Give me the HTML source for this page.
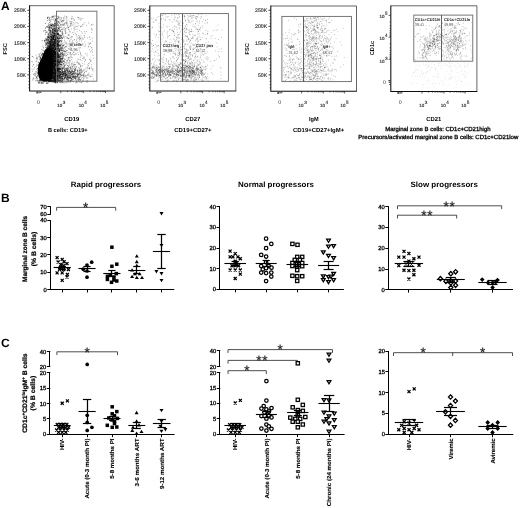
<!DOCTYPE html>
<html><head><meta charset="utf-8"><title>Figure</title>
<style>
html,body{margin:0;padding:0;background:#fff;}
body{width:520px;height:508px;overflow:hidden;font-family:"Liberation Sans",sans-serif;}
svg{display:block;font-family:"Liberation Sans",sans-serif;}
</style></head><body>
<svg width="520" height="508" viewBox="0 0 520 508" text-rendering="geometricPrecision">
<defs><filter id="b1" x="-20%" y="-20%" width="140%" height="140%"><feGaussianBlur stdDeviation="0.7"/></filter><filter id="soft2" x="0" y="0" width="520" height="508" filterUnits="userSpaceOnUse"><feGaussianBlur stdDeviation="0.22"/></filter><filter id="soft" x="0" y="0" width="520" height="508" filterUnits="userSpaceOnUse"><feGaussianBlur stdDeviation="0.42"/></filter></defs>
<rect width="520" height="508" fill="#fff"/>
<g filter="url(#soft)">
<g filter="url(#b1)">
<path d="M45.6 49.5 C44 53 42 57 40.4 60.5 C38.8 63.5 37.9 66 37.9 70 C37.9 74 38.4 77.5 40.2 79.8 C42.5 81.6 46.5 82 49.5 80.8 C52 79.6 52.8 77 52.9 73 C53 66 52.8 60 52.7 55 C52.6 51 52 48.6 49.8 48.2 C47.8 48 46.4 48.4 45.6 49.5Z" fill="#000"/>
</g>
<path d="M44.65 71.65h0.8M44.76 64.88h0.8M42.16 68.55h0.8M49.71 65.41h0.8M49.44 64.3h0.8M47.06 66.39h0.8M39.44 80.12h0.8M47.47 68.46h0.8M39.34 59.33h0.8M42.31 66.34h0.8M46.73 64.89h0.8M47.53 59.23h0.8M46.74 68.42h0.8M43.15 82.98h0.8M47.66 73.87h0.8M43.3 63.07h0.8M44.33 67.04h0.8M47.94 65.94h0.8M43.94 60.62h0.8M43.67 78.42h0.8M42.61 71.74h0.8M47.18 52.8h0.8M45.78 76.8h0.8M38.15 72.07h0.8M45.21 60.36h0.8M47.44 63.99h0.8M40.18 79.09h0.8M48.08 71.39h0.8M50.93 63.58h0.8M46.04 55.58h0.8M47.88 59.09h0.8M43.93 58.17h0.8M42.02 66.15h0.8M50.37 44.95h0.8M40.21 74.33h0.8M50.94 65.3h0.8M38.57 53.96h0.8M46.92 59.14h0.8M41.46 78.89h0.8M49.68 63.3h0.8M46.51 69h0.8M51.5 65.02h0.8M47.52 68.8h0.8M39.8 83.15h0.8M49.13 66.89h0.8M38.3 69.4h0.8M48.72 48.53h0.8M44.92 75.44h0.8M47.64 63.06h0.8M46.8 70.41h0.8M46.05 75.22h0.8M43.15 65.85h0.8M49.45 62.5h0.8M42.34 77.67h0.8M51.02 56.99h0.8M40.49 71.01h0.8M45.05 64.71h0.8M50.8 52.56h0.8M50.26 51.2h0.8M42.69 74.76h0.8M49.78 68.83h0.8M46.88 66.25h0.8M46.16 70.51h0.8M44.95 69.44h0.8M47.72 64.19h0.8M48.43 67.95h0.8M53.04 60.97h0.8M44.02 65.24h0.8M45.55 73.98h0.8M44.35 70.96h0.8M52.4 38.45h0.8M41.44 73.01h0.8M47.07 66.8h0.8M44 73.51h0.8M46.64 61.16h0.8M54.59 59.51h0.8M43.55 67.95h0.8M44.77 66.91h0.8M35.51 73.64h0.8M49.33 53.02h0.8M45.35 74.43h0.8M48.77 75.02h0.8M39.3 70.55h0.8M44.34 72.89h0.8M49.64 40.52h0.8M49.63 50.46h0.8M48.13 51.74h0.8M46.25 75.39h0.8M45.05 68.64h0.8M48.55 64.41h0.8M45.27 79.18h0.8M49.48 59.89h0.8M55.76 46.16h0.8M48.98 60.66h0.8M46.09 71.63h0.8M46.42 70.73h0.8M39.95 60.55h0.8M47.88 56.27h0.8M41.8 58.84h0.8M50.29 67.37h0.8M51.05 53h0.8M45.6 57.33h0.8M48.43 76.17h0.8M42.31 82.65h0.8M49.26 61.07h0.8M45.24 62.04h0.8M47.08 68.18h0.8M51.14 52.23h0.8M49.8 73.85h0.8M50.97 59.17h0.8M42.85 77.7h0.8M46.03 67.03h0.8M50.87 58.61h0.8M37.1 72.69h0.8M38.74 80.59h0.8M46.77 60.3h0.8M45.56 73.23h0.8M45.89 76.84h0.8M45.37 75.11h0.8M51.12 73.4h0.8M43.11 76.29h0.8M38.66 65.39h0.8M38.34 83.04h0.8M41.04 71.39h0.8M44.89 67.05h0.8M43.41 70.77h0.8M52.23 59.6h0.8M47.56 72.39h0.8M44.87 57.18h0.8M43.55 77.38h0.8M39.51 68.36h0.8M49.33 68.79h0.8M45.63 72.94h0.8M46.21 56.35h0.8M39.81 67.7h0.8M49.01 58.22h0.8M42.26 63.96h0.8M39.93 71.76h0.8M41.24 74.2h0.8M36.87 78.69h0.8M43.23 53.49h0.8M48.28 61.35h0.8M37.35 68.5h0.8M46.68 61.64h0.8M48.49 69.35h0.8M48.07 66.43h0.8M50.53 66.4h0.8M47.27 47.92h0.8M48.92 73.39h0.8M44.5 63.93h0.8M52.78 44.51h0.8M42.17 75.8h0.8M52.58 57.89h0.8M47.68 71.48h0.8M42.25 69.45h0.8M46.68 71.95h0.8M45.47 65.07h0.8M41.84 67.73h0.8M48.9 63.71h0.8M42.44 63.19h0.8M55.47 64.86h0.8M47.96 43.08h0.8M47.9 67.85h0.8M51.83 63.12h0.8M45.35 70.97h0.8M38.41 82.68h0.8M46.8 59.54h0.8M50.5 75.67h0.8M40.41 66.82h0.8M46.68 66.79h0.8M44.13 60.28h0.8M53.45 66.25h0.8M41.18 60.53h0.8M51.9 67.55h0.8M52.34 65.64h0.8M42.37 72.13h0.8M37.61 69.24h0.8M45.38 70.94h0.8M42.91 68.45h0.8M47.3 67.67h0.8M47.96 65.6h0.8M44.4 74.15h0.8M45.78 59.66h0.8M43.28 69.03h0.8M45.19 68.21h0.8M45.6 67.92h0.8M45.1 56.93h0.8M47.16 73.26h0.8M47.21 63.22h0.8M47.25 56.93h0.8M38.58 74.66h0.8M42.16 76.21h0.8M41.59 49.76h0.8M41.75 83.39h0.8M44.19 57.04h0.8M42.78 73.78h0.8M47.44 65.91h0.8M51.09 66.17h0.8M45.52 71.38h0.8M51.72 67.61h0.8M49.39 53.65h0.8M45.05 72.97h0.8M44.5 76.29h0.8M47.81 71.38h0.8M50.19 59.75h0.8M44.33 74.92h0.8M49.23 62.58h0.8M41.28 72.73h0.8M46.93 74.12h0.8M48.5 63.53h0.8M48.76 67.38h0.8M46.36 66.11h0.8M44.7 73h0.8M41.7 65.72h0.8M45.62 54.71h0.8M43.99 52.12h0.8M43.07 73.83h0.8M47.7 63.77h0.8M44.74 56.05h0.8M52.36 63.24h0.8M49.65 54.98h0.8M44.91 52.63h0.8M48.49 70.85h0.8M38.58 73.77h0.8M47.93 49.79h0.8M38.85 65.33h0.8M43.27 57.77h0.8M45.72 68.38h0.8M47.95 69.57h0.8M51.16 69.77h0.8M40.75 67.75h0.8M41.68 62.14h0.8M45.3 66.87h0.8M47.41 51.76h0.8M41.02 71.33h0.8M44.86 64.81h0.8M45.37 60.65h0.8M48.19 66.51h0.8M45.28 61.45h0.8M44.96 45.33h0.8M41.97 70.77h0.8M40.03 74.2h0.8M46.15 54.83h0.8M44.67 64.99h0.8M47.3 69.56h0.8M45.47 59.8h0.8M45.07 66.56h0.8M48.32 65.89h0.8M42.93 58.54h0.8M44.22 62.06h0.8M41.49 70.07h0.8M43.78 69.34h0.8M47.54 61.06h0.8M54.2 54.5h0.8M49.68 63.02h0.8M49.73 42.88h0.8M42.82 71.53h0.8M47.83 82.84h0.8M46.79 75.48h0.8M48.44 71.01h0.8M47.49 63.18h0.8M47.48 55.77h0.8M49.97 53.54h0.8M46.52 82.54h0.8M44.77 67.56h0.8M49.9 62h0.8M42.61 71.85h0.8M47.75 69.85h0.8M51.77 59.9h0.8M46.59 61.97h0.8M50.83 55.11h0.8M48.09 59.91h0.8M43.03 75.09h0.8M50.54 61.02h0.8M43.09 75.77h0.8M45.42 69.2h0.8M51.23 69.43h0.8M45.61 72.8h0.8M43.2 68.76h0.8M50.65 51.2h0.8M40.03 59.57h0.8M49.95 58.04h0.8M45.38 64.23h0.8M45.15 58.24h0.8M45.69 54.84h0.8M45.34 69.27h0.8M47.33 62.74h0.8M42.26 71.44h0.8M43.81 81.05h0.8M48.44 62.46h0.8M43.86 62.76h0.8M42.13 67.46h0.8M46.69 69.45h0.8M47.7 81.06h0.8M42.99 69.46h0.8M55.94 40.18h0.8M43.67 69.98h0.8M46.17 69.15h0.8M44.72 70.41h0.8M45.8 72.49h0.8M38.6 67.05h0.8M45.59 58.22h0.8M41.73 75.78h0.8M43.2 74.24h0.8M48.36 65.94h0.8M47.48 63.6h0.8M40.39 71.97h0.8M47.28 60.41h0.8M45.23 72.92h0.8M42.35 75.2h0.8M52.49 54.5h0.8M46.14 64.7h0.8M51.3 62.8h0.8M48.92 57.32h0.8M45.54 66.49h0.8M48.93 48.8h0.8M48.35 62.43h0.8M47.26 67.63h0.8M40.05 70.87h0.8M51.12 55.83h0.8M41.82 59.72h0.8M41.08 74.14h0.8M51.86 63.1h0.8M46.51 83.46h0.8M43.68 63.19h0.8M47.56 68.77h0.8M41.85 61.21h0.8M46.68 67.31h0.8M40.76 70.17h0.8M43.59 72.4h0.8M45.17 66.28h0.8M44.29 76.4h0.8M50.75 57.92h0.8M48.73 56.98h0.8M45.87 72.24h0.8M51.2 57.29h0.8M45.33 68.38h0.8M40.06 72.7h0.8M43.1 72.22h0.8M41.42 55.19h0.8M45.74 68.44h0.8M43.57 75.87h0.8M44.59 62.74h0.8M47.37 51.96h0.8M43.09 69.08h0.8M48.74 61.75h0.8M46.74 59.98h0.8M46.72 78.65h0.8M43.22 69.25h0.8M46.24 74.03h0.8M41.02 54.63h0.8M47.84 70.44h0.8M46.36 67.71h0.8M49.04 65.7h0.8M51.76 49.81h0.8M44.21 40.33h0.8M48.61 60.22h0.8M49.02 80.07h0.8M45.58 64.48h0.8M43.75 61.79h0.8M43.27 74.19h0.8M45.74 66.88h0.8M44.96 74.55h0.8M47.43 63.36h0.8M48.06 62.59h0.8M41.33 82.87h0.8M47.32 56.92h0.8M49.59 64.9h0.8M46.83 72.31h0.8M46.33 64.5h0.8M39.87 80.58h0.8M45.71 64.08h0.8M46.9 65.71h0.8M48.1 60.78h0.8M45.47 49.46h0.8M44.03 73.65h0.8M50.55 58.16h0.8M45.15 79.72h0.8M44.39 73.72h0.8M51.81 60.02h0.8M50.14 55.82h0.8M46.37 65.04h0.8M46.03 75.11h0.8M54.44 51.47h0.8M43.47 72.83h0.8M41.7 74.77h0.8M47.72 61.95h0.8M47.57 51.9h0.8M48.41 51.01h0.8M43.02 64.85h0.8M44.12 75.03h0.8M45.9 62.98h0.8M47.61 77.01h0.8M45.62 69.41h0.8M50.19 63.63h0.8M53.77 41.6h0.8M45.46 70.01h0.8M49.17 67.97h0.8M44.59 59.13h0.8M45.98 74.39h0.8M41.57 62.66h0.8M45.51 51.03h0.8M44.64 64.05h0.8M47.27 59.03h0.8M42.34 66.9h0.8M45.42 61.36h0.8M45.64 72.48h0.8M49.98 75.4h0.8M42.7 66.3h0.8M42.92 69.17h0.8M47.53 53.46h0.8M47.32 64.41h0.8M38.84 76.24h0.8M50.02 46.65h0.8M48.59 64.91h0.8M47.36 68.13h0.8M50.42 59.42h0.8M48.83 59.67h0.8M48.29 57.01h0.8M45.2 80.85h0.8M47.25 63.42h0.8M41.36 64.79h0.8M46.32 73.27h0.8M47.18 68.99h0.8M45.45 77.54h0.8M44.15 63.66h0.8M48.89 63.41h0.8M44.57 63h0.8M44.65 72.55h0.8M46.91 55.35h0.8M47.18 66.21h0.8M41.9 76.76h0.8M44.56 64.94h0.8M48.54 73.89h0.8M43.05 72.81h0.8M43.77 78.1h0.8M43.2 75.64h0.8M53.81 37.09h0.8M43.99 72.28h0.8M45.26 61.5h0.8M53.56 58.42h0.8M39.52 80.02h0.8M39.23 82.72h0.8M43.46 70h0.8M50.27 62.34h0.8M40.45 58.5h0.8M49.98 67.66h0.8M42.58 76.71h0.8M47.44 69.69h0.8M37.24 73.22h0.8M48.93 68.75h0.8M48.86 43.18h0.8M46.23 69.77h0.8M55.04 48.5h0.8M44.38 68.12h0.8M48.88 59.35h0.8M49.84 55.52h0.8M46.59 61.18h0.8M46.19 60.31h0.8M39.69 81.75h0.8M46.72 60.78h0.8M46.34 73.64h0.8M41.98 69.57h0.8M47.59 68.55h0.8M44.36 50.92h0.8M50.2 64.1h0.8M45.65 64.21h0.8M46.57 62.01h0.8M41.81 64.7h0.8M43.39 64h0.8M41.31 76.31h0.8M40.75 77.11h0.8M41.85 73.44h0.8M50.68 62.57h0.8M42.9 69.85h0.8M46.15 51.97h0.8M43.35 70.27h0.8M43.86 69.04h0.8M48.32 69.69h0.8M48.95 67.56h0.8M44.53 67.52h0.8M44.6 65.08h0.8M44.94 53.37h0.8M44.37 67.66h0.8M42 70.25h0.8M47.51 63.09h0.8M53.28 37.14h0.8M44.84 52.66h0.8M36.34 77.66h0.8M47.52 61.97h0.8M47.64 46.24h0.8M48.75 66.04h0.8M45.68 61.69h0.8M47.96 60.01h0.8M46.43 61.5h0.8M37.29 75.35h0.8M46.35 71.74h0.8M42.36 69.78h0.8M47.88 65.17h0.8M50.2 77.48h0.8M42.24 54.74h0.8M48.77 75.32h0.8M49.01 69.31h0.8M43.31 63.27h0.8M48.89 55.58h0.8M38.89 65.83h0.8M54.82 71.87h0.8M43.06 63.42h0.8M46.46 59.54h0.8M50.45 60.56h0.8M41.58 81.42h0.8M43.44 70.64h0.8M45.55 64.02h0.8M46.8 59.62h0.8M38.78 56.22h0.8M40.91 65.53h0.8M45.52 67.04h0.8M47.66 65.21h0.8M42.66 64.02h0.8M37.76 73.72h0.8M47.39 68.79h0.8M45.15 65.59h0.8M49.06 62.83h0.8M48.33 68.19h0.8M46.39 76.14h0.8M43.48 65.94h0.8M42.61 63.37h0.8M51.36 74.34h0.8M45.68 70.97h0.8M49.95 68.23h0.8M50.06 51.47h0.8M43.23 72.73h0.8M50.91 61.52h0.8M42.42 67.13h0.8M43.16 62.28h0.8M51.15 55.39h0.8M49.98 64.4h0.8M43.34 72.28h0.8M51.6 64.94h0.8M50.27 62.18h0.8M47.51 62.79h0.8M47.18 75.22h0.8M40.3 71.79h0.8M46.49 60.94h0.8M44.46 74.07h0.8M53.01 63.45h0.8M46.81 52.71h0.8M52.73 59.31h0.8M45.47 57.65h0.8M45.39 57.92h0.8M45.86 69.96h0.8M45.72 68.62h0.8M42.45 81.44h0.8M43.18 54.53h0.8M44.91 61.12h0.8M41.86 67.74h0.8M46.68 55.82h0.8M45.09 78.52h0.8M48.13 62.51h0.8M46.07 65.02h0.8M45.42 72.58h0.8M45.26 47.55h0.8M45.52 59.44h0.8M48.01 58.96h0.8M46.15 83.4h0.8M41.73 61.7h0.8M40.38 52.97h0.8M38.65 77.04h0.8M43.24 54.07h0.8M40.11 77.47h0.8M42.73 66.69h0.8M46.82 76.06h0.8M52.78 66.94h0.8M46.13 67.4h0.8M52.27 70.68h0.8M44.45 71.44h0.8M46.66 65.76h0.8M43.75 57.86h0.8M43.62 56.25h0.8M50.13 65.86h0.8M41.14 82.6h0.8M48.9 47.55h0.8M52.41 65.55h0.8M53.24 48.25h0.8M47.56 67.75h0.8M46.35 67.06h0.8M49.5 50.22h0.8M41 60.32h0.8M43.54 63.89h0.8M46.96 67.15h0.8M45.72 60.93h0.8M43.96 75.94h0.8M48.43 64.22h0.8M44.41 80.29h0.8M43.4 74.12h0.8M49.87 59.69h0.8M48.65 54.19h0.8M49.35 64h0.8M39.73 78.31h0.8M42.3 80.42h0.8M43.09 67.93h0.8M46.65 62.68h0.8M46.56 61h0.8M48.09 63.82h0.8M46.38 43.52h0.8M49.9 62.05h0.8M39 74.49h0.8M47.33 73.21h0.8M41.59 83.32h0.8M45.06 72.56h0.8M44.24 59.02h0.8M49.66 69.34h0.8M51.29 67.16h0.8M43.48 55.46h0.8M43.19 63.71h0.8M42.58 74.48h0.8M46.81 63h0.8M46.24 64.63h0.8M46.39 71.68h0.8M49.15 57.1h0.8M46.02 74.92h0.8M39.52 70.5h0.8M45.7 54.8h0.8M43.69 74.41h0.8M49.59 74.94h0.8M42.4 58.73h0.8M47.53 71.95h0.8M46.31 55.26h0.8M48.49 69.7h0.8M47.65 60.34h0.8M46.72 71.62h0.8M43.53 53.94h0.8M46.82 69.03h0.8M45.65 73.59h0.8M43.43 68.21h0.8M44.47 72.33h0.8M51.5 58.02h0.8M53.2 70.47h0.8M48.53 68.02h0.8M52.15 57.88h0.8M45.19 58.41h0.8M47.35 75.39h0.8M47.57 67.74h0.8M44.86 68.68h0.8M40.33 80.7h0.8M44.08 59.28h0.8M42.82 62.92h0.8M48.76 71.54h0.8M40.58 79.44h0.8M48.89 58.25h0.8M40.1 66.53h0.8M43.25 71.82h0.8M44.28 51.65h0.8M46.46 53.22h0.8M48.95 53.13h0.8M43.04 62.44h0.8M43.59 79.13h0.8M48.75 67.89h0.8M46.78 52.77h0.8M43.67 64.17h0.8M41.98 74.55h0.8M42.86 63.8h0.8M41.74 54.19h0.8M47.8 74.79h0.8M46.25 57.94h0.8M35.59 78.85h0.8M50.1 63.96h0.8M49.03 74.63h0.8M49.77 58.39h0.8M49.49 68.47h0.8M39.91 69.47h0.8M40.33 71.39h0.8M47.74 55.57h0.8M46.99 76.8h0.8M40.7 80.38h0.8M53.27 74.23h0.8M44.82 69.51h0.8M45.03 75.15h0.8M49.44 63h0.8M40.57 77.96h0.8M43.86 73.46h0.8M46.57 78.48h0.8M49.81 58.27h0.8M46.89 79.26h0.8M43.61 72.16h0.8M50.01 71.78h0.8M47.52 53.79h0.8M40.93 73.6h0.8M42.41 79.13h0.8M48.45 49.95h0.8M42.57 71.15h0.8M43.77 67.26h0.8M47.34 58.09h0.8M47.33 59.5h0.8M43.58 73.02h0.8M43.48 71.13h0.8M51.52 60.24h0.8M45.06 73h0.8M44.25 76.68h0.8M40.85 76.67h0.8M43.71 62.15h0.8M52.15 52.5h0.8M52.1 64.68h0.8M50.98 52.76h0.8M50.04 73.35h0.8M45.17 65.93h0.8M54.69 57.98h0.8M44.04 63.15h0.8M47.25 67.35h0.8M46.26 79.62h0.8M44.39 71.63h0.8M51 52.52h0.8M49.44 77.02h0.8M40.59 63.17h0.8M41.76 55.87h0.8M47.28 49.75h0.8M47.45 76.16h0.8M39.62 70.5h0.8M38.5 80.53h0.8M42.87 67.35h0.8M45.8 70.66h0.8M44.32 68.03h0.8M43.58 69.64h0.8M41.26 71.76h0.8M38.45 70.39h0.8M52.69 59.38h0.8M40.94 73.67h0.8M42 57.17h0.8M42.88 75.41h0.8M47.02 64.17h0.8M42.17 61.58h0.8M50.59 63h0.8M42.08 53.39h0.8M41.35 70.54h0.8M46.38 64.38h0.8M44.57 56.59h0.8M42.8 76.36h0.8M39.33 71.16h0.8M46.57 73.77h0.8M41.45 75.83h0.8M47.03 59.01h0.8M47.37 57.35h0.8M42.65 69.57h0.8M35.56 76.61h0.8M41.9 58.79h0.8M44.03 74.35h0.8M44.1 78.31h0.8M41.31 60.65h0.8M51.34 63.42h0.8M49.1 56.03h0.8M48.58 65.33h0.8M48 64.08h0.8M50.06 56.4h0.8M42.03 58.53h0.8M49.89 55.87h0.8M41.74 63.17h0.8M43.95 58.08h0.8M44.53 62.64h0.8M43.56 61.02h0.8M45.74 62.65h0.8M46.02 68.04h0.8M46.86 47.53h0.8M43.62 62.27h0.8M48.46 50.68h0.8M42.96 67.03h0.8M44.36 75.83h0.8M43.96 76.05h0.8M40.18 57.87h0.8M50.11 65.06h0.8M47.4 65.51h0.8M47.39 54.77h0.8M49.11 58.38h0.8M49.25 63.21h0.8M38.3 64.15h0.8M49.77 60.83h0.8M44.14 70.05h0.8M44.03 63.85h0.8M45.98 67.24h0.8M51.21 60.72h0.8M52.56 73.38h0.8M51.95 68.08h0.8M46.08 67.07h0.8M45.07 61.2h0.8M45.35 61.62h0.8M51.67 64.15h0.8M43.95 52.91h0.8M45.4 63.37h0.8M41.58 61.76h0.8M37.27 80.19h0.8M45.49 65.43h0.8M50.94 61.73h0.8M46.22 62.84h0.8M43.36 81h0.8M49.3 76.24h0.8M44.31 68.16h0.8M42.34 77.84h0.8M40.45 76.68h0.8M49.66 73.4h0.8M42.12 79.06h0.8M42.96 63.31h0.8M40.7 81.15h0.8M51.7 55.05h0.8M42.79 66.85h0.8M54.88 64.42h0.8M43.59 54.28h0.8M43.11 78.77h0.8M52.51 56.79h0.8M43.04 65.2h0.8M38.62 81.44h0.8M41.58 79.44h0.8M39.28 63.21h0.8M46.67 59.19h0.8M48.49 63.4h0.8M41.25 76.26h0.8M48.72 47.71h0.8M52.36 63.1h0.8M48.41 48.47h0.8M42.94 66.61h0.8M49.59 50.41h0.8M42.33 53.77h0.8M44.71 70.26h0.8M39.36 68.58h0.8M47.49 77.18h0.8M48.06 61.37h0.8M41.24 63.74h0.8M43.14 70.37h0.8M45.42 80.1h0.8M46.66 56.72h0.8M51.31 67.87h0.8M45.97 60.3h0.8M38.68 65.86h0.8M48.97 56.36h0.8M40.72 73.42h0.8M46.5 70.39h0.8M48.03 75.17h0.8M42.49 77.76h0.8M41.95 76.08h0.8M46.26 67.73h0.8M49.18 62.44h0.8M49.72 69.03h0.8M46.1 61.4h0.8M42.81 65.31h0.8M44.85 67.12h0.8M56.63 59.56h0.8M48.45 56.47h0.8M42.97 66.81h0.8M46.31 57.4h0.8M51.56 55.44h0.8M49.59 43.36h0.8M45.57 68.76h0.8M46.31 70.56h0.8M46.64 66.67h0.8M38.6 68.43h0.8M36.93 81.04h0.8M46.74 63.68h0.8M42.56 65.15h0.8M52.43 72.94h0.8M45.38 77.09h0.8M39.72 57.38h0.8M43.81 61.42h0.8M43.53 70.28h0.8M56.79 48.94h0.8M45.78 68.52h0.8M45.47 74.12h0.8M52.17 49.31h0.8M46.2 63.72h0.8M46.92 52.75h0.8M39.1 55h0.8M47.54 65.92h0.8M45.87 47.18h0.8M44.22 61.94h0.8M40.37 64.87h0.8M48.18 68.05h0.8M45.52 70.73h0.8M43.37 69.52h0.8M45.75 70.79h0.8M45.34 65.63h0.8M45.1 61.86h0.8M53.86 61.59h0.8M47.19 83.18h0.8M50.79 48.31h0.8M48.17 70.42h0.8M52.57 69.44h0.8M48.45 53.92h0.8M42.38 72.19h0.8M47.47 56.25h0.8M44.18 64.84h0.8M45.82 68.96h0.8M44.54 57.72h0.8M50.2 74.3h0.8M45.21 75.17h0.8M47.24 70h0.8M47.38 58.42h0.8M47.72 72.3h0.8M53.33 72.69h0.8M52.96 64.41h0.8M44.35 63.05h0.8M42.59 70.72h0.8M45.48 72.02h0.8M54.02 57.06h0.8M48.1 67.58h0.8M46.61 63.71h0.8M45.15 60.37h0.8M46.26 65.59h0.8M46.78 58.33h0.8M45.75 66.72h0.8M47.84 55.51h0.8M47.15 72.7h0.8M47.81 61.12h0.8M43.78 66.59h0.8M48.3 76.03h0.8M45.02 61.97h0.8M46.99 66.62h0.8M42.24 64.25h0.8M45.22 72.31h0.8M41.19 63.15h0.8M47.45 54.64h0.8M46 68.89h0.8M45.19 58.77h0.8M45.38 64.07h0.8M46.84 58.4h0.8M49.64 48.62h0.8M44.95 67.28h0.8M49.16 57.72h0.8M47.62 59.73h0.8M48.33 77.47h0.8M44.12 71.68h0.8M42.17 78.08h0.8M50.08 61.88h0.8M41.4 74.33h0.8M49.85 70.6h0.8M48.61 48.49h0.8M43.08 80.68h0.8M41.06 80.56h0.8M52.57 65h0.8M49.74 59.29h0.8M41.07 70.64h0.8M44.86 66.92h0.8M48.18 62.52h0.8M46.31 69.13h0.8M45.58 81.34h0.8M47.24 65.39h0.8M44.83 62.32h0.8M50.57 62.26h0.8M41.61 66.35h0.8M45.09 63.47h0.8M49.61 52.77h0.8M47.42 65.66h0.8M41.24 71.65h0.8M45.25 70.91h0.8M43.93 70.76h0.8M39.44 64.54h0.8M48.5 71.69h0.8M45.55 61.74h0.8M49.61 45.3h0.8M42.64 75.14h0.8M48.01 55.56h0.8M46.17 58.68h0.8M45.8 73.53h0.8M48.34 46.78h0.8M48.45 49.07h0.8M49.82 65.09h0.8M53.93 52.47h0.8M45.62 74.9h0.8M43.23 63.43h0.8M44.22 67.42h0.8M41.6 74.77h0.8M47.61 64.87h0.8M51.89 56.98h0.8M50.43 56.81h0.8M48.4 47.89h0.8M46.33 64.29h0.8M43.77 63.6h0.8M44.31 62.12h0.8M37.49 70.59h0.8M43.57 64.51h0.8M41.69 69.69h0.8M48.5 61.31h0.8M43.78 79.41h0.8M49.21 69.95h0.8M49.88 59.19h0.8M45.12 75.97h0.8M43.55 67.78h0.8M47 67.97h0.8M44.58 75.52h0.8M44.94 73.05h0.8M49.56 67.46h0.8M48.31 54.21h0.8M40.75 66.84h0.8M47.36 76.64h0.8M41.08 73.92h0.8M42.44 64.07h0.8M44.58 73.18h0.8M46.39 75.12h0.8M41.95 77.64h0.8M49.04 63.29h0.8M47.37 60.04h0.8M41.57 67.66h0.8M43.81 81.73h0.8M46.35 68.19h0.8M48.35 57.23h0.8M48.99 65.81h0.8M39.99 77.47h0.8M47.64 67.9h0.8M51.46 56.75h0.8M47.49 70.44h0.8M42.27 79.79h0.8M40.23 61.93h0.8M47.53 55.63h0.8M45.17 53.75h0.8M45.86 57.11h0.8M46.87 52.8h0.8M47.26 62.54h0.8M45.84 65.7h0.8M46.08 55.35h0.8M36.11 77.16h0.8M42.14 66.64h0.8M47.18 48.82h0.8M42.78 64.69h0.8M41.69 73.41h0.8M45.08 60.47h0.8M41.96 76.98h0.8M43.16 73.87h0.8M47.26 49.46h0.8M41.59 70.91h0.8M46.87 71.38h0.8M48.57 71.56h0.8M44.22 66.32h0.8M48.47 59.94h0.8M49.51 49.45h0.8M48.02 62.46h0.8M38.32 82.34h0.8M46.75 65.41h0.8M41.62 67.12h0.8M51.19 53.73h0.8M41.16 70.3h0.8M44.14 60.76h0.8M42.49 78.33h0.8M43.59 59.92h0.8M48.51 67.85h0.8M41.74 76.74h0.8M38.79 66.53h0.8M49.77 59.88h0.8M40.78 75.9h0.8M48.99 62.61h0.8M38.91 71.03h0.8M47.15 70.99h0.8M52.46 56.96h0.8M43.81 68.15h0.8M50.06 54.05h0.8M50.43 39.12h0.8M48.55 57.84h0.8M47.3 70.17h0.8M41.22 70.6h0.8M46.49 70.25h0.8M42.16 62.3h0.8M44.89 65.49h0.8M40.07 80.03h0.8M43.62 80.2h0.8M48.75 63.22h0.8M48.29 54.62h0.8M44.39 63.19h0.8M40.9 71.78h0.8M45.06 78.62h0.8M42.2 66.49h0.8M47.16 68.04h0.8M45.7 62.58h0.8M47.43 67.39h0.8M38.78 71.86h0.8M40.51 62.57h0.8M46.14 66.39h0.8M46.02 59h0.8M44.86 59.98h0.8M47.01 70.49h0.8M52.09 69.57h0.8M42.62 66.08h0.8M42.13 72.76h0.8M52.93 64.17h0.8M37.46 65.3h0.8M40.82 75.88h0.8M45.6 68.91h0.8M52.19 52.64h0.8M46.87 58.85h0.8M38.09 62.47h0.8M36.56 76.95h0.8M45.76 74.3h0.8M45.08 61.49h0.8M39.07 75.05h0.8M45.69 71.35h0.8M44.1 72.15h0.8M48.62 62.01h0.8M43.91 66.86h0.8M42.03 68.74h0.8M44.48 69.41h0.8M50.54 71.6h0.8M43.95 73.15h0.8M46.69 71.43h0.8M45.68 68.55h0.8M43.87 62.09h0.8M48.83 73.41h0.8M54.1 40.29h0.8M55.78 53.47h0.8M52.01 35.6h0.8M48.45 57.5h0.8M57.1 18.67h0.8M53.68 63.3h0.8M50.44 61.17h0.8M55.07 45.88h0.8M55.3 51.9h0.8M56.97 60.24h0.8M48.65 29.62h0.8M51.25 39.96h0.8M51.73 44.66h0.8M55.66 32.59h0.8M57.82 37.56h0.8M44.58 63.71h0.8M52.35 43.8h0.8M50.53 59.96h0.8M50.64 53.18h0.8M54.88 69.54h0.8M56.23 56.2h0.8M53.71 78.89h0.8M56.29 45.52h0.8M49.99 50.98h0.8M50.55 72.99h0.8M57.15 65.96h0.8M45.69 40.57h0.8M54.91 73.56h0.8M56.33 70.49h0.8M60.12 54.37h0.8M56.49 41.13h0.8M59.4 78.62h0.8M60.95 68.83h0.8M49.42 47.4h0.8M51.23 54.08h0.8M55.23 39.95h0.8M48.41 52.35h0.8M50.88 45.4h0.8M47.26 27.15h0.8M53.23 77.87h0.8M62.11 54.5h0.8M48.57 67.11h0.8M51.86 55.46h0.8M53.54 81.18h0.8M54.74 63.79h0.8M50.16 51.55h0.8M53.32 59.39h0.8M47.94 64.91h0.8M62.58 24.7h0.8M51.42 59.25h0.8M48.7 81.31h0.8M58.16 21.93h0.8M57.71 76.82h0.8M47.77 75.63h0.8M49.64 73.03h0.8M58.04 70.31h0.8M58.72 72.98h0.8M59.01 61.5h0.8M47.6 73.99h0.8M57.72 49.05h0.8M53.36 39.93h0.8M56.52 59.11h0.8M43.43 81.89h0.8M54.59 77.13h0.8M54.66 40.88h0.8M58.82 75.96h0.8M49.09 63h0.8M52.63 56.45h0.8M52.53 47.46h0.8M51.05 58.27h0.8M61.46 73.27h0.8M52.51 45.89h0.8M48.81 50.37h0.8M55.56 69.51h0.8M48.94 59.93h0.8M50.56 48.42h0.8M58.08 53.25h0.8M52.26 43.73h0.8M51.14 48.27h0.8M48.78 68.9h0.8M62.07 52.7h0.8M53.56 37.35h0.8M53.47 68.85h0.8M56.17 60.55h0.8M49.95 59.49h0.8M49.12 58.29h0.8M52.63 35.19h0.8M54.35 51.69h0.8M58.91 35.68h0.8M51.53 25.84h0.8M56.6 69.77h0.8M57.61 60.8h0.8M58.04 58h0.8M52.76 78.43h0.8M60.07 68.33h0.8M50.98 38.14h0.8M46.02 39.25h0.8M53.26 72.91h0.8M50.66 79.22h0.8M55.87 57.71h0.8M52.53 60.65h0.8M54.1 54.07h0.8M56.58 34.31h0.8M50.81 71.25h0.8M56.09 65.67h0.8M46.92 57.59h0.8M46.37 32.06h0.8M53.17 65.75h0.8M49.91 69.31h0.8M55.21 61.67h0.8M52.76 50.4h0.8M49.69 53.87h0.8M56.89 56.42h0.8M53.32 69.29h0.8M55.11 38.45h0.8M54.04 42.41h0.8M47.91 81.09h0.8M56.38 62.76h0.8M52.39 44.95h0.8M57.34 63.49h0.8M57.33 57.59h0.8M59.31 46.03h0.8M52.19 29.81h0.8M60.19 24.83h0.8M54.99 74.43h0.8M50.95 54.65h0.8M56.97 45.02h0.8M49.61 60.41h0.8M55.33 76.67h0.8M61.35 76.48h0.8M52.06 56.91h0.8M53.11 39.27h0.8M63.49 66.74h0.8M54.37 50.33h0.8M49.78 56.33h0.8M50.34 73.96h0.8M59.07 51.11h0.8M52.92 77.9h0.8M57.18 81.32h0.8M50.51 61.33h0.8M57.9 65.71h0.8M55.44 55.01h0.8M54.35 61.86h0.8M48.68 25.39h0.8M51.85 79.99h0.8M46.56 66.78h0.8M56.1 34.32h0.8M53.67 30.74h0.8M48.79 50.52h0.8M49.14 66.48h0.8M48.77 58.33h0.8M60.07 31.5h0.8M51.51 27.47h0.8M50.57 23.81h0.8M51.06 64.27h0.8M50.87 36.98h0.8M55.91 39.84h0.8M54.52 58.97h0.8M51.81 81.46h0.8M48.24 60.13h0.8M50.9 53.08h0.8M52.53 54.37h0.8M54.05 45.86h0.8M51.32 60.36h0.8M57.02 58.74h0.8M50.34 79.22h0.8M55.92 66.61h0.8M56.91 44.86h0.8M57.41 33.98h0.8M57.07 81.16h0.8M49.25 63.32h0.8M59.13 68.93h0.8M47.57 63.6h0.8M54.62 21.88h0.8M49.29 47.91h0.8M50.94 58.03h0.8M58.5 44.87h0.8M50.22 38.31h0.8M45.83 80.14h0.8M57.18 64.44h0.8M60.71 53.94h0.8M58.12 69.66h0.8M60.35 74h0.8M53.15 46.08h0.8M59.12 30.99h0.8M50.38 63.35h0.8M57.88 68.91h0.8M52.01 60.12h0.8M48.68 76.98h0.8M55.15 69.02h0.8M54.45 33.1h0.8M50.09 49.87h0.8M57.21 65.39h0.8M46.13 50.1h0.8M54.47 75.67h0.8M57.09 62.9h0.8M60.12 77.06h0.8M49.84 56.8h0.8M56.83 79.82h0.8M48.5 44.06h0.8M56.58 41.87h0.8M60.74 53.79h0.8M55.12 76.74h0.8M49.66 28.04h0.8M61.54 68.83h0.8M48.72 75.08h0.8M52.77 77.34h0.8M51.45 37.95h0.8M54.62 67.87h0.8M48.89 41.59h0.8M47.98 70.22h0.8M48.66 80.61h0.8M49.38 32.72h0.8M48.42 64.65h0.8M52.73 60.93h0.8M50.55 68.2h0.8M50.84 74.17h0.8M58.86 49.98h0.8M53.68 64.07h0.8M46.29 56.32h0.8M53.76 75.88h0.8M50.25 77.6h0.8M50.95 73h0.8M60.43 74.95h0.8M51.37 67.87h0.8M56.41 52.57h0.8M53.3 66.28h0.8M53.97 79.81h0.8M53.14 36.71h0.8M47.21 79.97h0.8M56.28 63.07h0.8M47.51 53.52h0.8M49.98 75.57h0.8M49.72 62.03h0.8M59.93 80.76h0.8M57.91 33.85h0.8M53.45 43.24h0.8M51.46 41.58h0.8M50.29 26.95h0.8M52.17 38.13h0.8M56.52 44.43h0.8M51.89 69.38h0.8M56.46 62.03h0.8M48.35 61.9h0.8M54.12 79.98h0.8M52.45 47.88h0.8M52.26 40.76h0.8M51.58 64.25h0.8M50.85 39.62h0.8M55.71 60.63h0.8M56.64 34h0.8M52.59 60.23h0.8M51.7 40.37h0.8M49.54 55.29h0.8M54.66 35.39h0.8M54.06 53.93h0.8M54.45 49.66h0.8M48.72 75.55h0.8M52.77 37.62h0.8M50.71 42.79h0.8M49 64.41h0.8M56.22 48.8h0.8M53.11 56.7h0.8M59.73 59.09h0.8M52.79 72.92h0.8M61.57 38.36h0.8M50.56 68.52h0.8M53.25 56.41h0.8M58.87 46.09h0.8M49.51 30.79h0.8M52.16 67.94h0.8M45.23 44.87h0.8M53.25 55.7h0.8M49.89 49.63h0.8M47.35 63.98h0.8M53.75 58.78h0.8M51.74 32.52h0.8M49.88 77.45h0.8M52.29 45.09h0.8M49.78 59.62h0.8M51.07 53.94h0.8M53.38 73.07h0.8M60.23 47.02h0.8M47.8 55.42h0.8M57.38 40.33h0.8M49.48 49.09h0.8M55.51 70.95h0.8M58.13 34.4h0.8M47.24 63.25h0.8M50 32.62h0.8M54.34 72.98h0.8M54.06 35.74h0.8M51.9 31.11h0.8M52.21 49.26h0.8M59.54 56.39h0.8M51.42 58.86h0.8M49.38 44.04h0.8M49.66 53.59h0.8M51.41 36.62h0.8M45.48 32.7h0.8M52.1 32.25h0.8M53.75 67.43h0.8M58.71 54.69h0.8M55.49 49.35h0.8M54.56 81.77h0.8M54.06 54.31h0.8M51.81 42.69h0.8M53.6 76.29h0.8M55.56 68.82h0.8M52.69 55.97h0.8M51.83 77.8h0.8M56.82 54.31h0.8M59.24 49.48h0.8M46.04 51.82h0.8M56.73 60.43h0.8M51.2 69.81h0.8M49.82 45.67h0.8M52.05 66.72h0.8M50.38 81.38h0.8M47.39 49.99h0.8M55.37 73.58h0.8M55.2 40.13h0.8M50.73 80.84h0.8M48.42 43.59h0.8M53.51 29.66h0.8M50.6 51.48h0.8M59.68 35.93h0.8M53.28 59.19h0.8M57.68 57.28h0.8M50.7 31.37h0.8M54.3 59.17h0.8M53.21 65.87h0.8M50.64 64.36h0.8M57.51 54.12h0.8M56.69 53.04h0.8M62.79 79.13h0.8M47.92 37.19h0.8M50.33 75.28h0.8M60.06 36.39h0.8M51.41 37.75h0.8M61.25 56.15h0.8M62.21 74.55h0.8M50.21 80.85h0.8M54.95 72.83h0.8M47.23 51.98h0.8M54.28 69.77h0.8M60.19 64.29h0.8M48.91 80.14h0.8M50.77 55.06h0.8M60.72 72.63h0.8M51.02 25.58h0.8M54.13 43.78h0.8M54.96 58.12h0.8M49.48 66.14h0.8M56.37 41.17h0.8M56.36 51.86h0.8M57.06 44.59h0.8M53.2 37.57h0.8M61.24 59.16h0.8M52.68 70.26h0.8M58.08 38.52h0.8M55.43 61h0.8M55.77 49.7h0.8M54.45 67.61h0.8M53.23 52.44h0.8M49.78 51.52h0.8M58.28 61.75h0.8M51.06 69.6h0.8M53.33 39.93h0.8M53.3 51.61h0.8M52.75 66.84h0.8M49.55 47.61h0.8M51.75 72.09h0.8M53.68 37.24h0.8M47.4 55.78h0.8M45.32 30.64h0.8M51.13 34.87h0.8M51.18 56.67h0.8M59.59 48.23h0.8M48.38 55.45h0.8M47.9 36.15h0.8M44.78 72.69h0.8M52.89 53.94h0.8M49.88 55.03h0.8M50.87 76.6h0.8M57.91 60.21h0.8M51.34 47.19h0.8M54.63 43.94h0.8M49.4 77.96h0.8M55.65 73.19h0.8M48.29 80.95h0.8M49.93 79.36h0.8M54.88 51.76h0.8M49.37 50.59h0.8M56.15 57.62h0.8M58.94 68.25h0.8M56.86 74.59h0.8M49.8 53.42h0.8M59.82 56.87h0.8M53.55 42.05h0.8M53.86 58.08h0.8M58.85 40.18h0.8M48.64 37.39h0.8M54.84 60.45h0.8M54.89 40.94h0.8M49.16 77.78h0.8M53.78 60.44h0.8M55.37 58.05h0.8M61.28 59.31h0.8M48.16 78.46h0.8M53.64 45.01h0.8M51.89 78.07h0.8M52.78 36.35h0.8M52.72 41.64h0.8M59.88 38.07h0.8M51.47 33.02h0.8M53.98 46.37h0.8M49.33 45.7h0.8M57.85 75.73h0.8M52.42 67.86h0.8M46.71 80.99h0.8M50.17 77.08h0.8M54.98 72.61h0.8M46.34 73.2h0.8M54.73 66.89h0.8M53.57 72.46h0.8M54.38 70.16h0.8M55.11 35.06h0.8M52.24 51.15h0.8M51.25 50.16h0.8M51.14 77.83h0.8M54.97 49.61h0.8M55.66 49.03h0.8M50.84 71.14h0.8M60.78 62.5h0.8M54.83 73.83h0.8M53.03 77.79h0.8M57.04 46.37h0.8M50.09 63.17h0.8M53.64 49.73h0.8M52.83 48.83h0.8M46.64 49.95h0.8M46.63 77.48h0.8M60.28 72.49h0.8M50.21 56.16h0.8M55.72 20.9h0.8M52.79 57.61h0.8M51.04 79.17h0.8M52.61 47.59h0.8M50.12 65.86h0.8M46.74 78.9h0.8M48.74 77.2h0.8M53.37 63.42h0.8M50.3 21.67h0.8M50.29 56.12h0.8M54.87 44.8h0.8M46.64 70.83h0.8M55.54 52.62h0.8M47.33 68.96h0.8M57 48.8h0.8M51.35 78.07h0.8M53.37 43.74h0.8M48.33 34.77h0.8M54.48 52.46h0.8M53.56 17.13h0.8M60.97 18.1h0.8M49.85 55.35h0.8M52.34 63.96h0.8M54.57 28.08h0.8M56.89 69.48h0.8M52.18 57.72h0.8M53.09 63.17h0.8M54.14 33.12h0.8M51.88 60.27h0.8M61.83 57.09h0.8M52.19 30.24h0.8M53.07 60.94h0.8M47.63 50.78h0.8M56.58 38.43h0.8M57.98 68.45h0.8M53.01 81.48h0.8M49.29 80.41h0.8M58.64 60.41h0.8M54.12 74.76h0.8M60.38 76.69h0.8M56.36 26.2h0.8M51.81 65.86h0.8M46.67 50.07h0.8M54 54.24h0.8M52.23 61.43h0.8M52.38 67.75h0.8M48.5 48.42h0.8M56.8 77.02h0.8M55.1 79.28h0.8M44.22 40.37h0.8M58.1 73.97h0.8M46.33 61.96h0.8M59.5 65.45h0.8M49.15 69.17h0.8M56.41 29.02h0.8M55.36 61.84h0.8M52.46 58.97h0.8M58.75 41.56h0.8M54.34 28.52h0.8M55.37 76.04h0.8M56.03 73.24h0.8M52.23 68.49h0.8M53.4 78.91h0.8M56.24 42.72h0.8M49.09 53.24h0.8M50.1 81.13h0.8M44.79 56.73h0.8M50.75 72.49h0.8M54.55 61.37h0.8M53.63 79.94h0.8M50.57 43.61h0.8M54.96 61.87h0.8M54.57 31.07h0.8M55.29 77.07h0.8M57.16 54.41h0.8M55.08 55.27h0.8M56.05 78.64h0.8M54.3 30.68h0.8M57.83 45.79h0.8M53.42 33.49h0.8M52.69 50.8h0.8M53.31 50.52h0.8M52.61 16.24h0.8M55.74 49.54h0.8M56.36 76.4h0.8M51.61 71.35h0.8M57.53 43.22h0.8M49.25 53.72h0.8M52.43 65.51h0.8M50.91 48.84h0.8M50.26 45.2h0.8M51.63 64.58h0.8M48.04 67.24h0.8M58.07 43.8h0.8M48.74 48.31h0.8M49.15 55.43h0.8M55.44 81.77h0.8M49.26 81.16h0.8M57.44 70.9h0.8M50.08 40.19h0.8M49.89 71.96h0.8M53.24 54.28h0.8M53.17 75.87h0.8M53.77 70.8h0.8M52.7 78.03h0.8M48.49 60.21h0.8M54.02 49.72h0.8M55.51 60.73h0.8M49.45 46.18h0.8M51.05 78.76h0.8M47.23 48.17h0.8M57.31 65.12h0.8M46.02 55.45h0.8M50.81 69.98h0.8M53.04 54.51h0.8M59.49 45.57h0.8M55.27 30.49h0.8M50.93 46.66h0.8M52.68 32.73h0.8M57.64 73.81h0.8M55.6 65.93h0.8M49.12 32.85h0.8M56.58 44.64h0.8M50.1 80.21h0.8M58.91 55.29h0.8M58.28 28.78h0.8M57.62 44.27h0.8M61.41 37.42h0.8M55.95 61.37h0.8M58.08 61.31h0.8M48.02 74.03h0.8M51.47 49.88h0.8M54.78 81.69h0.8M53.68 56.93h0.8M52.57 71.8h0.8M49.77 41.18h0.8M61.03 21.74h0.8M49.72 30.83h0.8M50.29 55.59h0.8M50 62.77h0.8M48.52 49.25h0.8M50.3 65.35h0.8M53.3 51.97h0.8M55.02 74.3h0.8M54.37 65.77h0.8M47.9 61.76h0.8M52.81 80.88h0.8M49.62 51.22h0.8M53.26 41.8h0.8M53.6 56.81h0.8M55.17 55.86h0.8M51.9 47.11h0.8M52.82 37.81h0.8M52.59 63.71h0.8M56.8 62.09h0.8M47.97 74.57h0.8M57.7 61.29h0.8M52.18 35.19h0.8M61.5 58.62h0.8M48.04 57.51h0.8M53.76 62.01h0.8M51.52 62.49h0.8M50.42 66.78h0.8M52.33 64.98h0.8M52.57 32.12h0.8M53.31 64.91h0.8M48.83 54.91h0.8M54.62 58.72h0.8M53.15 76.86h0.8M45.69 64.32h0.8M48.86 63h0.8M54.59 43.54h0.8M48.9 53.14h0.8M53.43 67.32h0.8M50.12 44.83h0.8M47.47 32.15h0.8M52.8 52.31h0.8M46.22 57.77h0.8M53.2 44.68h0.8M52.98 67.01h0.8M60.44 53.36h0.8M52.5 66.97h0.8M54.27 60.65h0.8M52.9 39.2h0.8M49.49 74.23h0.8M56.61 53.45h0.8M50.23 70.97h0.8M57.32 76.3h0.8M58.52 76.56h0.8M53.69 35.92h0.8M51.26 56.84h0.8M48.83 51.87h0.8M54.39 71.38h0.8M49.23 63.26h0.8M52.63 52.24h0.8M53.14 69.73h0.8M52.3 39.17h0.8M49.92 56.25h0.8M56.29 44.65h0.8M52.7 54.65h0.8M51.58 48.49h0.8M54.39 81.9h0.8M53.3 36.08h0.8M49.98 44.14h0.8M51.32 60.55h0.8M54.13 55.93h0.8M56.95 45.42h0.8M56.97 66.88h0.8M61.29 41.72h0.8M52.75 33.42h0.8M49.99 30.33h0.8M51.28 73.58h0.8M52.18 37.22h0.8M57.8 60h0.8M53.7 50.83h0.8M58.67 64.65h0.8M48.13 40.85h0.8M54.51 66.55h0.8M54.17 53.41h0.8M50.27 42.03h0.8M51.89 75.29h0.8M54.03 79.81h0.8M48.19 58.89h0.8M49.44 41.38h0.8M49.55 30.87h0.8M51.34 58.27h0.8M49.71 41.25h0.8M51.63 44.84h0.8M52.62 48.93h0.8M50.12 80.79h0.8M49.18 42.34h0.8M59.93 58.36h0.8M49.06 62.07h0.8M51.99 45.11h0.8M55.28 67.98h0.8M48.93 57.85h0.8M53.19 39.19h0.8M52.19 80.23h0.8M47.44 45.57h0.8M49.54 60.19h0.8M50.41 54.69h0.8M53.54 33.62h0.8M45.44 69.21h0.8M61.94 72.88h0.8M61.56 61.48h0.8M52.83 75.68h0.8M55.56 48.31h0.8M48.38 49.06h0.8M48.52 49.36h0.8M52.04 71.48h0.8M55.72 64.4h0.8M53.25 56.88h0.8M57.73 69.27h0.8M55.7 57.82h0.8M43.36 74.03h0.8M50 40.99h0.8M52.28 63.28h0.8M55.78 76.72h0.8M48.16 80.18h0.8M61.94 65.08h0.8M57.85 41.13h0.8M55.45 55.92h0.8M58.71 36.3h0.8M48.75 68.4h0.8M50.61 61.14h0.8M55.93 42.42h0.8M60.76 73h0.8M57.09 75.77h0.8M51.74 49.12h0.8M54.87 52.32h0.8M50.9 50.41h0.8M48.38 57.27h0.8M56.92 56.25h0.8M54.18 57.65h0.8M53.8 48.41h0.8M57.16 30.91h0.8M52.37 42.38h0.8M48.84 26.88h0.8M55.33 49.88h0.8M49.75 69.06h0.8M54.38 33.94h0.8M49.78 72.84h0.8M55.28 63.67h0.8M60.64 48.6h0.8M52.94 46.89h0.8M53.29 53.86h0.8M59.38 45.11h0.8M51.38 25.79h0.8M53.05 80.69h0.8M55.89 35.62h0.8M55.36 77.37h0.8M49.65 44.2h0.8M58.72 45.54h0.8M56.97 30.79h0.8M54.72 73.55h0.8M52.17 76.53h0.8M56.54 61.66h0.8M53.22 72.22h0.8M54.75 44.4h0.8M55.25 19.18h0.8M55.64 60.55h0.8M56.37 76.31h0.8M48.46 70.34h0.8M50.47 25.9h0.8M54.52 74.27h0.8M55.78 77.89h0.8M53.88 43.11h0.8M50.58 43.12h0.8M49.7 51.32h0.8M43.27 47.78h0.8M51.06 46.36h0.8M53.02 68.6h0.8M51.9 17h0.8M53.76 54.57h0.8M53.7 58.72h0.8M55.25 51.85h0.8M49.37 66.18h0.8M53.85 33.55h0.8M52.65 78.04h0.8M55.17 20.14h0.8M52.61 55.95h0.8M49.52 50.91h0.8M55.09 47.64h0.8M57.05 66.77h0.8M53.08 74.73h0.8M56.54 36.5h0.8M50.68 70.11h0.8M46.21 70.78h0.8M56.82 68.35h0.8M52.99 50.64h0.8M46.78 60.98h0.8M63.33 61.69h0.8M51.03 39.64h0.8M56.74 70.82h0.8M54.22 76.55h0.8M50.21 53.6h0.8M54.71 56.35h0.8M50.89 62.65h0.8M53.32 64.43h0.8M54.47 41.36h0.8M55.73 45.43h0.8M52.75 58.05h0.8M52.51 57.55h0.8M55.78 59.11h0.8M53.03 81.71h0.8M57.64 39.74h0.8M50.57 44.74h0.8M53.8 39.78h0.8M47.61 70.31h0.8M52.05 49.5h0.8M57.08 46.48h0.8M54.76 59.05h0.8M49.07 26.89h0.8M53.14 43.79h0.8M52.92 67.08h0.8M51.64 38.15h0.8M56.65 57.86h0.8M51.08 43.92h0.8M42.94 62.26h0.8M57.18 44.38h0.8M51.09 77.89h0.8M52.82 55.38h0.8M57.29 47.1h0.8M51.38 35.9h0.8M55.34 81.65h0.8M45.13 62.93h0.8M53.65 50.95h0.8M52.88 70.03h0.8M60.91 48.23h0.8M49.08 34.15h0.8M55.61 50.21h0.8M58.01 49.18h0.8M55.21 65.23h0.8M58.4 54.48h0.8M54.16 32.2h0.8M60.93 64.64h0.8M58.46 63.21h0.8M52.59 52.65h0.8M49.77 37.26h0.8M56.41 54.56h0.8M50.91 25.25h0.8M53.83 54.17h0.8M53.29 28.4h0.8M54.04 42.63h0.8M54.81 58.5h0.8M60.05 45.69h0.8M45.38 68.62h0.8M51.18 59.06h0.8M54.96 80.43h0.8M48.48 69h0.8M51.16 80.05h0.8M60.06 60.14h0.8M55.57 73.53h0.8M50.25 58.53h0.8M54.55 52.46h0.8M59.85 59.07h0.8M52.26 69.91h0.8M49.45 80.84h0.8M53.04 55.43h0.8M50.94 75.3h0.8M49.63 56.59h0.8M51.73 64.18h0.8M49.11 63.65h0.8M54.05 56.71h0.8M53.96 65.76h0.8M42.64 77.38h0.8M50.59 59.61h0.8M55.24 30.02h0.8M56.92 63.08h0.8M53.63 78.93h0.8M46.05 54.62h0.8M53.14 61.75h0.8M55.67 64.51h0.8M49.68 50.52h0.8M51.36 74.21h0.8M48.47 50.07h0.8M53.39 62.01h0.8M47.42 38.52h0.8M52.66 37.65h0.8M50.59 61.48h0.8M48.97 47.6h0.8M54.17 68.41h0.8M51.76 62.97h0.8M53.83 35.73h0.8M57.19 70.14h0.8M58.24 62.02h0.8M57.23 78.49h0.8M57.06 34.84h0.8M56.02 32.96h0.8M54.49 78.01h0.8M45.35 40.31h0.8M53.75 43.14h0.8M46.03 58.93h0.8M51.34 36.67h0.8M53.98 78.7h0.8M56.1 63.46h0.8M55.54 56.65h0.8M48.52 64.08h0.8M57.3 79.23h0.8M49.69 64.9h0.8M49.18 59.88h0.8M54.88 55.19h0.8M54.13 66.95h0.8M57.99 68.82h0.8M53.34 73.12h0.8M56.94 55.14h0.8M57.24 75.49h0.8M47.2 18.42h0.8M53.03 57.22h0.8M49.94 42.97h0.8M49.74 54.36h0.8M51.32 69.3h0.8M51.52 80.02h0.8M43.9 41.29h0.8M53.12 62.28h0.8M55.45 39.4h0.8M46.29 75.66h0.8M48.92 72.87h0.8M50.69 47.79h0.8M59.08 62.37h0.8M49.9 63.14h0.8M55 42.8h0.8M55.22 62.07h0.8M54.26 57.03h0.8M52.35 53.94h0.8M54.83 69.63h0.8M42.37 69.22h0.8M56.09 68.41h0.8M49.14 56.07h0.8M61.91 78.97h0.8M49.21 45.79h0.8M51.7 70.1h0.8M51.13 63.19h0.8M54.72 36.02h0.8M57.9 67.11h0.8M59.45 68.31h0.8M52.94 74.68h0.8M58.29 61.92h0.8M55.6 78.21h0.8M50.4 34.65h0.8M44.96 23.43h0.8M49.93 79.84h0.8M52.3 56.81h0.8M54.46 34.82h0.8M51.52 56.18h0.8M57.06 43.75h0.8M52.92 61.1h0.8M47.29 37.15h0.8M61.4 70.77h0.8M51.94 71.99h0.8M52.07 80.62h0.8M46.42 55.01h0.8M50.78 55.24h0.8M56.38 56.51h0.8M49.78 71.62h0.8M51.24 39.89h0.8M49.23 77.06h0.8M57.59 48.79h0.8M50.01 34.39h0.8M50.32 63.19h0.8M50.24 48.75h0.8M50.89 61.99h0.8M51.71 70.18h0.8M51.87 66.66h0.8M56.84 61.75h0.8M47.26 48.98h0.8M49.73 78.42h0.8M52.45 50.8h0.8M49.52 67.88h0.8M55.58 81.79h0.8M49.66 67.43h0.8M58.37 72.08h0.8M55.26 72.79h0.8M51.23 62.82h0.8M49.39 51.75h0.8M52.11 71.24h0.8M57.28 34.63h0.8M54.5 60.48h0.8M60.35 40.54h0.8M50.32 57.07h0.8M50.07 51.13h0.8M58.15 44.56h0.8M49.21 52.86h0.8M52.81 25.18h0.8M57.5 34.46h0.8M53.73 36.65h0.8M49.82 78.45h0.8M52.02 53.92h0.8M51.85 16.99h0.8M43.2 67.22h0.8M48.21 33.68h0.8M55.08 43.07h0.8M47.69 37.06h0.8M53.29 75.7h0.8M55.55 77.84h0.8M47.14 45.13h0.8M50.69 28.37h0.8M55.58 69.51h0.8M52.97 33.8h0.8M50.38 27.53h0.8M52.61 48.4h0.8M54.47 33.56h0.8M53.7 26.21h0.8M44.46 30.64h0.8M52.18 54.16h0.8M53.11 68.93h0.8M55.14 63.82h0.8M58.03 44.64h0.8M44.63 61.47h0.8M55.58 31.14h0.8M54.78 41.78h0.8M58.71 56.78h0.8M48.21 55.6h0.8M56.64 71.13h0.8M50.27 24.87h0.8M48.27 69.11h0.8M50.03 77.57h0.8M52 53.56h0.8M54.04 67.33h0.8M50.68 70.09h0.8M54.01 50.8h0.8M48.79 51.02h0.8M57.87 57.12h0.8M48.91 49.67h0.8M54.79 31.31h0.8M51.48 48.19h0.8M49.92 46.46h0.8M54.78 50.93h0.8M52.21 45.34h0.8M53.97 45.76h0.8M45.67 80.8h0.8M53.38 51.1h0.8M40.63 58.91h0.8M61.54 72.48h0.8M50.96 46.61h0.8M49.11 77.26h0.8M51.7 61.62h0.8M43.02 70.41h0.8M62.77 54.82h0.8M57.12 57.22h0.8M50.66 17.16h0.8M56.29 66.51h0.8M55.35 60.54h0.8M55.65 34.15h0.8M55.69 59h0.8M50.39 71.85h0.8M56.21 80.43h0.8M54.07 73.67h0.8M48.15 62.86h0.8M52.1 57.39h0.8M56.46 39.04h0.8M55.66 72.79h0.8M51.57 38.46h0.8M46.4 52.47h0.8M55.44 48.9h0.8M47.5 43.06h0.8M47.99 37.51h0.8M50.92 52.06h0.8M53.88 25.95h0.8M52.62 76.54h0.8M50 53.37h0.8M47.66 40.21h0.8M55.14 70.15h0.8M54.13 41.75h0.8M54.96 53.72h0.8M47.39 44.32h0.8M56.47 46.55h0.8M44.1 51.06h0.8M53.3 48.58h0.8M46.26 44.52h0.8M51.31 81.41h0.8M51.03 36.8h0.8M49.93 48.87h0.8M58.2 35.93h0.8M49.79 69.45h0.8M50.42 70.19h0.8M57.44 33.73h0.8M53.15 70.94h0.8M42.51 75.39h0.8M51.63 77.25h0.8M49.31 62.48h0.8M51.3 38.66h0.8M53.41 81.96h0.8M53.58 56.6h0.8M50.31 47.36h0.8M53.25 62.88h0.8M42.53 46.24h0.8M53.09 43.88h0.8M58.06 62.6h0.8M47.28 72.12h0.8M60.18 52.34h0.8M51.28 51.71h0.8M48.95 48.04h0.8M47.02 65.2h0.8M57.37 44.25h0.8M58.07 76.42h0.8M55.15 39.8h0.8M46.6 58.66h0.8M52.78 80.96h0.8M54.14 64.34h0.8M49.1 44.8h0.8M60.38 40.38h0.8M45.57 77.23h0.8M54.9 69.63h0.8M50.34 57.17h0.8M53.22 58.59h0.8M53.04 42.77h0.8M45.41 43.04h0.8M53.12 66.58h0.8M53.58 49.01h0.8M54.24 61.16h0.8M47.9 65.64h0.8M51.72 39.54h0.8M51.17 56.98h0.8M53.81 67.9h0.8M53.48 54.79h0.8M52.78 65.43h0.8M63.6 53.82h0.8M49.59 78.91h0.8M56.68 56.06h0.8M57.48 77.1h0.8M58.34 55.1h0.8M50.04 66.25h0.8M55.36 43.04h0.8M48.48 70.49h0.8M55.27 47.06h0.8M50.48 68.35h0.8M50.94 54.46h0.8M52.8 58.67h0.8M45.95 50.76h0.8M48.13 72.85h0.8M47.56 56.94h0.8M51.2 55.72h0.8M52.05 50.38h0.8M49.83 33.41h0.8M50.29 50.66h0.8M52.2 41.64h0.8M54.64 74.23h0.8M48.12 48.94h0.8M52.12 64.45h0.8M52.81 76.68h0.8M50.67 56.06h0.8M52.52 71.89h0.8M54.8 52.73h0.8M56.2 45.3h0.8M49.98 33.04h0.8M51.46 60.51h0.8M59.19 51.75h0.8M54.02 61.39h0.8M53.77 61.89h0.8M53.41 47.72h0.8M54.13 74.4h0.8M47.11 17.56h0.8M53.03 46.1h0.8M53.47 43.51h0.8M50.4 48.48h0.8M47.65 76.34h0.8M52.63 65.18h0.8M52.24 78.38h0.8M61.52 50.5h0.8M56.05 31.27h0.8M48.48 42.44h0.8M46.99 63.65h0.8M56.42 43.74h0.8M53.34 50.87h0.8M50.33 73.16h0.8M52.76 64.07h0.8M43.89 81.5h0.8M49.37 60.94h0.8M56.28 80.81h0.8M50.32 68.31h0.8M55.93 57.82h0.8M47.24 48.71h0.8M53.03 53.25h0.8M49.62 70.32h0.8M48.42 57.29h0.8M48.8 61.16h0.8M57.43 59.16h0.8M59.33 75.92h0.8M48.64 50.58h0.8M44.99 56.16h0.8M52.51 46.81h0.8M52.4 67.27h0.8M51.48 77.39h0.8M57.13 41.72h0.8M57.22 37.14h0.8M50.77 44.08h0.8M49.45 79.84h0.8M53.76 36.25h0.8M53.79 56.53h0.8M56.73 75.48h0.8M54.2 62.92h0.8M51.69 61.66h0.8M54.53 62.82h0.8M48.76 46.09h0.8M48.42 80.6h0.8M55.56 35.69h0.8M50.49 71.52h0.8M46.42 45.87h0.8M53.82 61.33h0.8M55.17 52.55h0.8M58.85 81.28h0.8M57.62 69.63h0.8M49.65 35.82h0.8M48.98 28.99h0.8M58.38 48.47h0.8M52.38 60.9h0.8M50.45 29.98h0.8M49.85 38.8h0.8M51.5 81.94h0.8M49.71 64.78h0.8M50.67 69.34h0.8M47.78 81.75h0.8M50.31 80.48h0.8M50.97 55.84h0.8M57.03 33.45h0.8M51.84 72.58h0.8M51.07 57.34h0.8M50.8 27.71h0.8M55.78 77.14h0.8M51.86 53.51h0.8M51.09 42.9h0.8M46.24 56.56h0.8M52.93 50.7h0.8M57.6 81.54h0.8M53.27 51.48h0.8M60.83 76.47h0.8M58.4 40.06h0.8M51.56 52.54h0.8M58.55 59.68h0.8M56.17 66.91h0.8M50.58 55.09h0.8M56.41 37.62h0.8M56.72 37.12h0.8M52.19 54.3h0.8M40.14 57.16h0.8M52.7 25.71h0.8M54.87 39.79h0.8M58.63 51.28h0.8M56.31 48.88h0.8M54.76 41.67h0.8M54.46 74.23h0.8M56.64 44.15h0.8M56.23 53.14h0.8M59.61 37.48h0.8M59.45 60.82h0.8M56.55 67.63h0.8M49.82 47.07h0.8M57.94 39.97h0.8M51.28 56.5h0.8M49.61 70.54h0.8M49.86 37.9h0.8M48.64 58.88h0.8M55.42 51.19h0.8M52.44 36.51h0.8M51.91 53.19h0.8M57.77 57.54h0.8M48.78 38h0.8M52.32 61.55h0.8M48.47 74.33h0.8M54.75 56.34h0.8M53.8 76.72h0.8M51.6 59.84h0.8M52.46 56.82h0.8M46.1 55.41h0.8M51.35 56.31h0.8M50.19 73.65h0.8M52.45 29.76h0.8M54.69 75.35h0.8M46.76 42.16h0.8M54.1 68.04h0.8M53.86 55.57h0.8M52.55 55.46h0.8M49.16 46.82h0.8M60.45 81.76h0.8M56.81 62.19h0.8M55.33 79.55h0.8M47.29 39.21h0.8M54.32 76.99h0.8M53.74 47.32h0.8M48.4 23.87h0.8M57.97 71.15h0.8M56.77 38.09h0.8M56.86 55.82h0.8M55.18 52.31h0.8M51.99 75.73h0.8M51.76 46.02h0.8M54.18 26.16h0.8M55.14 53.88h0.8M54.79 66.96h0.8M49.5 73.99h0.8M52.67 36.51h0.8M54 45.69h0.8M58.32 60.26h0.8M58.73 50.94h0.8M48.31 66.44h0.8M50.96 61.31h0.8M58.06 47.19h0.8M52.45 81.95h0.8M62.11 58.71h0.8M48.33 72.05h0.8M54.94 23.92h0.8M57 23.7h0.8M52.47 54.12h0.8M52.83 27.7h0.8M53.23 81.39h0.8M54.28 41.11h0.8M57.9 39.7h0.8M56.39 61.14h0.8M57.63 65.5h0.8M52.08 78.24h0.8M51.83 61.18h0.8M49.23 49.29h0.8M54.53 59.79h0.8M54.07 73.59h0.8M51.77 60.05h0.8M58.25 18h0.8M46.4 39.17h0.8M55.05 65.09h0.8M54.49 67.67h0.8M62.35 48.45h0.8M48.71 47.56h0.8M45.64 80.57h0.8M44.62 59.17h0.8M51.22 52.77h0.8M54.28 60.4h0.8M58.61 71.22h0.8M49.62 72.29h0.8M54.87 53.14h0.8M46.92 47.08h0.8M53.71 78.12h0.8M48.74 41.15h0.8M55.01 53.39h0.8M50.05 74.41h0.8M48.16 39.47h0.8M51.47 77.07h0.8M56.05 26.97h0.8M58.07 56.16h0.8M47.66 54.81h0.8M55.14 76.31h0.8M56.13 60.9h0.8M48.12 34.15h0.8M47.89 75.52h0.8M54.63 50.94h0.8M48.28 77.94h0.8M51.13 76.96h0.8M57.8 34.91h0.8M54.21 54.67h0.8M47.84 40.74h0.8M52.04 69.71h0.8M55.31 61.11h0.8M49.64 63.05h0.8M53.17 24.89h0.8M53.69 58.41h0.8M56.16 43.68h0.8M54.11 77.65h0.8M43.81 65.48h0.8M48.1 46.39h0.8M52.66 48.94h0.8M50.8 47.13h0.8M55.69 47.67h0.8M51.77 68.01h0.8M49.81 60.79h0.8M50.81 66.81h0.8M52.23 73.6h0.8M58.64 44.81h0.8M55.32 80.54h0.8M41.78 40.58h0.8M51.43 60.89h0.8M50.38 76.51h0.8M50.91 73.14h0.8M53.64 75.57h0.8M48.62 27.72h0.8M51.76 74.9h0.8M54.93 43.05h0.8M52.36 75.18h0.8M61.81 80.94h0.8M58.93 50.75h0.8M51.61 53.7h0.8M54 53.08h0.8M56.15 66.04h0.8M52.93 29.29h0.8M54.1 63.62h0.8M47.52 40.22h0.8M52.93 25.13h0.8M53.72 73.73h0.8M56.66 65.57h0.8M54.81 81.67h0.8M50.64 64.08h0.8M50.11 73.88h0.8M54.72 33.58h0.8M49.34 24.62h0.8M57.8 79.7h0.8M51.17 46.15h0.8M55.06 73.65h0.8M46.97 78.18h0.8M54.09 73.67h0.8M53.72 65.03h0.8M50.77 50.22h0.8M53.01 56.53h0.8M53.65 37.76h0.8M60.92 53.04h0.8M52.5 37.36h0.8M48.49 57.26h0.8M51.24 78.87h0.8M60.31 60.28h0.8M52.63 36.85h0.8M50.42 53.21h0.8M52.08 60.11h0.8M45.03 38.84h0.8M50.46 67.81h0.8M57.99 42.15h0.8M50.19 56.66h0.8M54.45 39.85h0.8M49.52 75.27h0.8M54.75 62.87h0.8M54.8 73.21h0.8M51.17 57.47h0.8M49.39 64.73h0.8M57.6 43.54h0.8M53.5 32.77h0.8M51.73 31.75h0.8M46.56 58.89h0.8M51.29 49.11h0.8M50.04 67.6h0.8M48.4 30.62h0.8M52.31 56.27h0.8M61.49 40.5h0.8M48.67 66.16h0.8M54.8 60.97h0.8M44.16 56.91h0.8M52.81 67.51h0.8M51.39 52.77h0.8M52.61 63.44h0.8M46.07 78.34h0.8M51.9 58.4h0.8M58.27 62.6h0.8M49.79 70.06h0.8M48.32 50.93h0.8M47.78 78.46h0.8M55.27 54.31h0.8M54.75 34.35h0.8M56.28 55.01h0.8M55.71 58.66h0.8M63.02 63.75h0.8M49.62 61.83h0.8M46.94 59.08h0.8M51.5 59.02h0.8M53.58 50.27h0.8M52.17 77.37h0.8M45.19 62.91h0.8M60 54.8h0.8M54.14 80.94h0.8M55.07 75.22h0.8M46.81 70.13h0.8M43.6 51.32h0.8M50.41 55.6h0.8M50.69 58.74h0.8M58.29 45.75h0.8M56.24 57.61h0.8M56.01 53.36h0.8M53.38 38.21h0.8M52.27 60.13h0.8M48.68 60.38h0.8M50.88 76.03h0.8M54.09 68.97h0.8M56.02 36.23h0.8M52.26 62.95h0.8M42.47 53.06h0.8M52.64 79.11h0.8M52.29 56.42h0.8M50 81.02h0.8M46.88 20.35h0.8M51.23 74.55h0.8M51.32 81.26h0.8M45.44 43.08h0.8M51.63 72.78h0.8M53.96 80.52h0.8M55.21 76.01h0.8M49.59 51.43h0.8M53.82 55.21h0.8M50.03 76.49h0.8M49.38 49.84h0.8M50.06 54.42h0.8M52.45 74.2h0.8M49.02 52.13h0.8M49.83 54.13h0.8M54.7 80.36h0.8M50.39 69.74h0.8M55.56 38.08h0.8M48.01 63.73h0.8M48.48 44.02h0.8M54.43 52.93h0.8M54.04 70.54h0.8M56.61 81.93h0.8M57.85 38.39h0.8M48.74 70.61h0.8M54.91 60.74h0.8M50.37 69.49h0.8M52.39 73.67h0.8M50.84 71.41h0.8M53.32 73h0.8M54.68 69.36h0.8M46.53 38.93h0.8M51.11 41.85h0.8M54.87 54.16h0.8M50.88 76.9h0.8M54.68 80.53h0.8M55.72 53.46h0.8M57.35 46.18h0.8M56.84 56.98h0.8M50.9 59.67h0.8M50.06 74.58h0.8M49.79 52.23h0.8M52.76 41.23h0.8M55.87 30.52h0.8M61.05 80.92h0.8M51.58 65.23h0.8M52.81 42.68h0.8M58.45 73.35h0.8M62.24 70.84h0.8M54.79 63.9h0.8M51.08 51.23h0.8M57.36 59.48h0.8M57.31 24.86h0.8M46.48 65.57h0.8M62.07 62.15h0.8M50.2 36.95h0.8M57.6 33.35h0.8M51.47 41.41h0.8M50.94 55.7h0.8M56.14 64.76h0.8M54.9 81.77h0.8M52.82 52.21h0.8M51.95 73.57h0.8M54.46 60.34h0.8M56.71 48.67h0.8M45.14 54.82h0.8M55.22 69.93h0.8M56.32 77.8h0.8M48.45 69.66h0.8M49.92 39.4h0.8M50.46 42.04h0.8M52.28 73.61h0.8M53.79 46.49h0.8M63.02 45.56h0.8M48.56 59.28h0.8M52.1 62.84h0.8M50.26 71.78h0.8M55.62 55.98h0.8M47.42 34.14h0.8M53.51 50.65h0.8M53.03 36.5h0.8M54.43 53.85h0.8M47.82 49.24h0.8M52.96 75.31h0.8M56.56 32.11h0.8M53.11 45.75h0.8M52.41 38.3h0.8M50.76 45.94h0.8M54.28 65.07h0.8M49.29 78.35h0.8M54.7 71.34h0.8M54.81 69.35h0.8M55.33 80.13h0.8M58.62 54.92h0.8M58.84 63.88h0.8M58.69 62.48h0.8M43.87 57.47h0.8M53.14 55.35h0.8M50.51 45.79h0.8M61.28 61.76h0.8M56.17 44.74h0.8M60.03 61.19h0.8M55.28 59.86h0.8M50.79 56.24h0.8M57.93 38.38h0.8M51.98 78.32h0.8M52.23 43h0.8M52.11 44.83h0.8M46.8 61.35h0.8M55.3 20.13h0.8M58.62 42.44h0.8M53.03 35.93h0.8M53.94 72.07h0.8M56.91 75.58h0.8M56.17 29.91h0.8M48.56 51.8h0.8M55.16 69.92h0.8M47.45 59.92h0.8M49.79 30.76h0.8M55.81 53.11h0.8M55.78 52.58h0.8M63.28 51.35h0.8M50.94 69.76h0.8M49.01 69.95h0.8M56.42 59.21h0.8M51.36 66.45h0.8M56.76 80.47h0.8M55.49 45.58h0.8M48.2 25.26h0.8M49.71 70.47h0.8M50.02 57.61h0.8M55.84 81.35h0.8M52.22 53.99h0.8M53.43 50.61h0.8M60 61.5h0.8M48.57 29.83h0.8M58.29 46.66h0.8M52.7 58.17h0.8M57.91 52.05h0.8M49.22 76.49h0.8M50.29 72.77h0.8M55.87 52.89h0.8M45.17 79.39h0.8M52.88 65.93h0.8M46.04 52.05h0.8M53.7 55.12h0.8M48.78 81.29h0.8M57.3 68.33h0.8M54.61 79.93h0.8M63.56 55.05h0.8M54.94 70.21h0.8M52.88 43.43h0.8M54.24 25.16h0.8M54.51 53.32h0.8M51.63 71.44h0.8M52 49.31h0.8M56.21 70.21h0.8M53.49 69.94h0.8M50.51 66.91h0.8M58.54 54.73h0.8M55.68 75.38h0.8M59.14 38.2h0.8M57.44 43.12h0.8M50.69 74.67h0.8M50.84 69.64h0.8M52.31 80.99h0.8M53.87 60.01h0.8M56.24 42.25h0.8M55.36 37.14h0.8M46.65 72.18h0.8M51.43 40.52h0.8M53.97 45.82h0.8M45.49 27.4h0.8M50.28 58.03h0.8M50.54 24.87h0.8M50.28 74.33h0.8M49.29 81.67h0.8M45.98 48.48h0.8M52.86 55.43h0.8M53.1 66.22h0.8M52.88 47.65h0.8M56.89 43.72h0.8M54.13 23.15h0.8M48.28 74.53h0.8M54.18 67.56h0.8M56.64 58.23h0.8M53.76 35.65h0.8M55.43 24.79h0.8M55.9 39.55h0.8M53.7 62.1h0.8M52.64 45.74h0.8M49.05 42.7h0.8M54.34 33.42h0.8M49.67 53.09h0.8M59.91 56.56h0.8M54.88 63.12h0.8M54.75 70.4h0.8M48.86 79.2h0.8M54.95 27.9h0.8M46.31 61.38h0.8M48.35 37.01h0.8M52.62 39h0.8M48.07 78.74h0.8M52.86 72.23h0.8M54.08 39.78h0.8M50.18 43.2h0.8M55.7 52.89h0.8M61.86 62.24h0.8M52.9 77.83h0.8M54.41 39.18h0.8M52.76 61.19h0.8M54.47 52h0.8M57.59 69.09h0.8M57.7 62.62h0.8M52.64 53.18h0.8M57.11 55.59h0.8M56.27 58.87h0.8M50.33 43.21h0.8M56.6 51.62h0.8M60.85 43.93h0.8M53.86 52.18h0.8M49.75 65.72h0.8M48.85 47h0.8M50.62 60.13h0.8M54.59 47.7h0.8M51.86 45.11h0.8M51.04 37.66h0.8M50.84 74.24h0.8M54.22 60.62h0.8M55.52 46.18h0.8M54.64 47.27h0.8M58.06 46.74h0.8M62.61 68.78h0.8M50.07 57.34h0.8M47.3 63.9h0.8M54.07 45.59h0.8M53.34 68.53h0.8M49.53 54.61h0.8M59.02 73.2h0.8M45.92 52.92h0.8M54.9 68.22h0.8M48.98 62.14h0.8M49.5 41.44h0.8M49.43 73.58h0.8M52.86 47.44h0.8M59.98 71.61h0.8M50.22 45.17h0.8M51.4 26.07h0.8M56.62 49.35h0.8M62.34 80.38h0.8M45.25 74.65h0.8M51.22 48.12h0.8M57.05 43.68h0.8M53.94 72.42h0.8M54.69 61.77h0.8M46.56 60.41h0.8M50.16 71.2h0.8M50.45 58.31h0.8M44.04 73.72h0.8M55.64 54.22h0.8M53.09 78.97h0.8M55.3 53.26h0.8M56.75 65.1h0.8M53.07 45.75h0.8M49.29 62.95h0.8M48.72 46.51h0.8M48.35 72.65h0.8M53.7 51.59h0.8M49.07 65.57h0.8M52.44 75.3h0.8M54.7 65.72h0.8M57.04 41.01h0.8M54.9 23.36h0.8M53.65 39.4h0.8M46.41 77.93h0.8M40.74 55.78h0.8M60.27 64.51h0.8M52.35 39.35h0.8M60.68 50.58h0.8M52.66 54.71h0.8M52.16 45.43h0.8M53.76 72.11h0.8M53.06 44.49h0.8M52.68 70.85h0.8M58.47 48.04h0.8M55.01 48.84h0.8M56.74 20.93h0.8M46.05 63.08h0.8M58.03 30.38h0.8M51.87 74.21h0.8M55.54 74.99h0.8M52.69 61.13h0.8M52.09 62.22h0.8M57.68 46.93h0.8M49.03 22.44h0.8M54.06 62.79h0.8M51.52 44.77h0.8M46.14 68.22h0.8M53.1 38.3h0.8M51.11 37.53h0.8M49.05 59.18h0.8M50.5 59.41h0.8M48.12 39.58h0.8M55.19 16.04h0.8M51.36 25.28h0.8M52.25 72.34h0.8M53.2 62.47h0.8M61.48 41.64h0.8M51.75 16.9h0.8M54.08 44.39h0.8M46.28 42.94h0.8M52.45 60.08h0.8M47.19 63.96h0.8M51.82 51.4h0.8M52.57 68.14h0.8M54.43 55.9h0.8M49.64 67.35h0.8M51.32 64.99h0.8M55.84 64.96h0.8M50.88 77.91h0.8M50.55 47.56h0.8M49.05 53.22h0.8M46.6 77.59h0.8M53.5 52.73h0.8M54.89 54.51h0.8M49.01 67.2h0.8M54.21 60.74h0.8M48.64 61.29h0.8M55.71 24.84h0.8M52.27 71.93h0.8M47.82 17.04h0.8M59.16 29.7h0.8M54.01 76.61h0.8M51.6 40.02h0.8M48.87 64.57h0.8M47.54 51.01h0.8M54.81 80.17h0.8M50.9 66.32h0.8M57.25 78.02h0.8M52.24 51.23h0.8M48.23 58.28h0.8M49.37 60.46h0.8M49.87 53.17h0.8M52.87 50.86h0.8M57.17 41.98h0.8M49.89 48.09h0.8M62.89 56.81h0.8M50.4 63.85h0.8M49.08 55.58h0.8M50.6 81.84h0.8M48.23 65.34h0.8M57.69 77.35h0.8M51.09 59.38h0.8M56.8 60.13h0.8M47.34 58.92h0.8M54.12 71.11h0.8M52.87 73.55h0.8M52.66 29.29h0.8M54.39 65.81h0.8M49.49 77.78h0.8M54.35 67.37h0.8M50.38 42.23h0.8M51.95 24.56h0.8M47.82 55.05h0.8M49.88 36.13h0.8M49.89 55.48h0.8M46.02 71.64h0.8M54.78 76.08h0.8M43.62 53.97h0.8M48.44 45.45h0.8M57.06 64.45h0.8M58.53 28.39h0.8M54.24 66.98h0.8M54.22 56.6h0.8M56.69 19.75h0.8M62.44 50.52h0.8M48.43 46.48h0.8M60.06 45.01h0.8M52.6 49.01h0.8M55.67 28.53h0.8M49.15 47.97h0.8M49.88 73.57h0.8M52.32 46.47h0.8M52.64 65.19h0.8M50.61 47.28h0.8M59.84 60.38h0.8M54.96 64.85h0.8M43.28 77.62h0.8M55.36 40.06h0.8M52.59 80.58h0.8M50.85 67.88h0.8M50.86 35.1h0.8M53.25 63.43h0.8M49.4 46.54h0.8M50.05 31.57h0.8M50.73 41.51h0.8M58.95 76.56h0.8M54.74 40.01h0.8M56.19 73.3h0.8M56.07 56.34h0.8M53.74 58.53h0.8M51.62 69.6h0.8M56.61 80.2h0.8M52.82 70h0.8M48.94 47.27h0.8M52.8 62.12h0.8M51.99 78.95h0.8M52.09 45.42h0.8M49.19 53.24h0.8M55.9 48.03h0.8M60.64 27.2h0.8M53.29 51.11h0.8M51.64 51.22h0.8M50.29 20.11h0.8M55.19 72.37h0.8M55.7 67.05h0.8M59.42 61.47h0.8M52.71 74.26h0.8M54.66 60.34h0.8M56.75 42.99h0.8M50.19 41.79h0.8M47.79 43.43h0.8M50.33 68.39h0.8M45.67 75.89h0.8M50.16 81.13h0.8M52.42 33.76h0.8M45.69 51.89h0.8M48.61 51.29h0.8M46.84 64.93h0.8M54.46 81.1h0.8M50.87 40.03h0.8M49.04 79.7h0.8M51.34 58.71h0.8M46.71 75.44h0.8M55.04 79.49h0.8M58.39 41.88h0.8M51.99 77.22h0.8M51.31 44.64h0.8M56.65 54.85h0.8M57.69 67.6h0.8M56.3 71.67h0.8M53.96 62.76h0.8M55.67 49.35h0.8M54.6 25.99h0.8M55.31 56.93h0.8M53.69 62.24h0.8M48.64 37.18h0.8M56.88 37.7h0.8M55.26 73.21h0.8M52.52 48.24h0.8M52.23 54.84h0.8M53.83 39.26h0.8M50.6 72.57h0.8M54.36 35.81h0.8M47.46 41.79h0.8M57.94 68.56h0.8M52.44 70.07h0.8M54.67 49.37h0.8M49.68 55.85h0.8M54.77 58.56h0.8M52.32 63.69h0.8M50.4 51.15h0.8M56.79 68.41h0.8M51.41 75.29h0.8M49.71 46.84h0.8M60.03 38.49h0.8M48.57 27.5h0.8M50.33 61.82h0.8M52.31 68.94h0.8M48.84 59.21h0.8M56.71 54.97h0.8M51.49 58.57h0.8M56.17 39.15h0.8M54.1 70.55h0.8M52.77 72.68h0.8M48.07 52.22h0.8M51.26 42.2h0.8M56.94 31.45h0.8M54.81 70.19h0.8M58.34 41.98h0.8M51.02 60.79h0.8M51.51 48.04h0.8M48 47.29h0.8M53.7 58.66h0.8M50.85 40.19h0.8M52.4 41.36h0.8M57.08 37.84h0.8M51.27 25.1h0.8M54.18 44.57h0.8M47.75 50.53h0.8M54.79 53.83h0.8M55.6 21.72h0.8M56.55 49.98h0.8M50.2 65.91h0.8M48.46 77.61h0.8M51.93 64.98h0.8M51.64 63.95h0.8M57.02 54h0.8M51.29 44.53h0.8M52.66 32.58h0.8M57.93 50.37h0.8M54.17 64.95h0.8M55.71 57.66h0.8M45.91 56.75h0.8M51.4 56.45h0.8M49.74 54.53h0.8M58.47 56.04h0.8M52.48 61.88h0.8M50.76 66.7h0.8M48.39 45.39h0.8M52.38 71.69h0.8M54.69 20.2h0.8M52.79 61.01h0.8M58.6 72.72h0.8M49.23 80.24h0.8M53.09 44.1h0.8M54.83 48.97h0.8M61.04 79.31h0.8M45.52 39.75h0.8M54.43 60.94h0.8M50.86 76.57h0.8M51.56 34.17h0.8M53.04 60.22h0.8M59.76 80.42h0.8M51.3 30.96h0.8M49.61 43.8h0.8M48.94 48.33h0.8M47.55 36.06h0.8M49.18 55.24h0.8M50.62 56.64h0.8M52.08 26.63h0.8M52.47 66.06h0.8M59.65 62.33h0.8M51.12 70.69h0.8M54.92 57.03h0.8M53.85 56.85h0.8M48.17 51.51h0.8M54.35 71.77h0.8M43.29 31.1h0.8M48.89 54.9h0.8M47.93 48.64h0.8M48.99 67.33h0.8M53.97 77.68h0.8M53.33 67.62h0.8M62.08 79.94h0.8M51.92 59.62h0.8M59.25 69.31h0.8M55.1 37.59h0.8M49.67 57.45h0.8M50.53 43.98h0.8M51.3 64.44h0.8M59.44 56.54h0.8M52.5 48.8h0.8M56.06 37.55h0.8M53.74 28.07h0.8M48.93 70.2h0.8M54.26 30.51h0.8M57.73 70.4h0.8M51.72 73.2h0.8M49.74 41.08h0.8M54.34 65.68h0.8M52.6 29.16h0.8M53.5 79.82h0.8M49.96 51.78h0.8M56.66 72.76h0.8M56.94 69.74h0.8M52.32 29.78h0.8M56.14 73.5h0.8M48.03 74.44h0.8M55.97 52.36h0.8M49.86 30.34h0.8M55.84 46.06h0.8M51.11 71.71h0.8M49.4 67.82h0.8M54.08 41.95h0.8M52.39 47.94h0.8M51.63 63.68h0.8M47.86 68.02h0.8M47.91 37.66h0.8M57.2 72.41h0.8M47.35 17.83h0.8M51.25 75.4h0.8M58.73 68.33h0.8M54.46 61.71h0.8M50.33 57.17h0.8M50.5 70.3h0.8M58.8 63.85h0.8M55.42 43.76h0.8M45.41 71.28h0.8M54.51 62.99h0.8M51.43 62.49h0.8M54.81 53.6h0.8M53.76 40.22h0.8M54.59 80.61h0.8M50.98 62.08h0.8M56.87 63.85h0.8M50.93 78.56h0.8M53.25 53.49h0.8M53.92 29.07h0.8M54.1 53.29h0.8M50.64 49.69h0.8M54.67 40.08h0.8M57.08 38.49h0.8M55.02 48.81h0.8M53.89 69.37h0.8M56.78 71.57h0.8M55.1 38.37h0.8M44.57 53.95h0.8M58.98 75.56h0.8M53.18 51.88h0.8M59.3 56.85h0.8M52.26 81.69h0.8M52.84 37.64h0.8M55.79 72.57h0.8M52.55 78.33h0.8M52.67 72.53h0.8M52.51 62.22h0.8M51.75 39.36h0.8M53.94 76.83h0.8M55.56 31.51h0.8M45.97 69.16h0.8M50.49 56.84h0.8M50.46 80.02h0.8M54.47 34.14h0.8M54.81 59.66h0.8M52.91 51.36h0.8M50.75 81.3h0.8M61.53 49.99h0.8M51.86 50.92h0.8M52.38 58.24h0.8M48.74 71.27h0.8M49.15 44.1h0.8M59.07 34.85h0.8M46.81 40.18h0.8M49.88 75.05h0.8M49.76 68.57h0.8M47.26 43.01h0.8M53.54 50.83h0.8M46.64 47.67h0.8M57.16 61.49h0.8M46.64 53.47h0.8M49.42 53.67h0.8M56.94 70.63h0.8M58.96 69.54h0.8M57.48 75.05h0.8M53.35 69.19h0.8M59.63 61.59h0.8M52.84 60.09h0.8M48.89 75.67h0.8M57.48 55.65h0.8M53.32 60.61h0.8M54.72 71.7h0.8M50.85 58.43h0.8M55.66 60.6h0.8M49.28 79.2h0.8M48.92 76.84h0.8M60.72 55.87h0.8M50.42 58.91h0.8M56.12 79.56h0.8M60.77 73.74h0.8M50.07 61.46h0.8M59.23 74.55h0.8M54.99 31.75h0.8M49.4 62.13h0.8M56.79 69.05h0.8M51.68 33.02h0.8M54.73 41.85h0.8M52.92 38.73h0.8M54.12 51.73h0.8M49.9 66.14h0.8M64 71.36h0.8M61.1 47.6h0.8M49.65 71.59h0.8M60.2 55.93h0.8M50.06 52.68h0.8M58.31 80.91h0.8M46.91 71.14h0.8M52.62 39.72h0.8M53.57 58.76h0.8M55.23 53.87h0.8M51.76 46.02h0.8M53.91 49.44h0.8M47.31 60.38h0.8M55.72 18.68h0.8M57.43 78.72h0.8M50.2 45.19h0.8M50.33 49.7h0.8M54.37 78.38h0.8M46.18 44.44h0.8M55.71 29.47h0.8M57.69 22.06h0.8M47.22 26.34h0.8M49.34 51.86h0.8M56.66 57.88h0.8M47.17 60.29h0.8M52.91 41.84h0.8M54.42 35.64h0.8M46.97 49.76h0.8M52.49 31.76h0.8M54.54 23.48h0.8M53.63 55.44h0.8M54.69 70.48h0.8M51.97 60.84h0.8M56.81 51.67h0.8M52.52 34.88h0.8M56.44 42.38h0.8M53.55 61.2h0.8M49.99 48.84h0.8M58.04 57.79h0.8M47.15 46.31h0.8M57.78 71.49h0.8M50.39 74.15h0.8M51.28 46.06h0.8M56.62 31.27h0.8M54.59 64.68h0.8M51.92 54.32h0.8M53.26 59.39h0.8M53.76 45.55h0.8M62.94 73.32h0.8M53.02 73.49h0.8M45.65 43.11h0.8M44.25 56.08h0.8M61.3 60.71h0.8M52.91 55.78h0.8M51.33 19.09h0.8M55.08 38.46h0.8M49.52 60.83h0.8M47.03 62.17h0.8M52.47 35.07h0.8M55.64 77.63h0.8M48.52 19.86h0.8M52 64h0.8M54.13 66.38h0.8M57.86 47.18h0.8M58.9 49.84h0.8M55.72 67.45h0.8M50.55 33.79h0.8M50.34 71.77h0.8M49.69 69.93h0.8M47.38 74.64h0.8M48.82 17.74h0.8M49.86 63.06h0.8M51.45 60.57h0.8M53.07 71.64h0.8M59.28 63.11h0.8M56.13 70.2h0.8M47.28 37.18h0.8M54.04 78.21h0.8M51.83 51.26h0.8M56.21 74.44h0.8M51.85 78.12h0.8M61.12 81.84h0.8M44.33 55.68h0.8M48.41 60.91h0.8M53.08 76.21h0.8M51.3 70.74h0.8M55.02 78.62h0.8M55.95 45.23h0.8M50.53 54.19h0.8M52.57 50.95h0.8M53.49 78.55h0.8M50.01 59.5h0.8M53.03 56.5h0.8M53.74 68.14h0.8M52.42 43.48h0.8M51.5 54.96h0.8M52.56 69.01h0.8M58.31 55.5h0.8M53.21 54.19h0.8M53.36 32h0.8M53.21 67.5h0.8M50.38 56.38h0.8M59.74 64.16h0.8M52.68 19.87h0.8M57.75 80.51h0.8M55.15 56.08h0.8M56.84 81.61h0.8M50.33 41.16h0.8M54.59 37.02h0.8M57.78 70.91h0.8M53.85 43.59h0.8M44.48 54.1h0.8M52.84 30.77h0.8M49.95 62.78h0.8M51.94 76.36h0.8M53.16 54.66h0.8M54.13 68.14h0.8M58.04 80.88h0.8M48.99 67.91h0.8M49.24 81.16h0.8M48.59 61.6h0.8M51.29 39.64h0.8M52.59 61.28h0.8M49.55 73.23h0.8M55.66 57.29h0.8M54.75 58.3h0.8M56.88 52.92h0.8M53.13 16.19h0.8M50.84 49.5h0.8M48.8 35.79h0.8M52.51 72.56h0.8M52.03 69.94h0.8M56.55 61.3h0.8M55.92 45.09h0.8M51.96 71.49h0.8M46.76 56.78h0.8M57.64 75.96h0.8M50.85 42.76h0.8M52.06 28.88h0.8M52.52 67.07h0.8M48.72 81.02h0.8M49.22 46.26h0.8M59.56 58.78h0.8M53.19 60.08h0.8M63.6 36.97h0.8M55.39 81.81h0.8M49.97 44.6h0.8M48.29 77.37h0.8M57.48 69.67h0.8M48.61 72.07h0.8M51.47 65.97h0.8M54.98 60.73h0.8M54.91 71.4h0.8M53.39 76.64h0.8M49.98 57.68h0.8M54.09 52.08h0.8M51.19 52.87h0.8M53.44 26.32h0.8M49.5 71.5h0.8M48.42 42.09h0.8M53.76 71.44h0.8M53.6 59.67h0.8M52.03 55.41h0.8M55.59 76.31h0.8M53.12 51.55h0.8M54.57 30.55h0.8M53.29 45.82h0.8M51.31 54.92h0.8M50.75 79.63h0.8M53.09 41.84h0.8M48.63 68.65h0.8M52.59 35.52h0.8M46.13 53.05h0.8M46.97 42.58h0.8M62 38.22h0.8M48.46 35.28h0.8M52.41 48.31h0.8M59.41 40.43h0.8M48.42 46.45h0.8M51.12 78.92h0.8M61.03 64.42h0.8M56.59 61.56h0.8M42.75 50.32h0.8M53.84 73.26h0.8M48.67 38.96h0.8M48.97 65.64h0.8M60.23 71.7h0.8M52.6 66.45h0.8M44.63 41.8h0.8M56.53 61.65h0.8M53.4 77.74h0.8M58.71 64.36h0.8M51.34 58.42h0.8M49.06 79.24h0.8M48.21 69.8h0.8M49.67 76.14h0.8M53.05 50.46h0.8M46.85 64.44h0.8M51.18 74.74h0.8M51.96 54.47h0.8M54.52 65.92h0.8M48.93 62.11h0.8M47.3 47.32h0.8M53.66 34.25h0.8M52.92 35.65h0.8M50.51 35.83h0.8M47.33 43.01h0.8M51.12 80.89h0.8M50.07 44.71h0.8M49.76 41.3h0.8M53.9 61.11h0.8M54.38 61.97h0.8M53.57 34.74h0.8M50.93 66.33h0.8M50.66 63.78h0.8M56.75 65.97h0.8M55.63 80.39h0.8M53.84 71.07h0.8M61.52 48.81h0.8M49.35 49.18h0.8M52.64 77.99h0.8M46.04 26.73h0.8M54.4 47.83h0.8M58.09 55.93h0.8M52.77 30.93h0.8M53.52 72.6h0.8M53.21 49.13h0.8M60.23 81.07h0.8M49.74 74.92h0.8M45.65 81.65h0.8M49.12 18.6h0.8M55.98 63.43h0.8M58.86 23.47h0.8M44.55 58.72h0.8M51.66 50.9h0.8M51.92 47.36h0.8M55.78 75.29h0.8M48.91 28.54h0.8M57.86 54.63h0.8M55.39 63.15h0.8M52.86 80.02h0.8M51.6 74.3h0.8M52.96 79.66h0.8M57.38 52.66h0.8M55.32 56.1h0.8M53.28 48.35h0.8M55.43 36.55h0.8M49.6 66.94h0.8M52.47 56.78h0.8M55.36 80.26h0.8M57.09 71.15h0.8M54.44 54.57h0.8M54.83 74.42h0.8M54.3 28.57h0.8M54.54 46.48h0.8M46.55 41.12h0.8M51.5 80.55h0.8M58.34 64.12h0.8M59.05 38.68h0.8M56.08 49.89h0.8M50.76 62.21h0.8M55.43 79.04h0.8M53.54 31.75h0.8M52.55 48.4h0.8M50.32 81.36h0.8M55.82 56.62h0.8M56.39 57.5h0.8M47.99 70.82h0.8M51.42 78.76h0.8M56.02 47.73h0.8M49.03 20.26h0.8M51.99 68.15h0.8M53.86 30.94h0.8M58.98 57.66h0.8M45.13 50.11h0.8M58.02 53.38h0.8M49.95 39.71h0.8M53.88 77.25h0.8M51.54 72.8h0.8M52.2 48.17h0.8M50.84 66.66h0.8M52.47 60.84h0.8M51.69 55.26h0.8M53.8 45.59h0.8M58.24 59.41h0.8M47.75 43.93h0.8M49.73 59.2h0.8M49.28 74.69h0.8M45.73 32.14h0.8M54.76 73.5h0.8M46.8 71.99h0.8M51.21 74.69h0.8M52.14 78.76h0.8M46.22 60.44h0.8M52.34 49.67h0.8M50.64 47.16h0.8M51.68 52.04h0.8M51.43 65.03h0.8M51.28 28.57h0.8M51.65 48.25h0.8M62.2 32.92h0.8M45.25 34.38h0.8M52.21 50.72h0.8M55.25 45.39h0.8M62.01 33.84h0.8M55.86 56.77h0.8M54.7 51.48h0.8M54.01 78.75h0.8M57.66 40.98h0.8M47.06 59h0.8M51.93 32.32h0.8M49.32 60.7h0.8M56.73 50.33h0.8M52.22 74.21h0.8M50.31 56.79h0.8M58.59 68.43h0.8M52.8 76.95h0.8M60.81 61.9h0.8M54.95 58.47h0.8M57.07 48.83h0.8M52.43 57.2h0.8M62.95 58.06h0.8M51.65 33.01h0.8M52.72 77.85h0.8M52.72 38.4h0.8M54.24 53.56h0.8M47.99 37.62h0.8M47.55 26.97h0.8M52.55 75.79h0.8M59.22 51.56h0.8M47.45 64.31h0.8M50.52 49.27h0.8M58.19 45.17h0.8M55.28 45.02h0.8M52.56 80.64h0.8M51.24 74.34h0.8M61.5 78.48h0.8M55.83 74.73h0.8M50.82 73.51h0.8M59.11 62.7h0.8M50.6 72.63h0.8M47.43 53.25h0.8M53.57 51.97h0.8M44.12 79.46h0.8M54.46 64.16h0.8M49.87 41.81h0.8M54.51 48.11h0.8M54.05 80.23h0.8M57.8 61.91h0.8M49.39 36.69h0.8M59.72 69.41h0.8M46.77 65.21h0.8M46.41 40.71h0.8M55.47 26.03h0.8M50.56 51.58h0.8M50.97 40.93h0.8M58.06 64.9h0.8M58.41 48.22h0.8M53.47 73.38h0.8M47.69 47.79h0.8M47.64 60.62h0.8M48.49 50.26h0.8M59.02 71.28h0.8M57.6 81.67h0.8M51.15 46.93h0.8M52.63 72.47h0.8M55.06 79.67h0.8M53.22 52.18h0.8M48.61 55.59h0.8M49.48 67.27h0.8M54.2 23.98h0.8M48.42 76.79h0.8M49.78 70h0.8M56.45 80.27h0.8M54.89 65.38h0.8M54.73 54.52h0.8M54.91 64.34h0.8M56.61 68.78h0.8M48.39 27.05h0.8M49.57 31.55h0.8M54.73 64.89h0.8M41.88 77.68h0.8M51.79 23.82h0.8M56.54 47.77h0.8M48.2 69.37h0.8M49.86 25.55h0.8M51.44 63.23h0.8M50.9 77h0.8M52.88 64.01h0.8M53.42 68.82h0.8M48.34 50.55h0.8M58.85 72.15h0.8M55 49.33h0.8M58.95 50.09h0.8M55.64 31.41h0.8M57.43 35.97h0.8M58.12 34.3h0.8M55.64 48.36h0.8M50.62 36.41h0.8M46.81 65.23h0.8M49.92 45.16h0.8M52.89 63.46h0.8M56.39 70.04h0.8M50.37 57.49h0.8M54.35 57.19h0.8M54.99 49.14h0.8M56.32 22.51h0.8M58.65 41.45h0.8M48.96 39.19h0.8M53.22 53.36h0.8M46.3 48.86h0.8M54.75 64.31h0.8M55.28 28.9h0.8M44.22 76.65h0.8M51.34 73.77h0.8M52.66 78.88h0.8M52.34 29.89h0.8M54.42 49.63h0.8M51.3 34.88h0.8M51.92 50.28h0.8M52.02 58.18h0.8M48.54 78.54h0.8M52.97 55.27h0.8M52.05 56.64h0.8M51.15 46.15h0.8M53.73 47.65h0.8M56.6 50.99h0.8M49.44 80.89h0.8M55.64 55.61h0.8M50.07 46.27h0.8M50.7 60.5h0.8M59.48 77.54h0.8M54 65.73h0.8M51.69 80.17h0.8M53.6 18.91h0.8M51.55 58.99h0.8M53.85 45.29h0.8M54.19 68.55h0.8M49.87 77.59h0.8M53.98 64.54h0.8M54.36 41.8h0.8M56.63 66.03h0.8M55.93 47.53h0.8M58.45 50.48h0.8M44.45 54.36h0.8M50.9 80.56h0.8M57.13 53.78h0.8M59.71 57.7h0.8M53.83 35.21h0.8M49.9 43.43h0.8M50.04 50.06h0.8M59.74 53.95h0.8M52.07 42.53h0.8M50.82 59.96h0.8M46.7 77.53h0.8M54.68 42.07h0.8M57.42 68.27h0.8M54.46 43.93h0.8M51.42 57.66h0.8M54.02 65.9h0.8M54.03 46.14h0.8M56.13 37.03h0.8M52.25 24.6h0.8M49.04 61.63h0.8M44.9 76.59h0.8M49.08 38h0.8M53.47 57.73h0.8M55.73 81.02h0.8M49.57 42.2h0.8M50.43 52.34h0.8M50.71 80.62h0.8M54.44 56.68h0.8M52.47 61.67h0.8M57.29 61.37h0.8M48.84 47.23h0.8M56.85 29.23h0.8M56.1 41.33h0.8M55.59 63.4h0.8M49.65 55.28h0.8M49.36 52.25h0.8M61.78 45.84h0.8M57.71 57.02h0.8M46.62 56.51h0.8M47.93 80.83h0.8M53.35 50.4h0.8M53.26 37.81h0.8M51.99 54.93h0.8M58.22 56.75h0.8M52.61 75.48h0.8M51.99 40.32h0.8M54.8 63.34h0.8M55.27 57.79h0.8M48.47 63.13h0.8M56.26 42.44h0.8M46.71 39.55h0.8M53.42 50h0.8M47.66 63.18h0.8M56.47 53.18h0.8M55.5 60.79h0.8M55.09 75.56h0.8M54.73 76.12h0.8M54.84 27.07h0.8M51.04 64.67h0.8M61.9 53.83h0.8M54.58 81.78h0.8M60.43 66.67h0.8M60.47 35.27h0.8M56.91 40.13h0.8M50.13 71.12h0.8M48.41 29.03h0.8M48 41.2h0.8M47.72 53.36h0.8M54.73 43.21h0.8M50.83 45.3h0.8M50.26 75.22h0.8M53.4 38.76h0.8M54.51 70.12h0.8M48.67 79.73h0.8M50.18 68.31h0.8M63.3 45.24h0.8M48.74 75.21h0.8M47.89 81.65h0.8M51.26 64.73h0.8M48.88 53.11h0.8M52.37 72.82h0.8M58.94 66.77h0.8M55.91 24.65h0.8M53.58 52.46h0.8M48.53 52.33h0.8M59.13 50.68h0.8M60.51 24.25h0.8M51.91 74h0.8M53.68 52.85h0.8M49.41 63.16h0.8M52.49 51.73h0.8M50.38 36.27h0.8M48.57 54.54h0.8M44.89 28.36h0.8M59.09 68.12h0.8M56.94 32.81h0.8M54.31 48.04h0.8M53.57 51.62h0.8M53.47 61.79h0.8M51.57 42.08h0.8M51 63.28h0.8M53.92 73.44h0.8M50.87 65.7h0.8M57.73 78.22h0.8M46.69 36.91h0.8M55.4 52.07h0.8M50.99 43.04h0.8M53.84 78.39h0.8M48.76 53.32h0.8M53.54 59.99h0.8M55.81 41.48h0.8M47.31 55.14h0.8M49.3 57.79h0.8M49.63 49.05h0.8M53.51 39.95h0.8M50.62 75.27h0.8M47.25 58.32h0.8M50.45 58.53h0.8M60.11 49.17h0.8M52.93 52.23h0.8M51.92 60.39h0.8M50.48 36.63h0.8M57.89 28.54h0.8M58.01 79.16h0.8M49.06 27.26h0.8M50.46 56.4h0.8M54.52 78.48h0.8M54.2 50.68h0.8M58 57.98h0.8" stroke="#000" stroke-opacity="0.7" stroke-width="0.8" fill="none"/>
<path d="M54.77 29.52h0.75M86.47 81.03h0.75M61.45 70.38h0.75M65.82 76.38h0.75M62.64 55.67h0.75M81.48 82.32h0.75M70.99 44.65h0.75M73.69 54.98h0.75M79.14 81.83h0.75M55.28 56.93h0.75M64.51 77.78h0.75M91.31 67.01h0.75M84.76 33.07h0.75M61.09 67.67h0.75M61.67 53.16h0.75M66.66 82.48h0.75M75.88 79.34h0.75M69.4 80.52h0.75M73.94 64.64h0.75M73.83 29.99h0.75M74.52 24.01h0.75M58.9 50.46h0.75M66.29 16.53h0.75M78.9 68.52h0.75M64.71 31.77h0.75M81.3 70.71h0.75M79.59 72.92h0.75M75.46 53.75h0.75M72.06 73.95h0.75M80.27 57.19h0.75M58.95 55.5h0.75M64.77 75.68h0.75M56.55 50.02h0.75M56.86 75.71h0.75M74.78 72.42h0.75M58.35 27.04h0.75M75.67 82.66h0.75M63.6 19.82h0.75M60.7 81.02h0.75M62.36 54.94h0.75M72.77 54.66h0.75M56.4 40h0.75M65.07 49.35h0.75M64.05 40.27h0.75M74.05 77.7h0.75M79.51 64.37h0.75M56.43 58.98h0.75M75.11 76.7h0.75M58.92 77.74h0.75M68.08 57.29h0.75M58.72 73.73h0.75M57.95 56.81h0.75M70.3 74.57h0.75M57.35 77.99h0.75M66.18 42.95h0.75M70.28 80.71h0.75M58.28 33.16h0.75M73.97 39.47h0.75M57.88 34.52h0.75M77.87 78.62h0.75M67.22 79.68h0.75M74.53 73.27h0.75M58.46 27.69h0.75M60.46 58.65h0.75M90.59 61.2h0.75M56.03 46.47h0.75M71.62 21.32h0.75M54.93 53.14h0.75M60.44 27.43h0.75M57.93 18h0.75M84.5 42.01h0.75M58.65 78.89h0.75M68.79 71.47h0.75M68.86 45.63h0.75M69.88 23.71h0.75M55.31 77.32h0.75M70.76 54.39h0.75M57.88 63.97h0.75M62.45 29.88h0.75M68.71 29.78h0.75M73.52 32.11h0.75M54.23 27.97h0.75M80.82 18.37h0.75M69.53 31.42h0.75M79.38 37.32h0.75M56.79 18.64h0.75M62.51 67.95h0.75M66.64 17.19h0.75M65.85 62.01h0.75M75.17 26.82h0.75M66.81 69.54h0.75M78.31 17.47h0.75M61.58 78.9h0.75M66.63 37.13h0.75M56.86 32.05h0.75M75.32 69.1h0.75M57.19 60.43h0.75M59.48 71.5h0.75M54.13 82.57h0.75M68.4 27.07h0.75M79.21 79.12h0.75M68.39 59.04h0.75M79.46 18.06h0.75M55.22 19.29h0.75M62.3 78.38h0.75M55.73 80.05h0.75M55.4 40.21h0.75M73.49 68.21h0.75M65.07 68.55h0.75M69.39 60.3h0.75M56.6 79.07h0.75M83.96 58.41h0.75M54.92 77.13h0.75M65.14 28.98h0.75M70.43 26.38h0.75M69.75 37.1h0.75M54.23 56.34h0.75M84.43 69.85h0.75M59.2 75.7h0.75M58.2 51.34h0.75M68.7 35.43h0.75M77.73 23.62h0.75M80.94 68.87h0.75M73.78 77.38h0.75M70.68 67.88h0.75M71.25 45.3h0.75M75.39 76.74h0.75M75.34 69.16h0.75M69.01 76.43h0.75M61.77 51.29h0.75M59.85 34.84h0.75M62.61 25.14h0.75M67.95 52.44h0.75M86.37 31.41h0.75M62.83 17.68h0.75M70.49 24.07h0.75M56.49 66.15h0.75M60.7 58.99h0.75M67.99 79.76h0.75M55.03 80.75h0.75M55.32 42.56h0.75M54.66 54.8h0.75M64.88 33.3h0.75M68.63 34.94h0.75M55.77 54.49h0.75M64.39 68.19h0.75M80.19 47.74h0.75M80.17 65.83h0.75M66.9 60.89h0.75M54.27 40.68h0.75M67.12 59.98h0.75M71.75 41.79h0.75M80.57 69.8h0.75M57.13 82.91h0.75M60.32 41.85h0.75M89.76 76.7h0.75M54.6 46.45h0.75M83.01 57.18h0.75M66.83 38.07h0.75M54.81 60.82h0.75M66.56 22.05h0.75M85.36 44.27h0.75M73.89 19.67h0.75M61.87 68.03h0.75M81.58 37.88h0.75M61.75 81.12h0.75M77.75 17.34h0.75M54.83 78.4h0.75M88.95 68.14h0.75M55.03 29.67h0.75M71.29 49.36h0.75M56.92 40.95h0.75M62.09 54.08h0.75M55.14 39.58h0.75M69.94 21.41h0.75M72.11 79.82h0.75M63.17 73.62h0.75M64.55 41.72h0.75M69.45 21.66h0.75M79.17 30.48h0.75M80.4 26.58h0.75M59.71 46.61h0.75M79.64 68.94h0.75M58.78 45.16h0.75M66.84 23.01h0.75M79.06 39.36h0.75M69.51 31.14h0.75M55.36 81.93h0.75M54.01 66.5h0.75M72.63 24.9h0.75M60.54 63.97h0.75M83.86 22.77h0.75M55.95 77.2h0.75M66.34 22.66h0.75M58.87 57.35h0.75M58.1 24.49h0.75M68.53 67.19h0.75M77.59 74.81h0.75M67.28 27.84h0.75M76.17 80.98h0.75M64.04 29.94h0.75M56.31 70.18h0.75M71.51 23.03h0.75M60.1 44.01h0.75M71.14 56.96h0.75M63.45 18.41h0.75M64.84 47.14h0.75M74.55 64.43h0.75M76.73 29.31h0.75M64.93 33.58h0.75M54.52 37.23h0.75M70.85 28.9h0.75M77.57 59.9h0.75M69.91 82.25h0.75M78.07 62.97h0.75M80.33 26.52h0.75M66.04 21.1h0.75M56.29 42.17h0.75M59.1 38.33h0.75M71.74 42.75h0.75M79.93 70h0.75M72.18 32.67h0.75M65.45 43.73h0.75M82.52 18.54h0.75M67.72 81.32h0.75M67.55 20.09h0.75M80.26 76.33h0.75M60.77 50.58h0.75M76.64 36.9h0.75M70.06 52.82h0.75M89.83 59.86h0.75M90.6 76.08h0.75M55.87 58.16h0.75M67.3 68.78h0.75M61.55 36.85h0.75M71.16 78.91h0.75M62.94 60.42h0.75M90.2 43.28h0.75M63.9 23.32h0.75M79.56 59.59h0.75M76.9 62.74h0.75M60.51 41.89h0.75M61.17 44.86h0.75M61.25 37.67h0.75M63.83 44.24h0.75M71.18 78.92h0.75M55.09 61.03h0.75M73.75 39.98h0.75M60.67 62.81h0.75M70.58 38.16h0.75M55.39 66.27h0.75M58.5 36.83h0.75M63.88 61.59h0.75M83.01 39.04h0.75M87.14 38.04h0.75M56.68 43.32h0.75M62.51 34.3h0.75M56.11 53.14h0.75M72.7 78.03h0.75M92.8 68.78h0.75M55.29 53.63h0.75M71.46 36.38h0.75M66.44 27.68h0.75M91.75 76.72h0.75M60.48 50.67h0.75M66.5 24.3h0.75M73.24 76.71h0.75M60.36 69.49h0.75M56.67 51.11h0.75M57.78 74.92h0.75M59.86 79.04h0.75M58.42 47.72h0.75M56.4 18.1h0.75M67.61 75.86h0.75M60.9 77.79h0.75M70.78 18.78h0.75M77.6 73.45h0.75M59.5 57.68h0.75M65.4 59.4h0.75M61.66 51.1h0.75M63.96 60.71h0.75M62.83 21.69h0.75M57.74 65.83h0.75M55.76 38.19h0.75M62.34 59.57h0.75M67.94 66.82h0.75M58.12 75.85h0.75M89.05 49.66h0.75M62.25 57.89h0.75M57.34 63.05h0.75M68.02 59.05h0.75M55.65 82.99h0.75M70.19 46.96h0.75M81.84 65.64h0.75M65.4 28.79h0.75M54.06 75.19h0.75M55.86 35.96h0.75M57.15 67.72h0.75M59.07 80.44h0.75M67.89 66.42h0.75M87.5 64.33h0.75M56.55 78.06h0.75M57.19 64.52h0.75M91.66 69.26h0.75M78.95 77.2h0.75M56.54 69.49h0.75M54.99 70.91h0.75M58.34 17.36h0.75M66.53 37.82h0.75M54.66 72.53h0.75M60.87 76.52h0.75M54.62 71.67h0.75M67.34 38.07h0.75M58.11 64.75h0.75M58.31 55.19h0.75M55.88 27.49h0.75M82.81 80.26h0.75M83.6 73.45h0.75M59.71 73.85h0.75M92.67 70.9h0.75M80.47 74.96h0.75M55.55 30h0.75M61.91 76.42h0.75M69.5 64.51h0.75M81.41 69.33h0.75M75.34 79.88h0.75M57.69 30.66h0.75M70.55 39.58h0.75M56.53 25.43h0.75M54.12 58.62h0.75M63.73 17.78h0.75M65.48 42.45h0.75M55.85 73.43h0.75M57.4 21.72h0.75M62.37 78.9h0.75M57.54 63.79h0.75M60.22 35.89h0.75M76.22 40.69h0.75M65.68 16.99h0.75M60.75 20.96h0.75M77.48 45.12h0.75M85.57 68.17h0.75M56.28 24.6h0.75M63.08 72.09h0.75M58.45 58.99h0.75M61.27 53.59h0.75M57.99 48.92h0.75M77 61.75h0.75M90.97 64.68h0.75M90.3 43.06h0.75M82.88 59.04h0.75M54.75 73.01h0.75M92.19 29.84h0.75M70.94 74.55h0.75M54.32 67.95h0.75M71.5 49.08h0.75M58.42 80.59h0.75M76.78 22.88h0.75M78.93 50.85h0.75M58.11 43.04h0.75M88.26 22.95h0.75M83.88 64.16h0.75M55.98 27.93h0.75M61.35 72.24h0.75M83.54 69.6h0.75M55.22 58.17h0.75M92.97 58.26h0.75M65.06 22.46h0.75M58.74 35.23h0.75M80.92 31.64h0.75M67.31 77.1h0.75M57.23 53.49h0.75M91.57 25.13h0.75M79.03 41.04h0.75M57.75 71.09h0.75M70.58 71.42h0.75M61.76 34.15h0.75M61.95 32.04h0.75M65.26 77.08h0.75M91.51 68.31h0.75M76.3 42.84h0.75M62.74 33.24h0.75M66.22 78.62h0.75M85.45 71.51h0.75M56.57 61.71h0.75M57.18 69.66h0.75M54.56 82.11h0.75M58.94 49.03h0.75M63.14 48.18h0.75M62.79 55.99h0.75M54.97 71.41h0.75M92.58 55.62h0.75M57.71 73.7h0.75M54.89 64.48h0.75M61.28 65.86h0.75M69.19 71.73h0.75M61.78 45.74h0.75M68.35 62.66h0.75M67.82 80.54h0.75M71.37 44.15h0.75M58.58 42.56h0.75M59.26 56.54h0.75M73.65 43.37h0.75M67.19 65.4h0.75M64.11 59.51h0.75M87.43 82h0.75M57.2 82.51h0.75M63 54.73h0.75M65.39 73.62h0.75M68.07 27.77h0.75M71.1 70.43h0.75M64.8 72.72h0.75M66.67 62.66h0.75M57.31 22.06h0.75M60.2 68.47h0.75M69.32 73.71h0.75M59.07 19.27h0.75M56.23 34.6h0.75M64.74 64.87h0.75M91.7 74.68h0.75M75.3 33.45h0.75M55.99 66.78h0.75M78.22 67.57h0.75M77.48 17.7h0.75M59.98 17.77h0.75M59.76 49.12h0.75M78.48 19.26h0.75M62.84 50.36h0.75M71.71 18.96h0.75M92.05 38.27h0.75M88.94 37.24h0.75M55.14 60.81h0.75M56.6 47.57h0.75M80.67 55.15h0.75M54.24 76.44h0.75M58.49 27.5h0.75M79.87 38.51h0.75M57.72 25.41h0.75M68.07 27.56h0.75M61.68 58.46h0.75M67.94 38.56h0.75M91.35 28.75h0.75M87.21 74.98h0.75M88.16 63.52h0.75M68.6 57.44h0.75M64.03 82.91h0.75M77.71 58.91h0.75M62.6 79.83h0.75M72.2 53.65h0.75M61.56 21.29h0.75M79.83 73.62h0.75M69.01 52.77h0.75M77.86 64.15h0.75M77.49 52.58h0.75M86.25 71.32h0.75M68.92 26.23h0.75M88.99 59.55h0.75M57.89 28.25h0.75M62.63 78.02h0.75M70.15 25.68h0.75M91.91 49.67h0.75M56.57 63.7h0.75M59.3 80.68h0.75M80.3 74.44h0.75M87.55 66.06h0.75M55.85 35.45h0.75M63.67 45.47h0.75M57.75 55.35h0.75M70.17 52.84h0.75M69.99 53.27h0.75M56.59 23.99h0.75M76.77 41.94h0.75M91.47 47.55h0.75M84.17 61.21h0.75M56.97 82.35h0.75M67.04 79.43h0.75M54.49 79.92h0.75M56.37 37.74h0.75M59.69 78.14h0.75M62.02 28.97h0.75M83.83 36h0.75M54.42 24.05h0.75M78.02 43.45h0.75M64.7 75.98h0.75M66.44 68.77h0.75M67.69 35.03h0.75M59.45 41.61h0.75M84.32 78.06h0.75M59.73 76h0.75M59.93 62.77h0.75M86.46 70.03h0.75M81.91 80.34h0.75M68.1 81.04h0.75M58.2 33.53h0.75M56.14 40.7h0.75M92.59 24.33h0.75M73.73 66.12h0.75M81.88 24.4h0.75M64.93 30.59h0.75M64.96 70.21h0.75M63.07 82.83h0.75M58.32 21.42h0.75M60.41 25.84h0.75M55.26 64.97h0.75M66.66 67.71h0.75M58.67 26.93h0.75M57.75 45.48h0.75M79.25 63.15h0.75M58.87 41.66h0.75M54.5 63.98h0.75M64.14 27.68h0.75M54.74 82.09h0.75M58.75 69.65h0.75M64.72 51.18h0.75M55.26 42.57h0.75M58.98 60.51h0.75M64.34 50.26h0.75M63.59 75.54h0.75M57.06 69.72h0.75M63.69 20.46h0.75M60.11 77.49h0.75M59.32 48.87h0.75M71.88 57.64h0.75M74.55 54.4h0.75M82.51 81.51h0.75M89.78 39.45h0.75M78.41 25.61h0.75M63.57 66.85h0.75M60.19 64.9h0.75M58.29 71.47h0.75M65.37 36.39h0.75M70.42 56.13h0.75M85.36 45.87h0.75M57.89 67.93h0.75M63.78 78.03h0.75M60.55 64.01h0.75M62.1 43.43h0.75M66.71 60.89h0.75M57.99 75.96h0.75M61.52 58.05h0.75M56.89 33.49h0.75M58.22 66.36h0.75M56.5 47.75h0.75M54.52 82.13h0.75M57.52 25.42h0.75M58.39 69.29h0.75M88 46.31h0.75M55.32 25.02h0.75M78.08 35.66h0.75M62.81 53.57h0.75M62.2 59.67h0.75M67.95 65.34h0.75M86.52 82.47h0.75M56.91 80.75h0.75M86.13 25.3h0.75M57.66 72.4h0.75M70.73 71.02h0.75M69.03 40.43h0.75M56.89 80.5h0.75M63.58 55.18h0.75M57.93 38.3h0.75M66.51 32.84h0.75M64.8 28.91h0.75M80.13 79.68h0.75M74.72 44.11h0.75M59.07 37.97h0.75M92.86 78.97h0.75M57.6 36.58h0.75M67.55 54.59h0.75M72.84 64.35h0.75M65.74 19.24h0.75M82.64 43.82h0.75M62.99 49.64h0.75M70.59 24.73h0.75M77.61 75.93h0.75M78.87 64.13h0.75M65.42 69.78h0.75M82.31 44.17h0.75M73.26 52.43h0.75M60.02 49.93h0.75M63.09 64.62h0.75M61.65 55.69h0.75M64.38 69.87h0.75M58.03 16.67h0.75M54.37 69.11h0.75M72.82 43.04h0.75M84.18 72.1h0.75M64.68 51.56h0.75M55.15 60.37h0.75M55.87 72.43h0.75M68.56 48.75h0.75M92.43 41.02h0.75M60.78 31.69h0.75M59.08 70.52h0.75M71.7 17.3h0.75M57.22 30.21h0.75M88.57 73.14h0.75M73.57 28.48h0.75M64.91 56.01h0.75M54.24 74.11h0.75M61.39 39.17h0.75M55.5 35.9h0.75M57.73 51.04h0.75M61.52 58.71h0.75M80.02 38.83h0.75M62.27 76.39h0.75M82.93 75.3h0.75M86.47 81.14h0.75M56.44 58.99h0.75M66.49 43.87h0.75M79.82 82.71h0.75M78.11 37.86h0.75M56.25 36.36h0.75M70.54 68.96h0.75M79.07 36.2h0.75M71.23 23.42h0.75M56.64 40.23h0.75M54.75 79.52h0.75M87.94 65.78h0.75M54.78 57.86h0.75M71.5 37.38h0.75M70.33 80.44h0.75M61.76 60.73h0.75M61.37 29.63h0.75M66.56 63.38h0.75M62.07 82.61h0.75M64.32 58.71h0.75M56.96 50.56h0.75M87.8 42.89h0.75M54.66 69.6h0.75M65.57 75.87h0.75M58.05 42.41h0.75M68.27 48.64h0.75M66.65 46.94h0.75M58.77 72.22h0.75M61.2 35.64h0.75M71.29 22.06h0.75M77.49 38.36h0.75M80.95 74.95h0.75M90.21 51.73h0.75M63.39 61.15h0.75M63.22 24.89h0.75M63.36 35.64h0.75M65.39 32.72h0.75M56.62 80.51h0.75M62.57 23.25h0.75M56.7 52.7h0.75M77.28 45.15h0.75M80.21 59.78h0.75M80.53 35.91h0.75M57.58 16.6h0.75M56.85 73.76h0.75M64.82 76.11h0.75M66.05 77.98h0.75M62.41 58.17h0.75M60.06 61.75h0.75M81.65 39.69h0.75M65.43 70.32h0.75M64.11 16.06h0.75M60.15 36.03h0.75M64.03 47.73h0.75M55.41 22.41h0.75M54.76 25.14h0.75M71.63 76.52h0.75M64.42 47.92h0.75M54.34 68.52h0.75M72.09 40.83h0.75M56.31 31.38h0.75M60.1 45.64h0.75M57.52 57.5h0.75M92.25 70.05h0.75M65.56 75.42h0.75M61.58 49.81h0.75M67.33 67.64h0.75M70.62 48.6h0.75M69.22 77.49h0.75M58.73 75.53h0.75M64.35 65.51h0.75M77.3 71.11h0.75M55.18 30.91h0.75M59.58 21.31h0.75M76.15 62.16h0.75M64.35 24.64h0.75M70.74 78.06h0.75M74.74 29.45h0.75M77.14 70.7h0.75M55.17 60.62h0.75M61.8 38.49h0.75M65.76 23.64h0.75M58.99 44.05h0.75M83.52 24.28h0.75M60.39 30.44h0.75M59.21 27.99h0.75M70.78 55.09h0.75M58.01 32.98h0.75M63.29 27.9h0.75M85.08 59.95h0.75M68.24 34.67h0.75M79.64 74.68h0.75M87.97 74.16h0.75M65.72 23.43h0.75M54.98 64.99h0.75M62.6 60.84h0.75M64.06 51.68h0.75M59.72 29.78h0.75M67.06 54.33h0.75M55.75 56.27h0.75M72.84 51.49h0.75M54.84 43.23h0.75M61.37 49.29h0.75M67.6 77.89h0.75M78.02 54.48h0.75M64.47 25.52h0.75M89.37 37.11h0.75M57.38 61.14h0.75M54.96 37.06h0.75M59.45 22.42h0.75M77.72 79.07h0.75M63.19 37.01h0.75M75.73 48.53h0.75M87.84 47.01h0.75M61.33 32.9h0.75M83.88 57.18h0.75M55.89 81.09h0.75M59.9 80.22h0.75M54.2 16.1h0.75M74.21 74.54h0.75M74.31 74.96h0.75M79.23 79.81h0.75M82.32 63.36h0.75M57.09 75.71h0.75M68.5 57.95h0.75M57.78 56.69h0.75M71.67 25.25h0.75M62.09 20.61h0.75M56.01 31.19h0.75M58.76 80.22h0.75M62.02 82.3h0.75M71.94 68.26h0.75M66.33 18.12h0.75M84.91 76.66h0.75M55.3 54.43h0.75M58.38 25.6h0.75M61.7 37.52h0.75M58.44 29.49h0.75M61.98 47.32h0.75M72.98 34.57h0.75M56.01 40.99h0.75M56.68 45.84h0.75M91 29.29h0.75M75.19 73.88h0.75M91.09 32.32h0.75M56.39 78.13h0.75M66.02 70.54h0.75M67.67 69.79h0.75M60.29 30.83h0.75M66.12 50.69h0.75M65.73 77.5h0.75M57.39 45.64h0.75M66.2 55.77h0.75M55.16 46.01h0.75M62.53 58.39h0.75M57.48 16.14h0.75M84.33 31.53h0.75M76.36 66.42h0.75M56.68 41.5h0.75M65.84 64.32h0.75M58.55 57.31h0.75M61.03 64.5h0.75M68.29 80.11h0.75M75.82 34.5h0.75M80.97 75.37h0.75M60.49 19.77h0.75M76.38 49.21h0.75M54.42 51.53h0.75M59.15 80.45h0.75M64.69 62.67h0.75M57.38 48.98h0.75M73.19 18.76h0.75M71.35 59.51h0.75M54.87 25.48h0.75M67.29 25.72h0.75M75.01 70.47h0.75M72.67 64.21h0.75M66.12 55.56h0.75M56.89 41.24h0.75M66.53 57.71h0.75M55.86 71.19h0.75M70.5 57.64h0.75M55.04 60.62h0.75M59.31 57.87h0.75M54.03 24.01h0.75M81.13 41.07h0.75M62.61 20.54h0.75M55.29 77.72h0.75M54.16 56.06h0.75M68.82 73.28h0.75M55.16 41h0.75M71.38 18.85h0.75M88.57 68.39h0.75M62.76 68.31h0.75M55.57 82.64h0.75M86.56 77.7h0.75M54.41 43.84h0.75M55.59 64.44h0.75M57.21 27.54h0.75M73.7 26.81h0.75M55.98 23.63h0.75M55.14 51.81h0.75M57.35 38.11h0.75M73.26 22.79h0.75M89.8 57.88h0.75M61.56 46.89h0.75M70.8 50.11h0.75M56.26 66.1h0.75M62.94 75.6h0.75M82.4 25.98h0.75M89.43 67.81h0.75M67.1 50.42h0.75M59.49 58.14h0.75M55.18 70.73h0.75M58.42 74.73h0.75M70.26 23.14h0.75M59.07 17.25h0.75M86.88 53.8h0.75M54.5 59.51h0.75M64.08 23.76h0.75M55.6 33.9h0.75M69.33 57.37h0.75M54.84 78.33h0.75M63.56 74.31h0.75M56.51 70.85h0.75M67.92 43.98h0.75M61.05 36.36h0.75M56.15 23.27h0.75M61.03 29.24h0.75M89.67 46.42h0.75M61.08 69.38h0.75M61.65 47.76h0.75M68.2 68.19h0.75M76.33 82.12h0.75M58.55 82.03h0.75M72.45 73.14h0.75M88.81 44.46h0.75M76.9 26.33h0.75M58.57 70.04h0.75M65.39 51.68h0.75M82.95 73.89h0.75M81.48 60.77h0.75M86.86 68.2h0.75M62.75 25.02h0.75M70.47 42.17h0.75M60.24 59.4h0.75M82.45 77.59h0.75M78.6 47.51h0.75M56.75 40.59h0.75M55.47 47.13h0.75M75.2 68.45h0.75M70.03 44.65h0.75M83.83 35.3h0.75M60.76 19.89h0.75M54.35 21.16h0.75M62.17 56.3h0.75M57.27 56.87h0.75M61.23 76.48h0.75M54.14 29.46h0.75M71.85 61.74h0.75M86.4 78.11h0.75M74.2 71.69h0.75M61.92 63.79h0.75M62.46 80.8h0.75M63.21 61.36h0.75M56.79 45.34h0.75M83.46 76.42h0.75M63.59 43.01h0.75M76.59 31.75h0.75M71.44 47.03h0.75M54.14 35.46h0.75M54.85 77.4h0.75M66.57 44.91h0.75M86.58 55.89h0.75M79.46 39h0.75M59.12 66.99h0.75M73.85 20.48h0.75M60.1 47.65h0.75M55.07 75.88h0.75M67.54 23.94h0.75M80.76 26.11h0.75M80.13 74.27h0.75M91.42 47.94h0.75M81.6 66.33h0.75M60.33 35.4h0.75M79.45 37.56h0.75M66.06 46.64h0.75M70.35 60.91h0.75M63.62 65.6h0.75M75.82 54.08h0.75M61.28 80.92h0.75M54.31 30.88h0.75M85.29 53.77h0.75M60.34 82.73h0.75M69.07 61.35h0.75M65.39 46.5h0.75M56.94 52.87h0.75M54.81 69.27h0.75M54.2 73.11h0.75M82.63 71.08h0.75M61.05 35.15h0.75M63.9 61.72h0.75M59.29 77.45h0.75M65.38 65.16h0.75M81.58 55.88h0.75M62.26 21.05h0.75M54.17 40.02h0.75M73.66 52.39h0.75M57.19 72.97h0.75M66.55 81.97h0.75M60.72 65.64h0.75M68.48 38.84h0.75M54.47 38.65h0.75M56.13 78.16h0.75M80.32 54.13h0.75M81.23 44.08h0.75M59.21 27.81h0.75M54.63 72.43h0.75M79.91 52.26h0.75M59.54 59.73h0.75M92.77 81.53h0.75M55.6 65.24h0.75M64.63 62.45h0.75M82.03 32.99h0.75M65.25 31.26h0.75M63.09 20.68h0.75M56.8 29.79h0.75M59.88 45.84h0.75M77.86 63.79h0.75M58.96 71.01h0.75M63.27 79.57h0.75M60.54 58.71h0.75M55.92 71.52h0.75M65.79 53.6h0.75M56.47 57.4h0.75M57.27 67.85h0.75M80.05 19.32h0.75M61.66 48.07h0.75M56.41 69.39h0.75M64.78 77.73h0.75M61.89 81.92h0.75M55.37 66.89h0.75M61.87 52.51h0.75M62.15 46.99h0.75M54.57 42.24h0.75M58.4 42.57h0.75M72.72 43.04h0.75M76.23 26.27h0.75M90.01 61.12h0.75M75.68 73.16h0.75M82.54 45.15h0.75M69.93 49.23h0.75M77.47 82.37h0.75M55.99 65.76h0.75M57.29 62.04h0.75M69.72 78.07h0.75M56.75 53.56h0.75M59.33 50.03h0.75M82.8 74.5h0.75M66.61 60.59h0.75M58.93 61.44h0.75M75.1 70.1h0.75M54.2 80.08h0.75M61.26 24.6h0.75M75.93 80.77h0.75M62.59 29.23h0.75M71.66 16.39h0.75M71.78 36.51h0.75M91.97 51.91h0.75M68.93 44.03h0.75M64.01 71.85h0.75M54.6 81.72h0.75M80.88 20.2h0.75M63.89 51.71h0.75M54.16 30.92h0.75M65.16 46.6h0.75M89 62.96h0.75M84.35 75.07h0.75M60.68 62.63h0.75M55.25 32.93h0.75M89.01 43.57h0.75M84.29 72.42h0.75M86.91 67.61h0.75M78.71 70.57h0.75M55.02 82.91h0.75M61.82 25.81h0.75M68.44 38.32h0.75M81.93 38.06h0.75M58.38 51.51h0.75M61.69 66.63h0.75M72.55 66.33h0.75M84.94 59.91h0.75M69.5 71.7h0.75M56.24 64.46h0.75M84.11 37.41h0.75M88.51 75.79h0.75M54.01 46.93h0.75M89.07 68.53h0.75M60.43 48.36h0.75M54.67 69.51h0.75M67.41 26.03h0.75M75.55 22.52h0.75M64.67 54.51h0.75M59.03 82.37h0.75M58.75 63.4h0.75M57.09 61.33h0.75M69.5 62.76h0.75M54.71 65.67h0.75M69.45 44.08h0.75M61.91 45.18h0.75M61.97 78.63h0.75M69.03 41.91h0.75M66.64 52.63h0.75M91.39 50.74h0.75M74.55 78.56h0.75M90.7 60.76h0.75M70.54 49.05h0.75M80.14 65.28h0.75M69.03 49.43h0.75M69.33 60.6h0.75M66.63 78.48h0.75M56.1 49.37h0.75M59.78 75.8h0.75M64.43 55.28h0.75M70.33 74.11h0.75M58.44 65.21h0.75M58.59 22.62h0.75M80.19 53.65h0.75M58.2 31.07h0.75M62.15 35.08h0.75M91.15 24.66h0.75M78.79 48.91h0.75M65.59 67.97h0.75M59.1 37.63h0.75M60.92 58.29h0.75M69.58 54.67h0.75M62.19 78.37h0.75M55.53 34.14h0.75M76.3 35.19h0.75M63.89 38.15h0.75M76.02 39.23h0.75M63.38 76.65h0.75M64.56 53.25h0.75M75.38 66.86h0.75M62 31.38h0.75M71.92 70.61h0.75M71.48 63.34h0.75M58.62 71.7h0.75M70.36 75.81h0.75M57.5 25.03h0.75M55.66 76.15h0.75M57.15 81.61h0.75M61.59 76.18h0.75M64.56 51.21h0.75M59.36 68.21h0.75M82.34 58.35h0.75M66.15 50.79h0.75M60.43 75.43h0.75M68.13 29.42h0.75M56.53 82.02h0.75M65.4 51.58h0.75M62.93 63.52h0.75M58.36 66.12h0.75M64.29 65.19h0.75M81.3 82.64h0.75M58.43 49.55h0.75M54.65 75.66h0.75M62.16 81.04h0.75M68.73 46.74h0.75M62.74 46.39h0.75M76.47 42.95h0.75M58.98 26.04h0.75M57.89 34.91h0.75M64.29 78.33h0.75M74.35 27.89h0.75M55.9 68.92h0.75M72.78 46.63h0.75M54.52 68.65h0.75M57.02 33.92h0.75M83.81 46.64h0.75M88.59 75.06h0.75M59.69 74.19h0.75M65.93 68.95h0.75M68.69 63.39h0.75M80.36 72.49h0.75M64.84 73.41h0.75M61.76 44.32h0.75M69.58 32.82h0.75M70.61 47.25h0.75M56.33 78.84h0.75M58.52 53.58h0.75M89.1 68.76h0.75M74.1 67.26h0.75M59.94 79h0.75M84.86 75.53h0.75M70.05 71.93h0.75M53.95 70.31h0.75M55.96 75.06h0.75M55.63 75.95h0.75M64.91 72.22h0.75M69.48 75.48h0.75M61.77 77.68h0.75M65.24 74.7h0.75M64.29 78.69h0.75M70.41 73.43h0.75M72.73 81.87h0.75M62.3 74.82h0.75M61.15 74.65h0.75M64.97 76.51h0.75M76.28 74.49h0.75M59.63 74.24h0.75M67.38 79.33h0.75M60.28 82.67h0.75M70.63 72.29h0.75M82.15 71.66h0.75M72.2 71.46h0.75M70.16 67.3h0.75M72.91 76.78h0.75M80.21 66.67h0.75M80.18 71.21h0.75M76.91 72.13h0.75M58.83 74.45h0.75M60.16 74.56h0.75M70.31 78.46h0.75M62.66 76.29h0.75M60.27 76.44h0.75M59.85 76.06h0.75M56.64 69.28h0.75M59.88 78.89h0.75M67 65.53h0.75M80.93 71.37h0.75M67.91 77.74h0.75M63.48 74.51h0.75M73.31 73.49h0.75M63.93 66.6h0.75M57.61 73.89h0.75M73.32 73.4h0.75M66 78.62h0.75M60.92 73.4h0.75M54.05 77.97h0.75M55.29 72.87h0.75M78.18 79.61h0.75M60.97 70.86h0.75M60.28 72.03h0.75M70.65 80.44h0.75M71.42 76.56h0.75M76.11 77.76h0.75M58.06 80.44h0.75M69.98 78.75h0.75M62.96 74.5h0.75M71.75 78.74h0.75M59.15 77.72h0.75M62.78 71.48h0.75M67.98 75.79h0.75M68.68 78.22h0.75M59.83 75.24h0.75M80.09 80.34h0.75M64.02 76.9h0.75M73.11 75.72h0.75M70.99 78.57h0.75M81.18 75.57h0.75M60.01 74.42h0.75M61.48 78.26h0.75M70.21 77.53h0.75M63.77 78.68h0.75M70.93 74.99h0.75M64.85 77.72h0.75M71.03 72.21h0.75M65.2 71.66h0.75M62.76 75.75h0.75M72.26 76.55h0.75M67.27 77.92h0.75M57.6 69.44h0.75M72.06 77.43h0.75M62.97 76.26h0.75M71.97 77.46h0.75M72.92 76.87h0.75M71.19 68.84h0.75M67.08 71.15h0.75M70.1 77.57h0.75M70.28 69.74h0.75M66.28 74.65h0.75M69.83 73.33h0.75M53.43 77.61h0.75M65.33 75.88h0.75M72.11 73.97h0.75M70.16 72.59h0.75M64.14 73.73h0.75M78.76 75.94h0.75M68.44 78.53h0.75M72.17 75.28h0.75M76.07 76.41h0.75M62.53 71.49h0.75M77.2 74.96h0.75M82.8 70.51h0.75M77.79 75.79h0.75M59.43 73.23h0.75M78.67 74.02h0.75M68.49 81.26h0.75M70.61 72.78h0.75M63.51 72.18h0.75M63.78 78.64h0.75M56.96 71.02h0.75M61.69 68.46h0.75M79.06 81.29h0.75M67.72 72.52h0.75M56.65 75.69h0.75M66.82 78.48h0.75M73.52 69.14h0.75M74.44 77.03h0.75M65.81 82.09h0.75M63.75 69.34h0.75M80.3 76h0.75M74.68 71.99h0.75M73.52 76.65h0.75M57.31 68.06h0.75M72.32 73.07h0.75M62.63 75.92h0.75M77.09 79.97h0.75M76.74 74.06h0.75M56.72 74.99h0.75M79.28 71.16h0.75M58.64 75.36h0.75M74.17 71h0.75M60.39 74.92h0.75M79.3 77.59h0.75M63.18 71.48h0.75M59.63 77.21h0.75M53.49 72.26h0.75M59.27 77.94h0.75M75.32 78.49h0.75M75.42 77.9h0.75M67.23 76.69h0.75M74.15 70.85h0.75M67.75 80.19h0.75M60.42 77.96h0.75M56.32 76.9h0.75M67.58 77.25h0.75M66.51 74.54h0.75M55.69 78.5h0.75M60.18 71.89h0.75M71.95 73.6h0.75M61.84 75.37h0.75M71.66 74.28h0.75M64.47 75.53h0.75M56.5 72.86h0.75M58.5 77.63h0.75M62.36 74.18h0.75M56.56 68.52h0.75M64.28 73.38h0.75M65.89 77.24h0.75M78.87 73.81h0.75M74.05 69.55h0.75M77.66 74.54h0.75M54.4 75h0.75M53.79 74.59h0.75M79.43 74.51h0.75M73.02 76.48h0.75M67.16 69.14h0.75M73.81 69.7h0.75M59.25 75.93h0.75M62.23 71.95h0.75M58.71 67.46h0.75M73.59 75.93h0.75M68.53 77.13h0.75M57.93 80.29h0.75M75.2 75.89h0.75M74.54 77.14h0.75M69.38 72.04h0.75M62.03 77.51h0.75M66.49 81.82h0.75M73.84 78.39h0.75M62.08 72.32h0.75M60.66 74.03h0.75M62.23 69.52h0.75M60.99 74.63h0.75M72.24 71.38h0.75M65.59 72.86h0.75M83.55 76.68h0.75M70.58 77.68h0.75M62.14 71.15h0.75M63.83 78.58h0.75M58.84 69.55h0.75M64.41 73.79h0.75M65.37 77.68h0.75M61.96 73.88h0.75M70.27 72.27h0.75M75.06 78.62h0.75M67.77 77.15h0.75M54.07 70.23h0.75M66.96 79.44h0.75M67.23 76.39h0.75M74.01 71.24h0.75M70.31 77.41h0.75M71.97 70.03h0.75M65.46 75.72h0.75M69.31 82.01h0.75M74.62 69.86h0.75M65.82 73.96h0.75M56.54 79.94h0.75M65.7 78.26h0.75M57.45 72.13h0.75M64.53 71.7h0.75M67.66 77h0.75M67.12 70.78h0.75M58.52 74.55h0.75M71.48 70.82h0.75M65.96 74.33h0.75M67.55 69.07h0.75M72.13 66.72h0.75M64.15 80.77h0.75M76.72 77.07h0.75M87.41 77.76h0.75M67.89 71.63h0.75M72.69 71.63h0.75M71.67 74.82h0.75M81.03 78.88h0.75M62.53 72.39h0.75M72.52 77.62h0.75M57.71 73.23h0.75M62.37 72.6h0.75M67.02 73.41h0.75M64.34 77.98h0.75M87.14 75.05h0.75M67.4 75.51h0.75M64.16 73.42h0.75M55.59 71.83h0.75M71.69 72.3h0.75M80.87 72.48h0.75M70.46 66.51h0.75M65.91 68.66h0.75M53.9 78.57h0.75M61.19 81.86h0.75M74.77 78.19h0.75M73.15 79.39h0.75M81.63 72.36h0.75M62.38 68.72h0.75M65.18 71.73h0.75M57.24 76.03h0.75M74.84 78.8h0.75M76.7 73.97h0.75M76.8 76.37h0.75M68.42 71.97h0.75M65.75 79.84h0.75M59.33 73.15h0.75M67.89 75.33h0.75M61.8 74.39h0.75M61.27 74.22h0.75M59.46 74.01h0.75M53.68 74.35h0.75M81.05 70.76h0.75M79.14 79.46h0.75M69.31 74.92h0.75M69.29 75.49h0.75M76.78 76.88h0.75M68.24 77.19h0.75M75.63 82.72h0.75M64.42 78.14h0.75M63.04 72.09h0.75M79.2 70.92h0.75M63.44 73.61h0.75M70.11 71.89h0.75M57.87 75.8h0.75M74.11 73.87h0.75M65.81 72.87h0.75M63.51 67.71h0.75M78.43 73.08h0.75M71.24 77.02h0.75M74.61 64.96h0.75M78.34 80.76h0.75M64.04 74.89h0.75M80.21 79.73h0.75M65.47 74.54h0.75M74.9 73.19h0.75M56.38 77.98h0.75M61.72 78.29h0.75M60.36 78.83h0.75M89.8 76.37h0.75M72.78 71.67h0.75M77.58 73.93h0.75M70.08 71.87h0.75M75.82 67.45h0.75M64.16 63.79h0.75M66.92 76.41h0.75M68.68 79.07h0.75M60.81 79.46h0.75M60.26 77.62h0.75M77.07 75.6h0.75M69.01 71.28h0.75M66.05 69.29h0.75M78.16 78.14h0.75M77.38 76.72h0.75M72.4 76.85h0.75M65.05 74.74h0.75M64.84 70.47h0.75M63.45 74.1h0.75M75.23 79.01h0.75M71.02 71.93h0.75M66.5 71.21h0.75M86.15 75.87h0.75M72.74 81.55h0.75M66.89 68.39h0.75M55.65 80.92h0.75M65.51 77.43h0.75M72.13 75.78h0.75M57.26 77.98h0.75M67.86 69.83h0.75M71.12 72.23h0.75M69.62 78.36h0.75M58.58 72.24h0.75M55.26 76.81h0.75M64.18 79.35h0.75M58.15 78.98h0.75M56.92 77.18h0.75M67.31 71.91h0.75M59.05 81.18h0.75M59.88 78.98h0.75M61.57 79.94h0.75M77.93 74.55h0.75M61.94 73.12h0.75M54.77 69.96h0.75M71.73 74.64h0.75M55.89 78.23h0.75M65.07 71.32h0.75M59.54 75.02h0.75M64.85 75.94h0.75M71.13 81.45h0.75M61.69 71.94h0.75M61.59 82.02h0.75M69.82 68.34h0.75M69.92 76.38h0.75M56.87 74.78h0.75M61.16 78.7h0.75M82.25 75.19h0.75M61.22 77.48h0.75M67.39 74.42h0.75M65.81 80.17h0.75M57.39 73.24h0.75M72.98 71.84h0.75M68.19 78.58h0.75M58.77 75.92h0.75M60.99 76.81h0.75M65.3 72.27h0.75M70.24 75.64h0.75M57.32 78.33h0.75M74.52 76.6h0.75M66.16 79.61h0.75M54.51 65.31h0.75M61.89 74.93h0.75M65.98 70.57h0.75M67.28 71.4h0.75M61.61 78.61h0.75M78.88 70.83h0.75M71.78 71.13h0.75M57.33 76.76h0.75M73.41 78.87h0.75M64.32 69.6h0.75M62.99 74.76h0.75M70.98 64.76h0.75M67.57 74.74h0.75M60.3 68.77h0.75M73.91 62.68h0.75M67.32 80.42h0.75M69.43 75.83h0.75M66.6 70.11h0.75M62.75 76.75h0.75M67.84 77.33h0.75M66.77 77.93h0.75M68.51 77.65h0.75M74.44 73.14h0.75M68.63 70.58h0.75M70.86 74.55h0.75M75.09 77.01h0.75M60.27 74.47h0.75M69.29 76.83h0.75M82.66 75.77h0.75M58.71 78.36h0.75M65.08 73.82h0.75M65.57 73.99h0.75M65.51 73.51h0.75M67.08 70.53h0.75M62.65 67.91h0.75M71.67 63.57h0.75M72.79 73.66h0.75M70.86 75.36h0.75M77.96 77.72h0.75M62.22 71.64h0.75M64.16 65.88h0.75M66.44 75.5h0.75M63.37 74.62h0.75M62.19 74.25h0.75M61.66 70.46h0.75M65.92 74.75h0.75M63.94 77.28h0.75M71.2 78.96h0.75M54.59 72.8h0.75M67.98 71.06h0.75M78.09 74.33h0.75M78.24 74.47h0.75M82.61 75.41h0.75M61.67 75.03h0.75M68.57 72.61h0.75M55.41 74.46h0.75M57.01 76.83h0.75M74.23 71.57h0.75M62.07 76.94h0.75M69.74 68.3h0.75M54.31 79.35h0.75M55.43 73.69h0.75M62.71 79h0.75M73.03 77.42h0.75M68.44 68.72h0.75M58.57 77.62h0.75M69.74 67.26h0.75M56.95 79.49h0.75M60.07 67.72h0.75M60.18 69.35h0.75M75.31 64.9h0.75M59.31 77.12h0.75M58.81 75.59h0.75M54.18 79.71h0.75M83.1 79.89h0.75M53.44 72.81h0.75M62.77 68.02h0.75M81.05 72.97h0.75M64.89 82.16h0.75M75.56 69.11h0.75M57.33 73.68h0.75M60.94 76.87h0.75M67.53 76.64h0.75M66.42 75.3h0.75M59.85 72.12h0.75M73.95 72.95h0.75M78.93 76.87h0.75M58.53 70.41h0.75M55.57 79.93h0.75M80.81 77.32h0.75M73.32 76.62h0.75M66 69.98h0.75M56.32 76.66h0.75M64.15 76.07h0.75M73.37 73.89h0.75M69.81 73.86h0.75M77.31 76.83h0.75M63.75 74.88h0.75M70.98 80.07h0.75M67.92 75.25h0.75M76.88 75.05h0.75M67.59 74h0.75M60.31 74.9h0.75M63.96 70.34h0.75M64.61 71.4h0.75M69.09 73.53h0.75M64.03 72.82h0.75M67.45 71.92h0.75M63.45 74.23h0.75M63.22 73.64h0.75M53.86 79.35h0.75M56.23 77.26h0.75M67.42 77.25h0.75M59.57 78.59h0.75M67.23 77.41h0.75M75.7 73.41h0.75M61.81 76.89h0.75M73.49 72.6h0.75M59.18 77.16h0.75M75.23 70.18h0.75M57.25 76.64h0.75M59.01 79.42h0.75M70.94 73.78h0.75M69.14 70.67h0.75M69.03 78.06h0.75M70.02 80.55h0.75M62.1 68.81h0.75M64.6 77.04h0.75M60.44 73.94h0.75M68.75 77.47h0.75M60.4 78.77h0.75M65.09 75.96h0.75M65.94 76.04h0.75M64.09 70.07h0.75M66.26 75.63h0.75M77.39 73.92h0.75M64.01 69.01h0.75M62.46 67.86h0.75M80.1 70.17h0.75M74.54 76.56h0.75M74.19 76.67h0.75M68.03 73.57h0.75M77.4 70.21h0.75M75.33 76.05h0.75M78.72 69.64h0.75M66.92 70.22h0.75M55.24 75.05h0.75M68.76 71.85h0.75M54.45 72.35h0.75M60.76 74.09h0.75M71.78 71.36h0.75M76.62 73.47h0.75M57.37 71.55h0.75M65.46 78.92h0.75M62.02 69.77h0.75M59.14 69.07h0.75M65.1 70.9h0.75M69.32 70.98h0.75M59.63 70.86h0.75M66.87 71.88h0.75M57.05 79.07h0.75M64.55 68.97h0.75M71.8 74.5h0.75M73.48 71.89h0.75M78.82 72.42h0.75M58.54 73.08h0.75M68.72 74.79h0.75M64.46 71.96h0.75M71.93 79.88h0.75M64.61 73.41h0.75M63.68 72.97h0.75M70.76 73.1h0.75M83.38 75.58h0.75M65.28 75.24h0.75M74.7 68.37h0.75M62.83 81.71h0.75M66.84 79.41h0.75M66.89 74.35h0.75M85.41 75.86h0.75M73.08 71.92h0.75M58.5 78.51h0.75M58.47 80.48h0.75M63.72 71.73h0.75M63.29 73.24h0.75M87.39 80.48h0.75M55.31 71.59h0.75M58.88 81.95h0.75M60.38 72.61h0.75M77.61 79.54h0.75M70.32 81.73h0.75M68.67 74.26h0.75M71.62 74.26h0.75M60.38 66.78h0.75M62.55 68.28h0.75M75.73 77.26h0.75M54.67 78.25h0.75M69.44 69.6h0.75M58.38 72.22h0.75M63.78 71.93h0.75M83.13 78.1h0.75M58.96 76.11h0.75M53.3 72.52h0.75M69.73 76.86h0.75M58.84 69.45h0.75M61.87 74.88h0.75M63.57 73.08h0.75M53.12 75.73h0.75M59.27 71.29h0.75M65.73 68.41h0.75M69.66 67.45h0.75M54.17 77.77h0.75M68.32 73.53h0.75M72.98 74.56h0.75M65.28 74.65h0.75M72.26 73.58h0.75M77.44 71.44h0.75M76.63 70.7h0.75M66.9 73.53h0.75M69.81 73.69h0.75M57.52 69h0.75M66.56 76.61h0.75M79.08 78.93h0.75M55.34 81.89h0.75M74.43 70.1h0.75M77.07 71.83h0.75M79.65 67.13h0.75M67.37 72.79h0.75M65.01 74.78h0.75M78.54 77.78h0.75M57.92 77.88h0.75M68.03 72.31h0.75M69.62 77.63h0.75M72.28 77.34h0.75M58.87 75.52h0.75M73.19 75.38h0.75M73.18 73.22h0.75M70.62 79.93h0.75M64.57 77.39h0.75M60.53 80.72h0.75M76.38 76.49h0.75M68.96 77.46h0.75M70.03 76.68h0.75M54.44 73.08h0.75M79.06 73.42h0.75M55.45 75.48h0.75M66.28 72.54h0.75M66.16 74.54h0.75M56.85 70.39h0.75M67.43 71.29h0.75M60.6 71.05h0.75M56.59 68.77h0.75M60.71 71.46h0.75M71.2 78.65h0.75M71.3 80.79h0.75M78.03 80.43h0.75M66.14 74.12h0.75M72.85 65.57h0.75M60.48 80.6h0.75M57.05 76.07h0.75M63.61 72.74h0.75M58.29 69.06h0.75M64.29 67.71h0.75M69.27 65.6h0.75M67.7 76.13h0.75M57.72 69.54h0.75M67.98 81.92h0.75M66.82 75.6h0.75M73.78 77.84h0.75M57.52 70.84h0.75M55.98 78.46h0.75M72.14 67.19h0.75M59.58 71.84h0.75M64.72 73.45h0.75M71.48 65.95h0.75M57.63 73.89h0.75M77.7 74.8h0.75M71.82 79.87h0.75M65.01 70.98h0.75M54.47 75.31h0.75M65.57 72.16h0.75M77.27 69.95h0.75M60.17 69.4h0.75M77.22 75.25h0.75M64.04 75.18h0.75M69.25 70.88h0.75M77.61 78.02h0.75M71.68 69.07h0.75M57.43 71h0.75M54.04 80.43h0.75M75.18 75.14h0.75M79.23 72.76h0.75M74.76 77.55h0.75M62.61 74.82h0.75M55.99 70.81h0.75M57.43 79.57h0.75M60.25 68.94h0.75M33.24 64.86h0.75M39.52 75.99h0.75M33.17 64.45h0.75M33.63 69.23h0.75M38.93 83.15h0.75M37.12 58.54h0.75M35.24 74.92h0.75M39.86 58.18h0.75M36.86 74.81h0.75M31.85 56.5h0.75M35.16 71.83h0.75M35.92 65.07h0.75M39.53 56.8h0.75M39.07 70.81h0.75M37.26 68.48h0.75M32.23 71.22h0.75M37 76.06h0.75M31.68 69.2h0.75M32.16 79.12h0.75M34.99 80.74h0.75M33.41 73.84h0.75M35.75 66.55h0.75M36.95 71.79h0.75M36.56 60.29h0.75M32.23 56.45h0.75M38.63 56.74h0.75M39.46 75.69h0.75M31.44 61.54h0.75M35.72 72.12h0.75M35.69 61.82h0.75M33.2 74.65h0.75M38.62 70.13h0.75M36.43 57.08h0.75M36.25 58.32h0.75M35.85 80.5h0.75M39.64 78.42h0.75M34.45 73.79h0.75M34.81 75.29h0.75M33.18 57.27h0.75M39.17 79.52h0.75M36.39 69.13h0.75M34.46 75.23h0.75M33.13 78.98h0.75M35.73 55.18h0.75M35.8 61.22h0.75M34.36 74.09h0.75M33.12 77.89h0.75M36.79 57.51h0.75M37.8 64.11h0.75M32.32 62.01h0.75M37.81 61.94h0.75M32.06 66.33h0.75M36.56 59.67h0.75M36.31 71.83h0.75M36.35 58.3h0.75M39.82 69.19h0.75M39.34 80.92h0.75M33.51 78.64h0.75M32.45 80.77h0.75M34.42 67.72h0.75" stroke="#000" stroke-opacity="0.5" stroke-width="0.75" fill="none"/>
<path d="M29.6 5.7H114.2V90.9" fill="none" stroke="#4a4a4a" stroke-width="0.85"/>
<path d="M29.6 5.3V90.9H114.6" fill="none" stroke="#111" stroke-width="1.05"/>
<rect x="56.5" y="11.2" width="40.4" height="70" fill="none" stroke="#686868" stroke-width="0.9"/>
<text x="26" y="12.2" font-size="5.2" text-anchor="end" fill="#2c2c2c" stroke="#383838" stroke-width="0.15">250K</text>
<text x="26" y="28.3" font-size="5.2" text-anchor="end" fill="#2c2c2c" stroke="#383838" stroke-width="0.15">200K</text>
<text x="26" y="44.5" font-size="5.2" text-anchor="end" fill="#2c2c2c" stroke="#383838" stroke-width="0.15">150K</text>
<text x="26" y="60.6" font-size="5.2" text-anchor="end" fill="#2c2c2c" stroke="#383838" stroke-width="0.15">100K</text>
<text x="26" y="76.8" font-size="5.2" text-anchor="end" fill="#2c2c2c" stroke="#383838" stroke-width="0.15">50K</text>
<path d="M29.6 10.3h-2.4M29.6 26.4h-2.4M29.6 42.6h-2.4M29.6 58.7h-2.4M29.6 74.9h-2.4M29.6 10.3h-1.2M29.6 13.53h-1.2M29.6 16.76h-1.2M29.6 19.99h-1.2M29.6 23.22h-1.2M29.6 26.45h-1.2M29.6 29.68h-1.2M29.6 32.91h-1.2M29.6 36.14h-1.2M29.6 39.37h-1.2M29.6 42.6h-1.2M29.6 45.83h-1.2M29.6 49.06h-1.2M29.6 52.29h-1.2M29.6 55.52h-1.2M29.6 58.75h-1.2M29.6 61.98h-1.2M29.6 65.21h-1.2M29.6 68.44h-1.2M29.6 71.67h-1.2M29.6 74.9h-1.2M29.6 78.13h-1.2M29.6 81.36h-1.2M29.6 84.59h-1.2M29.6 87.82h-1.2" stroke="#222" stroke-width="0.7" fill="none"/>
<text x="6.6" y="48.8" font-size="5.7" font-weight="bold" text-anchor="middle" fill="#111" textLength="11.3" lengthAdjust="spacingAndGlyphs" transform="rotate(-90 6.6 48.8)">FSC</text>
<path d="M67.57 90.9v1.2M71.54 90.9v1.2M74.35 90.9v1.2M76.53 90.9v1.2M78.31 90.9v1.2M79.81 90.9v1.2M81.12 90.9v1.2M82.27 90.9v1.2M89.98 90.9v1.2M93.89 90.9v1.2M96.67 90.9v1.2M98.82 90.9v1.2M100.57 90.9v1.2M102.06 90.9v1.2M103.35 90.9v1.2M104.48 90.9v1.2M60.8 90.9v2.2M83.3 90.9v2.2M105.5 90.9v2.2" stroke="#222" stroke-width="0.7" fill="none"/>
<path d="M36.5 91.6h1.2v2h-1.2zM38.6 91.6h0.9v1.6h-0.9zM40.4 91.6h0.8v1.3h-0.8z" fill="#111"/>
<text x="38.4" y="104" font-size="5.2" text-anchor="middle" fill="#2c2c2c">0</text>
<text x="57.2" y="106.6" font-size="4.5" fill="#2c2c2c" stroke="#2c2c2c" stroke-width="0.15">10</text>
<text x="62.74" y="103.6" font-size="4.6" fill="#2c2c2c" stroke="#2c2c2c" stroke-width="0.15">3</text>
<text x="78.8" y="106.6" font-size="4.5" fill="#2c2c2c" stroke="#2c2c2c" stroke-width="0.15">10</text>
<text x="84.34" y="103.6" font-size="4.6" fill="#2c2c2c" stroke="#2c2c2c" stroke-width="0.15">4</text>
<text x="100.2" y="106.6" font-size="4.5" fill="#2c2c2c" stroke="#2c2c2c" stroke-width="0.15">10</text>
<text x="105.74" y="103.6" font-size="4.6" fill="#2c2c2c" stroke="#2c2c2c" stroke-width="0.15">5</text>
<text x="71.8" y="121.1" font-size="5.9" font-weight="bold" text-anchor="middle" textLength="15" lengthAdjust="spacingAndGlyphs">CD19</text>
<text x="67.8" y="131.6" font-size="5.8" font-weight="bold" text-anchor="middle" textLength="39.8" lengthAdjust="spacingAndGlyphs">B cells: CD19+</text>
<path d="M202.91 67.16h0.75M181.04 56.25h0.75M182.05 43.79h0.75M179.52 64.45h0.75M186.43 74.89h0.75M174.47 33.42h0.75M178.19 64.49h0.75M170.34 77.84h0.75M190.47 73.86h0.75M197.54 16.98h0.75M201.48 59.56h0.75M151.45 44.18h0.75M189.12 77.45h0.75M178.09 71.82h0.75M168.03 36.2h0.75M205.01 69.78h0.75M207.6 57.65h0.75M184.12 28.65h0.75M197.04 38.32h0.75M158 45.73h0.75M203.04 51.61h0.75M160.55 69h0.75M197.87 14.48h0.75M205.19 76.88h0.75M168.35 63.04h0.75M179.01 53.41h0.75M172.78 46.48h0.75M157.03 70.1h0.75M197.54 56.33h0.75M167.69 52.42h0.75M174.81 53.01h0.75M177.28 58.98h0.75M156.86 45.89h0.75M184.15 31.28h0.75M170.24 72.53h0.75M194.01 48.42h0.75M176.33 71.73h0.75M167.48 62.26h0.75M207.38 33.69h0.75M183.71 26.92h0.75M200.71 79.68h0.75M155.39 75.69h0.75M176.39 81.04h0.75M197.99 79.3h0.75M187.71 43.78h0.75M185.32 71.3h0.75M168.45 45.24h0.75M172.81 51.53h0.75M177.57 67.14h0.75M188.59 66.99h0.75M166.9 27.01h0.75M175.98 57.45h0.75M177.16 32.22h0.75M188.36 50.24h0.75M198.45 46.89h0.75M188.02 69.91h0.75M195.08 44.06h0.75M170.66 42.92h0.75M187.69 80.3h0.75M164.2 44.51h0.75M175.08 47.82h0.75M178.25 42.5h0.75M154.31 58.18h0.75M206.59 56.63h0.75M195.38 16.72h0.75M158.86 70.62h0.75M160.18 42.26h0.75M183.19 75.99h0.75M215.1 50.93h0.75M210.75 68.87h0.75M216.74 46.75h0.75M176.9 21.7h0.75M179.65 68.49h0.75M184.65 16.61h0.75M162.78 66.59h0.75M185.09 54.26h0.75M202.67 76.99h0.75M181.61 64.22h0.75M196.38 38.97h0.75M194.94 17.98h0.75M197.63 31.84h0.75M182.39 74.29h0.75M187.64 30.27h0.75M191.15 38.39h0.75M182.78 65.42h0.75M180.41 50.91h0.75M160.72 58.5h0.75M189.68 41.78h0.75M166.55 50.66h0.75M201.2 69.93h0.75M155.56 20.42h0.75M189.91 49.15h0.75M189.8 75.65h0.75M196.95 60.23h0.75M169.63 66.55h0.75M172.46 81.12h0.75M177.94 51.98h0.75M157.95 37.4h0.75M152.24 40.57h0.75M211.26 72.59h0.75M184.02 46.22h0.75M189.86 64.88h0.75M169.56 49.93h0.75M175.1 54.81h0.75M163.4 70.8h0.75M176.2 14.09h0.75M189.62 58.92h0.75M159.61 72.24h0.75M163.09 57.17h0.75M179.5 41.04h0.75M195.78 44.84h0.75M185.58 55.4h0.75M174.56 26.63h0.75M180.67 70.98h0.75M189.21 34.75h0.75M188.28 39.13h0.75M184.53 71.74h0.75M192.83 73.07h0.75M180.98 59.94h0.75M185.04 61.12h0.75M188.42 21.09h0.75M183.68 79.69h0.75M175.09 77.8h0.75M200.63 39.71h0.75M178.83 25.36h0.75M192 56.3h0.75M154.5 81.8h0.75M178.32 53.3h0.75M158.8 27.03h0.75M186.28 49.46h0.75M177.27 35.86h0.75M188.76 53.32h0.75M190.14 49.47h0.75M191.04 29.13h0.75M190.85 43.29h0.75M162.7 78.2h0.75M178.15 41.52h0.75M160.61 27.37h0.75M167.95 80.05h0.75M180.15 81.2h0.75M203.05 73.24h0.75M217.95 51.47h0.75M152.11 59.4h0.75M178.51 73.67h0.75M172.97 56.74h0.75M188.38 76.14h0.75M220.69 72.15h0.75M181.74 49.85h0.75M182.23 80.48h0.75M183.87 16.15h0.75M163.35 14.06h0.75M168.16 49.11h0.75M178.03 70.63h0.75M199.98 28.34h0.75M185.6 51.58h0.75M195.72 80.85h0.75M171.55 62.11h0.75M182.69 54.57h0.75M179.55 32.82h0.75M167.34 80.42h0.75M180.08 25.76h0.75M169.63 20.71h0.75M186.54 73.2h0.75M170.64 75.08h0.75M186.47 24.43h0.75M201.54 80.89h0.75M175.95 60.96h0.75M165.46 63.89h0.75M191.67 18.04h0.75M181.73 46.96h0.75M172.63 64.77h0.75M156.57 52.66h0.75M213.27 30.6h0.75M169.35 64.35h0.75M182.15 67.58h0.75M199.21 75.93h0.75M180.76 71.8h0.75M190.48 31.54h0.75M193.96 80.47h0.75M188.74 77.34h0.75M162.99 24.82h0.75M183.09 42.15h0.75M200.59 53.8h0.75M220.55 78.81h0.75M201.66 46.14h0.75M198.79 33.74h0.75M184.7 43.5h0.75M182.7 53.75h0.75M168.86 26.05h0.75M195.82 81.34h0.75M198.72 50.04h0.75M192.82 24.18h0.75M154.53 74.82h0.75M196.31 18.59h0.75M174.73 65.95h0.75M189.55 20.54h0.75M175.06 17.18h0.75M185.71 75.23h0.75M168.78 71.53h0.75M200.5 18.66h0.75M191.4 31.79h0.75M179.24 52.5h0.75M179.83 46.63h0.75M155.05 36.89h0.75M154.96 70.61h0.75M151.93 46.62h0.75M197.58 46.96h0.75M155.06 44.33h0.75M182.4 50.05h0.75M173.54 19.58h0.75M175.75 80.13h0.75M174.42 53.07h0.75M188.38 65.66h0.75M191.48 72.43h0.75M185.34 35.76h0.75M192.91 60.19h0.75M178.94 69.83h0.75M205.7 68.81h0.75M175.98 60.86h0.75M158.62 69.77h0.75M160.24 25.3h0.75M152.88 18.82h0.75M181.4 29.19h0.75M197.05 29.44h0.75M206.22 77.55h0.75M169.48 74.85h0.75M199.83 57.3h0.75M186.23 24.73h0.75M197.77 43.96h0.75M158.61 70.07h0.75M178.47 42.25h0.75M195.99 72.47h0.75M181.22 67.6h0.75M192.39 34.73h0.75M197.24 42.9h0.75M174.93 72.76h0.75M192.46 68.45h0.75M187.7 49.84h0.75M180.72 49.49h0.75M193.72 45.17h0.75M193.48 53.72h0.75M197.52 41.22h0.75M178.66 68.88h0.75M215.79 30.51h0.75M178.64 15.04h0.75M183.2 56.03h0.75M202 21.47h0.75M182.49 56.35h0.75M180.33 31.2h0.75M210.63 38.67h0.75M201 81.48h0.75M186.18 80.85h0.75M170.33 71.35h0.75M176.27 74.3h0.75M195.87 21.09h0.75M192.99 71.71h0.75M198.78 65.26h0.75M189.34 54.27h0.75M177.59 55.49h0.75M172.83 31.64h0.75M181.78 70.47h0.75M193.23 74.89h0.75M188.82 46.02h0.75M163.59 54.71h0.75M183.9 76.24h0.75M192.33 37.83h0.75M219.23 56.61h0.75M188.49 67.98h0.75M182.92 79.13h0.75M184.02 48.15h0.75M190.03 16.6h0.75M159.55 62.98h0.75M192.87 70.26h0.75M155.26 51.25h0.75M166.6 81.03h0.75M177.84 79.33h0.75M221.53 29.9h0.75M188.52 39.2h0.75M188.54 32.66h0.75M185.17 59.78h0.75M162.59 32h0.75M186.37 36.51h0.75M178.13 58.42h0.75M189.65 52.46h0.75M151.21 63.7h0.75M198.92 29.49h0.75M181.89 73.41h0.75M184.78 19.98h0.75M166.97 77.67h0.75M162.4 79.26h0.75M179.79 75.8h0.75M187.07 58.86h0.75M206.94 73.92h0.75M218.75 57.08h0.75M167.56 74.13h0.75M205.63 15.9h0.75M202.6 51.52h0.75M189.62 77.09h0.75M201.05 16.62h0.75M170.67 71.54h0.75M207.14 22.69h0.75M190.07 52.94h0.75M160.94 19.4h0.75M193.95 53.48h0.75M185.98 77.93h0.75M202.36 27.67h0.75M164.97 19.87h0.75M166.79 16.86h0.75M198.74 36.06h0.75M197.33 48.02h0.75M178.39 65.05h0.75M162.59 27.25h0.75M166.49 81.81h0.75M174.45 62.02h0.75M152.13 27.13h0.75M186.94 81.68h0.75M191.51 21.27h0.75M192.84 31.7h0.75M165.88 59.46h0.75M173.99 35.65h0.75M185.26 27.05h0.75M171.08 49.47h0.75M155.48 60.83h0.75M158.75 31.7h0.75M161.57 39.12h0.75M181.23 58.15h0.75M197.34 69.76h0.75M172.28 65.06h0.75M186.87 53.29h0.75M188.96 16h0.75M156.18 34.32h0.75M172.26 68.52h0.75M156.24 81.2h0.75M162.16 33.97h0.75M174.19 73.61h0.75M196.1 67.36h0.75M207.37 59.92h0.75M158.55 77.01h0.75M196.73 16.92h0.75M186.37 40.18h0.75M179.13 28.74h0.75M168.24 47.04h0.75M168.34 60.74h0.75M220.93 51.61h0.75M210.75 47.39h0.75M161.27 79.74h0.75M198.61 81.3h0.75M202.36 37.4h0.75M196.13 16.76h0.75M197.53 69.17h0.75M178.91 54.4h0.75M163.15 59.95h0.75M186.66 29.21h0.75M166.3 25.97h0.75M185.38 61.88h0.75M185.51 56.17h0.75M197.45 37.47h0.75M185.24 59.69h0.75M192.47 70.46h0.75M190.51 47.86h0.75M187.83 58.21h0.75M183.9 31.87h0.75M178.5 14.5h0.75M157.69 56.01h0.75M182.82 74.36h0.75M195.61 81.93h0.75M191.2 61.45h0.75M164.5 42.2h0.75M203.21 61.04h0.75M210.53 36.75h0.75M180.23 53.86h0.75M182.97 59.3h0.75M188.42 16.3h0.75M186.73 25.95h0.75M178.28 57.23h0.75M180.54 75.29h0.75M207.04 34h0.75M187.78 79.52h0.75M172.03 56.83h0.75M191.73 15.74h0.75M186.28 60.48h0.75M201.84 70.83h0.75M187.82 38.93h0.75M186.23 71.06h0.75M202.33 26.05h0.75M174.64 20.97h0.75M193.28 48.13h0.75M197.31 77.56h0.75M187.15 44.45h0.75M184.99 61.83h0.75M199.89 67.19h0.75M167.46 31.37h0.75M189.3 66.61h0.75M178.73 20.95h0.75M205.34 72.76h0.75M165.27 73.39h0.75M154.81 47.77h0.75M154.33 55.39h0.75M185.97 75.74h0.75M166.04 70.75h0.75M178.56 70.33h0.75M201.4 65.51h0.75M187.36 37.64h0.75M184.18 53.14h0.75M184.86 56.2h0.75M184.5 49.37h0.75M193.47 70.35h0.75M187.05 79.63h0.75M205.99 39h0.75M157.34 67.42h0.75M164.94 75.39h0.75M193.68 81.73h0.75M221.26 48.85h0.75M167.78 49.98h0.75M173.18 80.85h0.75M191.89 15.89h0.75M155.3 19.85h0.75M159.26 63.77h0.75M197.89 49.8h0.75M176.7 50.16h0.75M158.7 55.42h0.75M193.1 76.18h0.75M205.64 38.58h0.75M185.64 79.8h0.75M163.93 44.16h0.75M176.74 74.65h0.75M178.75 27.72h0.75M176.75 54.24h0.75M165.89 61.68h0.75M154.91 75.06h0.75M170.92 70.13h0.75M201.74 75.37h0.75M207.53 31.47h0.75M187.77 20.16h0.75M181.34 55.3h0.75M176.65 29.64h0.75M191.23 67.41h0.75M189.17 42.42h0.75M204.26 53.16h0.75M192.1 68.06h0.75M181.4 63.2h0.75M176.34 81.41h0.75M185.46 44.63h0.75M178.72 70.22h0.75M185.85 80.74h0.75M176.88 66.81h0.75M210.09 61.49h0.75M178.87 64.08h0.75M195.48 29.04h0.75M195.07 47.82h0.75M171.76 30.25h0.75M174.19 25.87h0.75M195.6 47.35h0.75M187.99 75.33h0.75M186.59 51.59h0.75M172.81 38.95h0.75M180.15 47.44h0.75M188.96 52.83h0.75M165.92 60.27h0.75M189.64 48.35h0.75M161.59 15.41h0.75M187.91 57.63h0.75M202.6 54.71h0.75M184.16 70.42h0.75M165.53 17.11h0.75M166.67 32.64h0.75M173.15 31.3h0.75M157.32 50.12h0.75M199.96 62.55h0.75M180.36 70.5h0.75M162.55 61.92h0.75M192.6 65.57h0.75M151.32 18.69h0.75M199.33 74.87h0.75M187.66 80.5h0.75M181.91 65.66h0.75M155.93 67.85h0.75M195.52 23.96h0.75M191.07 59.09h0.75M194.55 35.13h0.75M162.77 66.18h0.75M168.5 64.15h0.75M179.47 74.8h0.75M179.42 34.53h0.75M178.52 47.73h0.75M193.05 49.41h0.75M185.22 20.59h0.75M197.32 21.96h0.75M190.61 46.19h0.75M185.87 65.15h0.75M193.21 81.84h0.75M163.1 18.74h0.75M159.4 34.59h0.75M203.37 80.41h0.75M178.59 17.5h0.75M190.61 54.99h0.75M155.41 51.76h0.75M187.91 56.16h0.75M179.98 62.81h0.75M172.78 57.95h0.75M190.25 46.91h0.75M218.19 39.46h0.75M208.03 81.6h0.75M187.56 62.6h0.75M205.42 78.21h0.75M187.87 68.69h0.75M177.9 49.83h0.75M175.63 65.93h0.75M152.89 21.73h0.75M200.07 27.14h0.75M169.17 67.53h0.75M182.11 71.84h0.75M156.75 72.19h0.75M205.37 20.22h0.75M194.81 56.7h0.75M151.49 51.17h0.75M189.76 71.95h0.75M155.92 65.03h0.75M163.98 77.31h0.75M183.32 79.26h0.75M202 79.83h0.75M184.09 17.96h0.75M180.82 76.4h0.75M189.91 66.51h0.75M176.63 77.41h0.75M218.85 49.04h0.75M176.2 37.33h0.75M189.78 45.93h0.75M205.4 66.4h0.75M151.1 68.53h0.75M175.73 64.17h0.75M199.04 28.99h0.75M161.71 72.15h0.75M186.31 80.92h0.75M174.99 54.77h0.75M183.88 48.23h0.75M212.48 65.92h0.75M167.22 36.34h0.75M151.8 27.9h0.75M189.7 66.08h0.75M174.46 41.43h0.75M205.79 42.8h0.75M176.63 81.77h0.75M161.63 14.91h0.75M189.08 31.15h0.75M162.88 45.88h0.75M173.82 77.1h0.75M193 66.62h0.75M158.48 16.57h0.75M188.57 67.63h0.75M161.98 70.44h0.75M177.77 80.76h0.75M172.48 27.96h0.75M190.12 48.85h0.75M173.86 39.32h0.75M204.7 34.69h0.75M156.04 46.04h0.75M199.38 64.37h0.75M162.66 57.91h0.75M203.26 49.98h0.75M172.5 30.21h0.75M200.52 55.27h0.75M177.03 59.58h0.75M175.93 37.81h0.75M200.23 48.76h0.75M189.33 47.55h0.75M171.02 47.77h0.75M193.38 67.47h0.75M206.71 22.84h0.75M200.39 39.49h0.75M190.71 16.03h0.75M196.61 16.33h0.75M185.52 52.85h0.75M162.48 72.69h0.75M181.07 54.46h0.75M169.23 72.93h0.75M217 29.67h0.75M181.2 72.16h0.75M199.9 67.69h0.75M196.31 28.96h0.75M196.99 56.34h0.75M178.53 38.38h0.75M202.77 44.8h0.75M189.3 56.21h0.75M153.8 64.38h0.75M192.61 45.35h0.75M183.79 75.72h0.75M179.61 53.47h0.75M156.23 19.91h0.75M192.06 49.13h0.75M193.83 62.26h0.75M182.8 23.58h0.75M182.52 74.16h0.75M187.8 56.01h0.75M159.14 59.55h0.75M205.6 53.37h0.75M183.85 72.49h0.75M195.53 39.93h0.75M178.53 43.09h0.75M214.64 38.56h0.75M192.75 17.41h0.75M169.37 74.93h0.75M192.64 26.24h0.75M173.84 17.16h0.75M167.25 46.88h0.75M189.24 67.84h0.75M203.36 54.96h0.75M157.43 80.79h0.75M191.31 79.07h0.75M186.59 75.77h0.75M178.25 55.57h0.75M181.86 68.55h0.75M207.63 80.82h0.75M170.26 64.19h0.75M171.59 49.46h0.75M173.8 19.2h0.75M183.78 73.39h0.75M198.96 63.09h0.75M184.78 79.38h0.75M174.19 58.76h0.75M220.8 75.03h0.75M177.59 34.34h0.75M206.01 59.2h0.75M185.23 80.58h0.75M180.85 59.94h0.75M192.57 63.87h0.75M194.68 63.41h0.75M175.69 65.62h0.75M170.65 29.76h0.75M191.46 38.77h0.75M175.3 42.97h0.75M153.22 45.38h0.75M186.82 66.54h0.75M207 65.11h0.75M187.95 22.38h0.75M173.17 62.93h0.75M174.54 73.81h0.75M162.13 15.68h0.75M197.88 41.57h0.75M153.04 45.56h0.75M169.39 19.41h0.75M184.66 52.92h0.75M176.39 78.25h0.75M201.27 75.25h0.75M205.62 30.41h0.75M172.91 76.43h0.75M153.77 34.14h0.75M180.79 49.57h0.75M217.87 55h0.75M179.04 23.34h0.75M196.32 19.35h0.75M153.43 22.45h0.75M180.86 52.11h0.75M171.5 67.57h0.75M189.68 39.93h0.75M201.97 72.74h0.75M203.01 33.56h0.75M175.79 48.32h0.75M184.18 70.37h0.75M194.95 74.84h0.75M189.06 21.89h0.75M167.59 50.78h0.75M174.34 48.96h0.75M177.17 38.16h0.75M176.53 20.52h0.75M174.46 68.18h0.75M165.78 41.2h0.75M163.44 36.91h0.75M170.22 58.39h0.75M193.69 64.27h0.75M186.15 75.99h0.75M176.36 73.58h0.75M195.39 56.76h0.75M171.58 69.77h0.75M176.63 41.34h0.75M194.85 77.64h0.75M182.96 29.39h0.75M169.53 75.48h0.75M160.92 18.69h0.75M171.2 72.95h0.75M185.83 53.01h0.75M178.97 51.26h0.75M188.52 60.84h0.75M180.25 44.17h0.75M183.85 63.4h0.75M163.36 45.92h0.75M197.04 51.62h0.75M197.92 31.07h0.75M204.73 69.46h0.75M181.75 36.99h0.75M169.58 29.45h0.75M179.47 48.85h0.75M196.13 70.25h0.75M158.95 71.83h0.75M196.99 75.43h0.75M171.69 64.16h0.75M174.73 76.64h0.75M197.45 60.12h0.75M216.38 43h0.75M195.26 74.57h0.75M185.13 77.91h0.75M185.82 28.77h0.75M176.21 39.62h0.75M196.39 66.61h0.75M170.86 45.77h0.75M185.79 50.61h0.75M189.84 40.56h0.75M164.71 20.3h0.75M192.3 38.52h0.75M184.73 64.24h0.75M157.45 81.25h0.75M179.05 54.57h0.75M162.78 62.65h0.75M200.93 71.13h0.75M197.1 64.02h0.75M206.83 51.86h0.75M176.65 27.61h0.75M190.38 57.97h0.75M205.78 79.75h0.75M165.37 50.6h0.75M201.2 71.8h0.75M207.56 44.83h0.75M177.62 81.81h0.75M189.77 34.44h0.75M169.53 72.65h0.75M184.31 70.64h0.75M164.2 54.64h0.75M197.42 33.91h0.75M171.84 30.87h0.75M165.9 67.14h0.75M170.73 78.31h0.75M194.23 51.86h0.75M187.05 63.09h0.75M177.96 67.54h0.75M186.23 28.41h0.75M186.54 76.78h0.75M187.4 50.41h0.75M191.88 70.62h0.75M187.3 35.93h0.75M156.12 35.53h0.75M199.94 57.12h0.75M188.39 58.3h0.75M205.4 76.57h0.75M219.84 67.31h0.75M157.67 80.45h0.75M193.78 71.94h0.75M182.42 22.89h0.75M183.82 60.79h0.75M189.3 66.62h0.75M157.98 67.39h0.75M186.51 68.13h0.75M179.76 49.81h0.75M195.64 71.89h0.75M188.14 75.78h0.75M191.51 74.36h0.75M158.39 80.02h0.75M204.68 23.23h0.75M171.22 61.37h0.75M186.22 29.76h0.75M178.37 24.8h0.75M176.12 65.5h0.75M194.07 72.6h0.75M199.5 59.82h0.75M206.86 76.54h0.75M189.57 59.67h0.75M182.67 16.09h0.75M181.98 80.76h0.75M199.17 61.64h0.75M208.25 41.98h0.75M202.14 73.3h0.75M167.14 37.87h0.75M189.58 62.41h0.75M184.97 51.59h0.75M191.51 64.75h0.75M186.93 15.35h0.75M178.38 37.16h0.75M203.23 49.39h0.75M171.58 15.63h0.75M183.02 46.47h0.75M204.39 67.78h0.75M176.03 46.19h0.75M181.17 69.01h0.75M174.32 35.27h0.75M178.02 22.86h0.75M213.74 60.54h0.75M165.24 40.9h0.75M161.68 69.09h0.75M195.68 54.37h0.75M185.19 30.24h0.75M182.61 72.97h0.75M152.69 67.16h0.75M159.84 72.3h0.75M185.57 66.16h0.75M182.07 25.18h0.75M181.91 43.26h0.75M193.55 15.45h0.75M205.83 47.9h0.75M174.94 70.53h0.75M198.6 40.19h0.75M163.89 69.54h0.75M195.25 35.75h0.75M157.97 53.67h0.75M173.81 76.04h0.75M180.64 67.43h0.75M204.75 57.96h0.75M177.45 62.85h0.75M187.63 19.33h0.75M192.46 51.13h0.75M200.46 17.26h0.75M156.74 17.28h0.75M179.83 22.01h0.75M185.13 62.03h0.75M190.06 78.29h0.75M184.86 32.66h0.75M174.16 28.9h0.75M177.61 24.73h0.75M187.54 79.69h0.75M169.25 42.69h0.75M200.08 49.75h0.75M185.86 52.64h0.75M183.56 68.82h0.75M175.66 26.93h0.75M173.15 31.63h0.75M197.42 69.66h0.75M198.01 31.59h0.75M184.38 45.16h0.75M186.5 41.08h0.75M181.13 67.63h0.75M164.87 14.66h0.75M208.44 46.78h0.75M158.51 60.59h0.75M186.03 49.92h0.75M181.13 39.38h0.75M157.89 30.74h0.75M157.54 46.28h0.75M195.29 23.63h0.75M193.98 73h0.75M174.73 54h0.75M189.64 59.61h0.75M183.4 67.73h0.75M193.07 49.52h0.75M193.84 35.25h0.75M184.16 63.03h0.75M165.52 81.29h0.75M192.74 72.61h0.75M183.46 74.56h0.75M192.37 36.71h0.75M185.15 61.5h0.75M191.99 77.84h0.75M184.03 28.52h0.75M168.82 47.32h0.75M173.39 80.2h0.75M185.78 66h0.75M177.72 22.9h0.75M166.71 43.61h0.75M176.95 18.9h0.75M159.2 31.58h0.75M164.22 30.83h0.75M193.67 44.89h0.75M212.45 74.08h0.75M217.66 25.1h0.75M170.51 54.25h0.75M162.86 72.91h0.75M168.69 70.53h0.75M203.28 19.36h0.75M173.42 43.63h0.75M205.56 66.65h0.75M167.77 16.61h0.75M179.38 52.6h0.75M161.98 59.8h0.75M189.89 22.68h0.75M202.3 80.71h0.75M184.08 15.98h0.75M187.8 39.3h0.75M157.75 78.4h0.75M192.8 70.18h0.75M186.03 56.72h0.75M199.67 30.56h0.75M183.11 41.14h0.75M174.92 40.63h0.75M166.95 34.07h0.75M194.5 73.09h0.75M205.46 20.54h0.75M172.31 66.26h0.75M192.13 55.1h0.75M196.54 57.55h0.75M179.89 66.74h0.75M160.13 69.34h0.75M152.5 76.1h0.75M168.1 61.26h0.75M192.52 44.15h0.75M160.12 31.37h0.75M199.72 67.24h0.75M194.12 66.69h0.75M171.89 22.09h0.75M186.81 36.81h0.75M180.03 66.71h0.75M196.04 79.52h0.75M191.7 63.07h0.75M165.56 50.55h0.75M174.47 80.51h0.75M186.08 68.98h0.75M194.63 26.34h0.75M195.09 79.14h0.75M177.28 17.6h0.75M189.74 52.59h0.75M184.71 44.41h0.75M193.97 77.94h0.75M182.21 38.49h0.75M188.87 81.5h0.75M194.72 27.4h0.75M220.63 68.26h0.75M177.86 40.75h0.75M178.06 34.77h0.75M197.32 39.89h0.75M196.28 69.19h0.75M176.15 81.08h0.75M166.04 58.74h0.75M196.49 68.55h0.75M169.12 29.99h0.75M195.39 40.91h0.75M161.84 34.88h0.75M186.76 53.38h0.75M214.44 60.65h0.75M172.44 72.62h0.75M190.08 54.63h0.75M155.49 70.21h0.75M195.85 79.55h0.75M169.8 78.73h0.75M176.15 60.21h0.75M207.53 78.25h0.75M179.82 68.64h0.75M179.21 16.81h0.75M199.59 70.16h0.75M196.67 44.13h0.75M191.86 67.37h0.75M180.22 70.24h0.75M205.42 66.9h0.75M177.84 48.93h0.75M187.7 17.62h0.75M173.5 32.03h0.75M166.22 41.42h0.75M182.26 79.57h0.75M188.96 33.02h0.75M182.95 39.85h0.75M167.37 73.76h0.75M184.75 36h0.75M191.1 31.53h0.75M197.23 74.94h0.75M161.37 44.23h0.75M194.96 74.02h0.75M195.37 52.45h0.75M166.65 74.69h0.75M153.65 52.35h0.75M184.2 16h0.75M153.02 63.9h0.75M175.27 50.62h0.75M151.94 48.73h0.75M172.58 44.23h0.75M190.07 31.57h0.75M188.64 65.22h0.75M202.57 81.56h0.75M194.32 57.75h0.75M172.67 52.69h0.75M152.43 66.16h0.75M199.75 37.67h0.75M158.56 23.23h0.75M185.11 21.11h0.75M206.01 78.71h0.75M193.28 15.43h0.75M212.26 35.41h0.75M184.71 51.84h0.75M177.34 72.89h0.75M181.88 23.17h0.75M169.7 59.75h0.75M182.88 76.16h0.75M170.39 39.69h0.75M199.14 23.11h0.75M200.69 70.66h0.75M167.3 81.74h0.75M177.85 74.81h0.75M151.32 43.16h0.75M201.96 77.94h0.75M191.37 29.99h0.75M216.4 59.02h0.75M196.59 78.81h0.75M183.46 34.03h0.75M185.83 55.82h0.75M185.47 48.82h0.75M207.57 58.32h0.75M200.3 67.31h0.75M158.98 60.7h0.75M169.18 35.52h0.75M169.9 50.67h0.75M194.92 18.19h0.75M202.08 52.99h0.75M200.89 45.25h0.75M190.94 18.08h0.75M199.26 21.15h0.75M186.96 63.09h0.75M152.64 70.79h0.75M193.54 80.51h0.75M192.89 37.52h0.75M201.29 14.26h0.75M179.43 55.9h0.75M185.97 81.9h0.75M165.45 78.75h0.75M176.01 21h0.75M178.89 37.81h0.75M157.43 59.31h0.75M169.2 51.68h0.75M196.61 38.98h0.75M168.37 64.04h0.75M176.22 75.68h0.75M206.97 33.44h0.75M187.74 81.14h0.75M177.02 74.33h0.75M192.63 20.89h0.75M178.95 24.01h0.75M185.8 36.23h0.75M192.15 67.2h0.75M152.59 59.11h0.75M188.15 57.13h0.75M193.62 44.9h0.75M182.44 65.02h0.75M198.06 25.35h0.75M178.43 50.82h0.75M190.02 14.9h0.75M197.62 29.72h0.75M199.27 72.33h0.75M197.12 47.65h0.75M178.19 78.68h0.75M187.14 75.58h0.75M206.99 19.4h0.75M186.03 32.62h0.75M202.13 33.14h0.75M189.38 70.86h0.75M195.52 77.31h0.75M154.36 62h0.75M199.7 48.1h0.75M183.88 41.13h0.75M166.12 68.41h0.75M188.92 29.97h0.75M185.07 25.97h0.75M174.28 14.71h0.75M197.58 29.67h0.75M182.34 44.72h0.75M221.32 37.57h0.75M173.44 53.39h0.75M189.93 40.65h0.75M177.82 74.44h0.75M165.21 69.14h0.75M157.06 73.76h0.75M190 73.2h0.75M177.63 66.46h0.75M160.86 68.18h0.75M179.08 71.36h0.75M189.46 70.12h0.75M176.96 72.04h0.75M199.2 77.56h0.75M153.27 77.42h0.75M165.22 74.72h0.75M186.13 74.33h0.75M173.42 71.36h0.75M193.67 70.88h0.75M191.84 65.6h0.75M184.33 74.83h0.75M154.73 72.58h0.75M199.96 69.92h0.75M156.46 76.39h0.75M163.99 71.66h0.75M155.87 76.03h0.75M196.84 68.06h0.75M197.02 68.56h0.75M177.36 71.39h0.75M177.24 70.09h0.75M173.01 72.16h0.75M191.77 73.55h0.75M161.08 70.54h0.75M150.66 73.12h0.75M166.63 77.48h0.75M151.02 77.57h0.75M155.78 71.08h0.75M160.3 74.13h0.75M154.19 67.41h0.75M167.44 80.05h0.75M180.09 70.6h0.75M177.37 71.76h0.75M201.27 74.68h0.75M181.54 76.71h0.75M169.42 71.84h0.75M156.37 68.07h0.75M183.29 74.68h0.75M192 73.48h0.75M154.45 68.22h0.75M167.8 74.28h0.75M180.77 73.47h0.75M186.53 74.49h0.75M152.29 72.28h0.75M193.65 73.32h0.75M153.25 66.65h0.75M179.3 71.57h0.75M169.92 71.04h0.75M183.84 69.59h0.75M163.99 72.78h0.75M185.78 72.95h0.75M171.98 71.52h0.75M152.03 72.62h0.75M152.99 66.02h0.75M154.79 74.72h0.75M173.36 66.28h0.75M169.42 74.18h0.75M172.36 69.64h0.75M152.5 68.18h0.75M201.27 73.83h0.75M175.69 74.64h0.75M155.83 74.19h0.75M186.98 69.66h0.75M183.12 75.77h0.75M164.49 72.02h0.75M162.35 70.51h0.75M176.67 70.21h0.75M186.36 66.03h0.75M200.44 72.04h0.75M189.51 71.21h0.75M187.48 71.05h0.75M181.12 69.66h0.75M198.87 69.19h0.75M167.05 69.3h0.75M158.75 69.54h0.75M169.67 75.11h0.75M156.22 76.07h0.75M165.32 69.99h0.75M159.59 74.23h0.75M158.64 73.84h0.75M158.1 70.3h0.75M164.38 69.89h0.75M165.36 75.3h0.75M161.92 71.5h0.75M170.16 71.54h0.75M185.09 73.04h0.75M163.68 66.03h0.75M173.76 77.25h0.75M192.41 73.32h0.75M190.23 63.8h0.75M176.48 75.05h0.75M188.77 68.92h0.75M159.26 75.92h0.75M167.19 71.64h0.75M169.68 73.23h0.75M185.18 76.23h0.75M158.43 71.13h0.75M159.9 70.05h0.75M165.65 78.81h0.75M152.73 78.27h0.75M169.65 74.48h0.75M176.19 73.37h0.75M166.25 75.28h0.75M151.69 76.35h0.75M165.17 69.98h0.75M165.08 74.24h0.75M177.05 65.32h0.75M168.59 68.53h0.75M198.22 68.53h0.75M187.26 73.36h0.75M164.91 74.51h0.75M156.85 72.13h0.75M159.62 77.49h0.75M182.48 74.86h0.75M170.85 69.83h0.75M159.61 72.41h0.75M191.65 70.49h0.75M177.23 71.38h0.75M167.87 71.8h0.75M159.55 75.5h0.75M201.5 71.8h0.75M185.7 68.3h0.75M187.69 71.19h0.75M157.35 68.28h0.75M180.51 76.44h0.75M191.3 76.9h0.75M151.58 67.7h0.75M166.44 66.59h0.75M167.05 67.83h0.75M180.45 72.58h0.75M158.96 69.74h0.75M152.45 73.17h0.75M161.21 70.8h0.75M179.31 65.36h0.75M194.44 76.93h0.75M167.55 72.54h0.75M182.4 70.42h0.75M163.77 76.81h0.75M181.11 68.38h0.75M183.87 71.38h0.75M153.12 73.22h0.75M168.09 75.75h0.75M184.4 68.34h0.75M156.56 69.82h0.75M152.98 71.98h0.75M197.93 72.35h0.75M167.98 71.07h0.75M198.14 71.75h0.75M197.92 65.25h0.75M161.29 77h0.75M166.48 69.59h0.75M171.05 72.1h0.75M156.23 71.93h0.75M170.47 72.39h0.75M201.84 74.83h0.75M181.91 71.75h0.75M192.05 73.69h0.75M167 71.68h0.75M173.99 71.36h0.75M171.21 72.12h0.75M176.54 66.59h0.75M157.03 72.66h0.75M176.74 68.76h0.75M188.01 73.45h0.75M167.88 76.63h0.75M153.72 67.01h0.75M201 72.17h0.75M180.24 71.92h0.75M202.35 73.22h0.75M158.22 67.11h0.75M153.43 72.33h0.75M201.78 73.02h0.75M179.88 70.47h0.75M169.25 75.01h0.75M169.72 72.53h0.75M196.11 73.67h0.75M202.01 70.25h0.75M156.53 69.24h0.75M164.18 71.57h0.75M177.36 74.7h0.75M152.26 70.97h0.75M170.18 74.76h0.75M163.16 73.98h0.75M153.88 74.05h0.75M174.35 68.79h0.75M159.45 75.43h0.75M192.88 68.01h0.75M153.9 74.74h0.75M177.58 72.24h0.75M182.27 70.68h0.75M189.38 70.82h0.75M168.15 71.27h0.75M197.68 76.63h0.75M151.15 70.51h0.75M163.53 73.6h0.75M156.53 72.06h0.75M178.94 73.57h0.75M168.78 70.49h0.75M181.05 67.52h0.75M151.69 73.28h0.75M180.61 74.79h0.75M167.7 69.46h0.75M162.96 76.89h0.75M191.5 80.34h0.75M172.28 72.97h0.75M153.74 73.05h0.75M159.75 70.41h0.75M168.56 70.5h0.75M174.12 73.52h0.75M177.12 72.03h0.75M163.34 73.6h0.75M199.8 70.76h0.75M185.86 66.91h0.75M187.07 70.31h0.75M170.58 70.76h0.75M177.32 74.53h0.75M187.13 71.45h0.75M192.62 71.36h0.75M170.07 74.87h0.75M165.8 70.27h0.75M155.86 67.46h0.75M188.83 75.97h0.75M182.38 71.98h0.75M191.68 71.64h0.75M155.33 69.94h0.75M175.38 76.12h0.75M153.78 73.74h0.75M190.06 74.06h0.75M194.7 72.43h0.75M169.53 66.39h0.75M194.22 73.9h0.75M153.95 74.61h0.75M188.37 74.44h0.75M191.26 72.78h0.75M191.63 65.95h0.75M175.58 72.45h0.75M156.44 74.37h0.75M182.08 78.35h0.75M200.42 72.08h0.75M178.62 72.07h0.75M194.4 78.3h0.75M156.34 69.44h0.75M178.39 75.68h0.75M170 75.3h0.75M168.61 74.47h0.75M154.25 75.98h0.75M160.47 71.36h0.75M168.1 76.12h0.75M190.54 67.69h0.75M161.5 72.91h0.75M151.68 78.26h0.75M180.48 75.25h0.75M176.11 74.8h0.75M180.27 73.88h0.75M191.82 76.19h0.75M154.55 76.69h0.75M160.51 66.54h0.75M153.21 73.29h0.75M159.18 72.78h0.75M189.48 72.09h0.75M200.79 71.13h0.75M188.93 75.27h0.75M175.01 74.62h0.75M190.14 69.96h0.75M170.28 77.95h0.75M178.81 70.7h0.75M159.66 69.61h0.75M151.26 73.61h0.75M199.13 75.34h0.75M161.95 66.09h0.75M154.71 78.95h0.75M201.58 73.04h0.75M155.71 71.84h0.75M159.51 72.45h0.75M182.42 67.69h0.75M155.25 68.42h0.75M158.68 75.93h0.75M158.91 75.67h0.75M177.05 69.97h0.75M166.8 73.65h0.75M187.12 68.78h0.75M159.76 70.24h0.75M153.23 74.01h0.75M190.97 78.59h0.75M165.06 73.35h0.75M188.78 68.26h0.75M182.87 73.06h0.75M164.34 72.27h0.75M173.45 71.02h0.75M156.63 68.3h0.75M182.76 77.08h0.75M182.97 73.43h0.75M158.4 73.52h0.75M172.55 68.2h0.75M161.57 71.1h0.75M172.65 75.78h0.75M186 66.75h0.75M193.49 71.21h0.75M192.13 70.96h0.75M173.22 71.33h0.75M162.12 69.37h0.75M172.52 77.07h0.75M157.67 74.53h0.75M186.57 70.87h0.75M203.48 68.64h0.75M160.54 77.3h0.75M153.39 67.94h0.75M193.28 71.23h0.75M197.93 75.57h0.75M174.89 69.71h0.75M152.42 74.46h0.75M162.21 67.47h0.75M183.58 73.84h0.75M203.81 73.58h0.75M191.61 70.21h0.75M152.85 77.88h0.75M197.86 74.35h0.75M197.98 69.39h0.75M178.51 72.39h0.75M156.2 75.17h0.75M161.59 76.01h0.75M159.28 69.33h0.75M198.16 78.22h0.75M160.6 75.17h0.75M163.62 70.41h0.75M153.34 73.44h0.75M183.67 75.04h0.75M158.7 72h0.75M167.53 70.09h0.75M180.23 76.25h0.75M193.94 71.08h0.75M194.1 65.05h0.75M177.76 74.42h0.75M173.03 73.04h0.75M181.11 75.77h0.75M156.76 70.2h0.75M153.81 77.48h0.75M162.37 68.21h0.75M173.09 73.88h0.75M189.81 75.83h0.75M185.86 76.25h0.75M157.92 70.12h0.75M184.38 65.58h0.75M166.41 69.09h0.75M178.78 77.65h0.75M168.42 72.54h0.75M162.83 76.49h0.75M189.9 72.09h0.75M156.2 71.72h0.75M151.66 76.47h0.75M178.23 72.52h0.75M152.14 67.44h0.75M201.96 70.74h0.75M178.31 67.44h0.75M160.02 72.55h0.75M153.51 77.49h0.75M193.23 74.25h0.75M150.92 72.78h0.75M169.82 66.88h0.75M152.5 67.04h0.75M159.3 67.38h0.75M158.79 71.33h0.75M172.65 68.95h0.75M189.39 71.99h0.75M200.89 70.98h0.75M185.18 77.37h0.75M179.42 71.1h0.75M157.72 72.94h0.75M196.69 66.75h0.75M164.67 71.03h0.75M166.97 74.22h0.75M162.54 69.5h0.75M187.51 72.51h0.75M163.36 70.86h0.75M196.64 71.69h0.75M157.42 75.29h0.75M177.73 71.18h0.75M168.55 72.23h0.75M178.82 75.41h0.75M195.81 75.05h0.75M155.76 67.24h0.75M172.34 72.92h0.75M180.58 75.62h0.75M154.47 66.07h0.75M157.54 68.88h0.75M200.03 73.32h0.75M176.67 75.92h0.75M170.93 74.13h0.75M170.65 71.53h0.75M189.83 70.95h0.75M150.64 69.62h0.75M175.24 77.14h0.75M167.23 70.48h0.75M189.31 76.1h0.75M196.19 70.89h0.75M166.04 70.8h0.75M162.21 72.06h0.75M162.44 71.51h0.75M176.02 74.94h0.75M183.2 69.74h0.75M195.78 72.7h0.75M192.1 76.19h0.75M199.08 76.9h0.75M168.23 72.23h0.75M172.56 67.81h0.75M167.6 68.76h0.75M163.05 70.44h0.75M159.04 64.41h0.75M178.35 67.17h0.75M191.5 70.16h0.75M191.93 68.97h0.75M191.9 71.39h0.75M179.68 78.46h0.75M176.62 70.14h0.75M193.07 68.88h0.75M200.94 72.98h0.75M178.6 71.91h0.75M194.83 75.68h0.75M173.25 75.38h0.75M190.36 67.5h0.75M172.94 69.95h0.75M152.3 78.46h0.75M172.6 73.26h0.75M155.61 65.94h0.75M198.45 69.45h0.75M177.33 68.29h0.75M168.82 73.88h0.75M192.68 72.06h0.75M171.62 70.97h0.75M174.74 78.51h0.75M173.75 74.47h0.75M152.08 73.17h0.75M185.69 72.71h0.75M156.82 65.76h0.75M156.38 69.55h0.75M152.53 70.55h0.75M196.47 74.13h0.75M196.2 69.64h0.75M203.47 74.93h0.75M177.91 67.24h0.75M184.38 68.94h0.75M166.14 69.4h0.75M152.25 71.83h0.75M177.45 76.6h0.75M181.28 75.08h0.75M171.88 70.91h0.75M160.01 69.98h0.75M182.83 68.07h0.75M167.82 70.06h0.75M159.04 67.8h0.75M203.81 74.4h0.75M181.58 69.97h0.75M169.19 67.14h0.75M184 75.23h0.75M187.39 66.39h0.75M151.28 78.07h0.75M161.63 71.37h0.75M181.26 79.93h0.75M157.4 71.5h0.75M188.94 70.7h0.75M168.66 76.7h0.75M190.39 72.2h0.75M162.84 72.94h0.75M186.94 66.85h0.75M168.39 70.78h0.75M151.07 72.75h0.75M197.12 70.15h0.75M166.85 77.92h0.75M198.35 70.97h0.75M152.57 67.91h0.75M168.4 68.11h0.75M165.59 75.85h0.75M152 72.33h0.75M164.72 72.76h0.75M177.73 72.36h0.75M155.9 74.45h0.75M178.26 72.24h0.75M154.45 68.66h0.75M183.24 70.3h0.75M168.74 68.82h0.75M201.07 69.15h0.75M172.34 73.56h0.75M189.39 71.39h0.75M183.59 76.92h0.75M163.6 68.44h0.75M193.66 73.36h0.75M172.57 70.81h0.75M178.17 75.03h0.75M164.42 69.03h0.75M159.04 69.88h0.75M162.66 76.28h0.75M155.33 72.88h0.75M168.14 66.55h0.75M167.73 74.63h0.75M157.64 73.53h0.75M150.65 77.36h0.75M162.65 74.61h0.75M175.06 69.45h0.75M155.98 70.41h0.75M167.36 73.27h0.75M187.27 72.46h0.75M189.22 75.68h0.75M192.78 71.92h0.75M194.58 74.57h0.75M161.47 69.67h0.75M195.66 72.16h0.75M176.37 70.62h0.75M162.23 73.56h0.75M202.64 69.41h0.75M187.19 66.59h0.75M163.84 67.28h0.75M179.94 71.37h0.75M162.34 71.02h0.75M167.26 71h0.75M158.47 66.54h0.75M171.93 71.63h0.75M191.54 73.3h0.75M166.35 74.84h0.75M175.81 70.16h0.75M175.02 70.7h0.75M158.58 72.36h0.75M151.61 69.75h0.75M156.99 73.94h0.75M166.97 72.7h0.75M175.56 72.01h0.75M184.51 77.5h0.75M196.96 69.93h0.75M184.67 69.29h0.75M161.92 72.82h0.75M193.09 72.52h0.75M178.92 72.05h0.75M152.96 71.5h0.75M191.18 69.06h0.75M189.36 75.75h0.75M166.84 71.53h0.75M151.74 75.08h0.75M184.31 67.52h0.75M170.2 74.91h0.75M201.37 74.24h0.75M159.62 71.64h0.75M152.7 77.02h0.75M164.61 74.94h0.75M200.06 73.41h0.75M183.9 70.65h0.75M190.02 74.26h0.75M184.04 74.46h0.75M157.83 74.64h0.75M164.55 63.74h0.75M202.25 66.45h0.75M174.24 73.94h0.75M172.12 70.48h0.75M161.74 74.87h0.75M158.84 75.83h0.75M163.46 74.31h0.75M170.47 69.84h0.75M192.22 70.37h0.75M174.48 63.87h0.75M160.35 75.16h0.75M178.56 66h0.75M189.11 72.82h0.75M163.35 75.91h0.75M160.68 71.95h0.75M169.45 66.22h0.75M196.22 68.07h0.75M157.02 75.94h0.75M171.91 77.16h0.75M164.43 76h0.75M193.9 74.76h0.75M163.28 70.41h0.75M200.18 71.62h0.75M202.93 75.58h0.75M179.11 70.08h0.75M163.62 70.31h0.75M159.95 70.42h0.75M156.25 75.31h0.75M192.66 70.91h0.75M162.45 74.63h0.75M197.54 71.96h0.75M192.07 71.62h0.75M192.73 72.36h0.75M164.56 69.18h0.75M156.42 75.21h0.75M161.63 74.55h0.75M192.08 71.92h0.75M190.17 73h0.75M174.54 73.85h0.75M201.41 74.5h0.75M186.08 72.12h0.75M200.59 73.47h0.75M165.94 72.55h0.75M199.98 68.87h0.75M188.16 67.67h0.75M169.6 75.85h0.75M171.24 68.49h0.75M159.59 67.95h0.75M162.09 75.48h0.75M190.82 75.72h0.75M172.79 65.73h0.75M203.8 77.52h0.75M178.32 75.56h0.75M156.23 75.91h0.75M193.98 71.59h0.75M158.21 70.6h0.75M151.89 73.39h0.75M152.46 66.86h0.75M176.08 73.38h0.75M169.31 73.14h0.75M165.8 71.51h0.75M165.42 78.89h0.75M158.2 75.76h0.75M197.57 74.14h0.75M193.83 71.34h0.75M187.63 71.46h0.75M170.9 75.22h0.75M203.76 74.03h0.75M193.57 79.4h0.75M189.9 71.01h0.75M191.32 75.09h0.75M188.94 68.21h0.75M183.26 60.24h0.75M188.99 74.8h0.75M201.87 70.19h0.75M183.19 80.17h0.75M185.25 70.08h0.75M201.01 70.84h0.75M195.92 62.18h0.75M193.06 68.43h0.75M182.56 70.26h0.75M195.85 68.53h0.75M183.79 73.64h0.75M186.43 71.11h0.75M185.05 72.28h0.75M193.64 60.37h0.75M186.02 77.2h0.75M186.09 66.83h0.75M181.71 66.27h0.75M183.32 66.97h0.75M193.9 74.73h0.75M179.45 64.61h0.75M180.45 63.73h0.75M201.3 69.05h0.75M186.32 80h0.75M184.9 69.57h0.75M193.7 80.38h0.75M185.94 55.45h0.75M186.32 70.8h0.75M187.75 65.12h0.75M189.51 66.61h0.75M195.64 68.18h0.75M186.75 61.28h0.75M182.01 65.86h0.75M200.2 63.83h0.75M200.65 67.42h0.75M174.51 63.94h0.75M193.42 79.29h0.75M191.6 75.16h0.75M188.97 75.26h0.75M176.59 68.88h0.75M197.14 65.12h0.75M181.88 72.74h0.75M190.29 67.9h0.75M191.27 69.8h0.75M181.75 65.63h0.75M190.57 63.5h0.75M184.66 71.68h0.75M194.11 66.37h0.75M180.78 78.13h0.75M184.35 79.41h0.75M177.34 69.44h0.75M191.75 68.9h0.75M196.23 73.79h0.75M198.06 68.19h0.75M185.08 67.35h0.75M180.01 63.58h0.75M194.96 79.9h0.75M184.06 73.04h0.75M191.76 71.82h0.75M189.74 69.65h0.75M186.25 73.34h0.75M187.81 77.98h0.75M194.87 58.91h0.75M189.16 73.97h0.75M188.63 75.66h0.75M188.84 75.29h0.75M181.53 71.83h0.75M192.53 73.9h0.75M191.52 69.43h0.75M188.11 73.31h0.75M187.77 75.84h0.75M197 67.85h0.75M182.65 75.42h0.75M198.09 74.41h0.75M192.11 55.66h0.75M184.71 65.52h0.75M189.11 76.53h0.75M191.72 62.37h0.75M185.58 67.7h0.75M186.74 73h0.75M193.41 76.49h0.75M191.55 67.67h0.75M195.72 69.09h0.75M181.91 70.6h0.75M182.9 60.18h0.75M176.52 71.64h0.75M180.91 70.58h0.75M193.99 65.93h0.75M190.27 71.69h0.75M180.16 75.94h0.75M198.77 70.55h0.75M191.35 70.59h0.75M184.55 66.3h0.75M187.02 56.76h0.75M183.47 64.52h0.75M185.54 77.42h0.75M188.81 71.35h0.75M183.57 60.67h0.75M184.39 68.64h0.75M197.09 69.88h0.75M190.18 80h0.75M188.79 65.13h0.75M189.19 63.32h0.75M178.37 79.38h0.75M196.53 65.96h0.75M188.7 71.6h0.75M184.86 78.75h0.75M179.87 62.84h0.75M188.6 69.8h0.75M190.08 68.51h0.75M203.62 62.53h0.75M184.33 68.29h0.75M190.43 76.86h0.75M198.16 64.56h0.75M187.79 67.13h0.75M187.46 67.67h0.75M183.83 60.77h0.75M182.83 65.67h0.75M190.31 66.94h0.75M181.52 62.78h0.75M193.71 72.39h0.75M191.94 75.76h0.75M173.95 71.67h0.75M195.25 69.22h0.75M182.53 67.55h0.75M176.84 67.05h0.75M183.96 70.07h0.75M199.39 77.31h0.75M180.88 70.08h0.75M180.65 64.01h0.75M198.97 73.01h0.75M191.26 77.58h0.75M191.08 74.07h0.75M184.44 67h0.75M176.72 76.28h0.75M191.08 72.06h0.75M190.64 71.78h0.75M183.86 72.94h0.75M173.5 66.69h0.75M175.52 70.39h0.75M194.1 70.39h0.75M176.91 68.82h0.75M198.15 73.46h0.75M195.04 70.07h0.75M195.15 55.96h0.75M194.16 66.2h0.75M191.87 62.83h0.75M185.17 71.05h0.75M189.76 63.27h0.75M197.14 61.61h0.75M183.48 69.83h0.75M200.63 67.1h0.75M184.62 72.79h0.75M184.67 75.82h0.75M182.48 65.13h0.75M186.74 65.32h0.75M185.14 65.41h0.75" stroke="#000" stroke-opacity="0.4" stroke-width="0.75" fill="none"/>
<path d="M149.8 5.9H235.8V91" fill="none" stroke="#4a4a4a" stroke-width="0.85"/>
<path d="M149.8 5.5V91H236.2" fill="none" stroke="#111" stroke-width="1.05"/>
<rect x="160.6" y="13.6" width="67.8" height="67.7" fill="none" stroke="#686868" stroke-width="0.9"/>
<path d="M182.5 13.6L182.5 81.3" stroke="#444" stroke-width="0.85" fill="none"/>
<text x="146.2" y="12.2" font-size="5.2" text-anchor="end" fill="#2c2c2c" stroke="#383838" stroke-width="0.15">250K</text>
<text x="146.2" y="28.3" font-size="5.2" text-anchor="end" fill="#2c2c2c" stroke="#383838" stroke-width="0.15">200K</text>
<text x="146.2" y="44.5" font-size="5.2" text-anchor="end" fill="#2c2c2c" stroke="#383838" stroke-width="0.15">150K</text>
<text x="146.2" y="60.6" font-size="5.2" text-anchor="end" fill="#2c2c2c" stroke="#383838" stroke-width="0.15">100K</text>
<text x="146.2" y="76.8" font-size="5.2" text-anchor="end" fill="#2c2c2c" stroke="#383838" stroke-width="0.15">50K</text>
<path d="M149.8 10.3h-2.4M149.8 26.4h-2.4M149.8 42.6h-2.4M149.8 58.7h-2.4M149.8 74.9h-2.4M149.8 10.3h-1.2M149.8 13.53h-1.2M149.8 16.76h-1.2M149.8 19.99h-1.2M149.8 23.22h-1.2M149.8 26.45h-1.2M149.8 29.68h-1.2M149.8 32.91h-1.2M149.8 36.14h-1.2M149.8 39.37h-1.2M149.8 42.6h-1.2M149.8 45.83h-1.2M149.8 49.06h-1.2M149.8 52.29h-1.2M149.8 55.52h-1.2M149.8 58.75h-1.2M149.8 61.98h-1.2M149.8 65.21h-1.2M149.8 68.44h-1.2M149.8 71.67h-1.2M149.8 74.9h-1.2M149.8 78.13h-1.2M149.8 81.36h-1.2M149.8 84.59h-1.2M149.8 87.82h-1.2" stroke="#222" stroke-width="0.7" fill="none"/>
<text x="128.4" y="48.8" font-size="5.7" font-weight="bold" text-anchor="middle" fill="#111" textLength="11.3" lengthAdjust="spacingAndGlyphs" transform="rotate(-90 128.4 48.8)">FSC</text>
<path d="M187.36 91v1.2M191.2 91v1.2M193.92 91v1.2M196.04 91v1.2M197.76 91v1.2M199.22 91v1.2M200.49 91v1.2M201.6 91v1.2M209.1 91v1.2M212.91 91v1.2M215.6 91v1.2M217.7 91v1.2M219.41 91v1.2M220.85 91v1.2M222.11 91v1.2M223.21 91v1.2M180.8 91v2.2M202.6 91v2.2M224.2 91v2.2" stroke="#222" stroke-width="0.7" fill="none"/>
<path d="M156.5 91.7h1.2v2h-1.2zM158.6 91.7h0.9v1.6h-0.9zM160.4 91.7h0.8v1.3h-0.8z" fill="#111"/>
<text x="158.8" y="104" font-size="5.2" text-anchor="middle" fill="#2c2c2c">0</text>
<text x="178" y="106.6" font-size="4.5" fill="#2c2c2c" stroke="#2c2c2c" stroke-width="0.15">10</text>
<text x="183.54" y="103.6" font-size="4.6" fill="#2c2c2c" stroke="#2c2c2c" stroke-width="0.15">3</text>
<text x="199.4" y="106.6" font-size="4.5" fill="#2c2c2c" stroke="#2c2c2c" stroke-width="0.15">10</text>
<text x="204.94" y="103.6" font-size="4.6" fill="#2c2c2c" stroke="#2c2c2c" stroke-width="0.15">4</text>
<text x="220.2" y="106.6" font-size="4.5" fill="#2c2c2c" stroke="#2c2c2c" stroke-width="0.15">10</text>
<text x="225.74" y="103.6" font-size="4.6" fill="#2c2c2c" stroke="#2c2c2c" stroke-width="0.15">5</text>
<text x="192.7" y="121.1" font-size="5.9" font-weight="bold" text-anchor="middle" textLength="15" lengthAdjust="spacingAndGlyphs">CD27</text>
<text x="192.9" y="131.6" font-size="5.8" font-weight="bold" text-anchor="middle" textLength="37.3" lengthAdjust="spacingAndGlyphs">CD19+CD27+</text>
<path d="M295.57 62.25h0.75M292.31 55.69h0.75M293.8 59.35h0.75M298.88 75.23h0.75M291.19 36.73h0.75M300.47 52.19h0.75M288.01 71.7h0.75M302.55 73.01h0.75M295.54 80.49h0.75M303.05 62.23h0.75M287.55 77.85h0.75M299.86 31.8h0.75M292.42 54.58h0.75M298.24 69.76h0.75M284.07 74.65h0.75M293.88 53.81h0.75M298.41 31.99h0.75M293.24 70.86h0.75M286.11 56.29h0.75M300.62 58.64h0.75M297.85 76.17h0.75M292.78 77.85h0.75M301.97 77.45h0.75M299.58 50.19h0.75M293.23 34.74h0.75M290.08 68.51h0.75M298.1 77.92h0.75M298.1 30.44h0.75M291.01 68.84h0.75M303.86 69.05h0.75M284.22 77.25h0.75M293.22 64.28h0.75M285.1 80.77h0.75M283.21 70.82h0.75M298.59 59.38h0.75M284.25 55.41h0.75M293.18 58.91h0.75M288.37 75.69h0.75M287.87 71.56h0.75M294.32 75.79h0.75M289.22 77.86h0.75M289.66 65.3h0.75M297.16 57.66h0.75M299.4 59.17h0.75M285.14 74.72h0.75M290.87 39.71h0.75M298.36 32.5h0.75M294.03 18.1h0.75M295.46 77.1h0.75M287.23 63.73h0.75M294.12 80.06h0.75M297.76 70.66h0.75M303.56 76.88h0.75M284.77 67.31h0.75M292.46 61.05h0.75M292.17 49.79h0.75M295.75 48.87h0.75M303.41 59.65h0.75M298.69 68.85h0.75M301 68.47h0.75M286.33 71.69h0.75M296.26 78.47h0.75M300.8 79.33h0.75M283.75 69.31h0.75M300.32 24.13h0.75M288.21 20.43h0.75M294.03 33.55h0.75M293.35 65.92h0.75M299.69 80.02h0.75M300.57 24.07h0.75M301.03 61.54h0.75M288.1 43.81h0.75M291.62 41.44h0.75M294.76 69.37h0.75M285.94 77h0.75M298.13 64.21h0.75M299.41 73.93h0.75M301.91 72.36h0.75M290.34 67.27h0.75M302.9 42.4h0.75M283.32 60.84h0.75M286.31 38.45h0.75M299.92 63.92h0.75M298.21 24.87h0.75M292.32 59.8h0.75M285.01 64.05h0.75M300.59 68.58h0.75M284.65 47.99h0.75M301.28 68.8h0.75M293.98 68.65h0.75M290.67 73.99h0.75M301.68 68.52h0.75M290.61 72.31h0.75M288.08 40.32h0.75M290.36 72.43h0.75M303.41 75.35h0.75M297.49 71.47h0.75M296.79 67.87h0.75M301.34 49.74h0.75M288.17 78h0.75M289.5 60.1h0.75M297.08 39.03h0.75M299.73 43.36h0.75M283.1 38.36h0.75M286.68 50.67h0.75M285.72 65.87h0.75M285.89 44.33h0.75M288.39 68.2h0.75M293.63 75.66h0.75M285.96 62.7h0.75M294.72 67.3h0.75M293.68 65.01h0.75M294.91 76.69h0.75M291.49 33.98h0.75M302.96 74.81h0.75M285.02 32.7h0.75M291.7 42.37h0.75M293.67 77.69h0.75M299.23 44.42h0.75M295.98 71.19h0.75M290.15 70.98h0.75M294.4 77.06h0.75M284.88 80.93h0.75M289.06 55.84h0.75M300.37 79.81h0.75M296.53 58.02h0.75M288.24 45.27h0.75M285.27 76.16h0.75M288.6 42.34h0.75M303.05 28.15h0.75M293.11 80.91h0.75M285.65 49.69h0.75M285.65 74.74h0.75M283.83 72.37h0.75M287.69 60.44h0.75M285.61 74.3h0.75M285.21 38.67h0.75M283.5 80.6h0.75M297.92 61.95h0.75M302.5 65.03h0.75M302.04 70.52h0.75M289.71 38.33h0.75M287.22 37.85h0.75M290.55 58.76h0.75M290.98 68.8h0.75M287.53 66.84h0.75M293.92 49.48h0.75M295.85 45.16h0.75M287.71 76.92h0.75M298.09 59.11h0.75M295.41 79.75h0.75M293.19 76.89h0.75M296.16 19.64h0.75M289.49 59.72h0.75M297.24 51.12h0.75M301.26 77.36h0.75M303.75 52.55h0.75M286.73 35.78h0.75M301.52 70.18h0.75M289.71 73.83h0.75M300.72 60.07h0.75M301.69 52.76h0.75M303.01 54.56h0.75M298.91 65.6h0.75M295.67 56.22h0.75M291.29 52.45h0.75M298.01 75.57h0.75M303.12 80.39h0.75M299.08 47.78h0.75M299.68 70.08h0.75M292.19 59.4h0.75M287.25 44.99h0.75M288.57 74.3h0.75M300.5 56.76h0.75M288.58 32.64h0.75M289.46 57.89h0.75M295.15 75.53h0.75M302.27 77.13h0.75M289.83 80.33h0.75M299.33 77.78h0.75M283.69 67.69h0.75M293.41 69.21h0.75M298.85 26.82h0.75M298.85 63.73h0.75M288.31 77.45h0.75M282.99 67.15h0.75M284.32 62.9h0.75M294.51 72.22h0.75M282.83 75.23h0.75M291.01 64.49h0.75M299.12 68.35h0.75M300.38 66.35h0.75M296.45 80.2h0.75M290.9 69.98h0.75M300.11 68.55h0.75M282.72 34.64h0.75M297.57 39.52h0.75M299.95 62.59h0.75M294.62 67.06h0.75M302.95 26.91h0.75M299.41 78.87h0.75M295.32 33.64h0.75M292.64 67.8h0.75M292.06 62.88h0.75M300.5 73.91h0.75M287.29 45.6h0.75M297.63 58.99h0.75M289.97 62.26h0.75M287 66.29h0.75M296.85 67.69h0.75M284.13 44.98h0.75M291.34 78.35h0.75M294.38 52.43h0.75M297.47 69.58h0.75M299.04 74.39h0.75M301.28 71.02h0.75M298.7 77.53h0.75M286.67 53.55h0.75M296.78 78.05h0.75M293.24 48.98h0.75M292.15 77.74h0.75M296.96 75.4h0.75M286.4 48.73h0.75M285.56 55.9h0.75M300.82 76.11h0.75M289.14 67.04h0.75M288.92 56.52h0.75M293.94 35.09h0.75M296.52 74.43h0.75M294.84 63.44h0.75M288.78 63.02h0.75M298.15 30.12h0.75M292.37 70.02h0.75M302.69 74.25h0.75M295.31 70.29h0.75M301.48 48.3h0.75M302.43 80.14h0.75M296.66 53.86h0.75M290.35 46.49h0.75M289.89 60.27h0.75M289.28 30.07h0.75M294.72 62.61h0.75M286.32 79.26h0.75M299.29 41.45h0.75M287.62 72.13h0.75M295.72 69.78h0.75M286.09 45.15h0.75M291.29 72.85h0.75M285.56 75.36h0.75M290.73 61.99h0.75M313.73 37.71h0.75M317.86 42.64h0.75M324.31 67.59h0.75M318.04 67.04h0.75M319.03 36.75h0.75M304.35 21.1h0.75M310.78 70.43h0.75M313.02 67.51h0.75M303.03 73.12h0.75M314.13 67.55h0.75M315.19 43.91h0.75M311.62 24.12h0.75M331.96 70.21h0.75M319.7 70.35h0.75M335.96 70.81h0.75M326.5 56.51h0.75M327.97 69.75h0.75M312.55 37.74h0.75M321.83 30.31h0.75M308.67 77.93h0.75M328.73 55.52h0.75M340.06 66.94h0.75M321.46 36.53h0.75M309.15 33.77h0.75M307.65 50.07h0.75M308.25 30.33h0.75M321.72 19.3h0.75M325.54 39.87h0.75M321.26 43.28h0.75M311.61 39.98h0.75M317.81 72.2h0.75M307.42 52.01h0.75M325.64 71.7h0.75M324.52 29.04h0.75M306.05 44.09h0.75M317.43 32.83h0.75M316.47 25.96h0.75M315.4 74.32h0.75M321.47 45.84h0.75M322.84 31.85h0.75M307.3 46.73h0.75M311.28 21.6h0.75M317.13 65.31h0.75M303.33 78.93h0.75M315.05 55.46h0.75M323.7 45.51h0.75M303.63 52.53h0.75M324 32.78h0.75M320.61 55.91h0.75M305.21 26.21h0.75M322.49 50.2h0.75M311.67 60.98h0.75M315.86 26.31h0.75M325.68 73.7h0.75M312.57 78.71h0.75M329.45 18.07h0.75M309.22 73.17h0.75M315.94 64h0.75M316.77 47.64h0.75M305.11 72.11h0.75M319.84 21.4h0.75M310.19 79.59h0.75M310.93 62.34h0.75M319.97 62h0.75M315.9 50.95h0.75M316.13 21.09h0.75M312.35 21.87h0.75M313.58 46.6h0.75M326.06 22.25h0.75M315.02 38.24h0.75M343.3 64.81h0.75M307.73 53.95h0.75M319.59 55.4h0.75M322.32 68.3h0.75M334.31 56.21h0.75M313.67 40.19h0.75M305.26 25.86h0.75M309.17 39.85h0.75M326.82 38.72h0.75M321.06 32.29h0.75M330.9 46.86h0.75M329.83 39.17h0.75M315.11 71.82h0.75M336.37 29.23h0.75M303.25 78.25h0.75M328.64 34.62h0.75M314.97 73.08h0.75M325.08 74.26h0.75M306.55 35.69h0.75M320.04 60.86h0.75M313.15 75.42h0.75M307.81 56.57h0.75M308.03 57.23h0.75M311.28 40.56h0.75M315.54 71.36h0.75M321.11 26.49h0.75M323.97 38.14h0.75M328.92 53.67h0.75M312.52 80.53h0.75M303.58 73.42h0.75M306.99 42.61h0.75M307.56 29.75h0.75M313.58 29.63h0.75M307.61 64.79h0.75M315.72 48.58h0.75M304.29 58.54h0.75M307.56 18.73h0.75M320.25 41.13h0.75M332.22 62.75h0.75M317.76 69.4h0.75M309.78 23.56h0.75M308.67 20.54h0.75M316.72 25.08h0.75M313.27 56.39h0.75M313.72 38.37h0.75M318.77 71.66h0.75M319.99 64.02h0.75M322.09 45.02h0.75M311.99 58.46h0.75M312.12 46.6h0.75M309.83 41.49h0.75M313.65 77.64h0.75M314.9 54.22h0.75M306.13 73.5h0.75M317.55 48.82h0.75M304.37 75.21h0.75M312.17 25.58h0.75M310.17 48.83h0.75M330.36 51.44h0.75M323.88 27.03h0.75M305.87 40.13h0.75M322.61 77.72h0.75M305.43 62.52h0.75M322.08 59.63h0.75M316.64 27.6h0.75M312.91 59.31h0.75M318.88 55.06h0.75M325.88 55.51h0.75M309.17 35.73h0.75M305.3 54.79h0.75M306.85 47.69h0.75M312.35 74.72h0.75M307.42 52.5h0.75M310.59 25.69h0.75M303.19 29.29h0.75M309.8 37.01h0.75M305.78 49.7h0.75M317.75 27.54h0.75M320.02 62.32h0.75M314.8 30.57h0.75M309.68 77.05h0.75M316.56 80.32h0.75M308.15 71.98h0.75M311.63 75.26h0.75M324.17 18.24h0.75M314.64 41.47h0.75M311.8 51.38h0.75M310.98 33.56h0.75M306.84 65.85h0.75M311.32 57.62h0.75M320.53 64.61h0.75M309.04 73.74h0.75M307.58 72.09h0.75M322.52 48.75h0.75M325.84 41.58h0.75M329.97 52.85h0.75M311.17 39.15h0.75M313.46 17.65h0.75M314.63 32.8h0.75M310.8 79.67h0.75M323.3 75.49h0.75M306.46 66.29h0.75M320.54 62.87h0.75M320.5 58.3h0.75M308.23 68.14h0.75M305.43 56.03h0.75M325.27 38.33h0.75M307.9 56.04h0.75M315.45 30.35h0.75M341.35 44.99h0.75M306.37 48.33h0.75M318.39 19.85h0.75M320.29 44.51h0.75M339.83 41.85h0.75M313.96 45.66h0.75M312.98 22.53h0.75M325.42 28.49h0.75M319.35 64.17h0.75M329.54 22.37h0.75M315.98 73.58h0.75M310.1 39.41h0.75M314.65 76.59h0.75M309.02 77.08h0.75M314.33 28.71h0.75M311.44 55.68h0.75M307.4 29.59h0.75M309.79 18.57h0.75M327.38 78.69h0.75M329.62 70.85h0.75M308 33.28h0.75M325.78 40.24h0.75M321.95 44.13h0.75M311.63 38.87h0.75M308.14 46.42h0.75M317.63 27.53h0.75M322.82 18.01h0.75M313.39 75.17h0.75M325.91 37.05h0.75M319.82 61.86h0.75M316.32 31.8h0.75M303.6 61.63h0.75M325.9 20.35h0.75M312.58 38.28h0.75M307.96 33.22h0.75M308.57 55.85h0.75M312.54 60.59h0.75M327.84 19.13h0.75M306.49 43.63h0.75M303.45 30.95h0.75M315.65 43.56h0.75M313.51 39.16h0.75M314.42 76.06h0.75M313.65 60.12h0.75M312.77 53.35h0.75M320.82 38.37h0.75M332.78 63.19h0.75M324.33 71.21h0.75M312.63 59.68h0.75M318.22 60.45h0.75M313.81 21.04h0.75M310.22 79.49h0.75M313.65 29.4h0.75M331.73 68.75h0.75M320.35 58.64h0.75M326.82 43.05h0.75M314.69 43.03h0.75M314.63 30.93h0.75M308.57 38.16h0.75M331.28 20.4h0.75M316.67 38.81h0.75M313.59 43.29h0.75M313.9 56.43h0.75M315.25 53.44h0.75M314.7 69.58h0.75M324.75 28.47h0.75M307.62 26.64h0.75M330.25 43.27h0.75M322.34 80.66h0.75M309.22 79.24h0.75M316.73 76.5h0.75M332.96 48.81h0.75M315.12 59.04h0.75M311.65 71.97h0.75M308.65 58.55h0.75M322.83 71.33h0.75M308.51 54.12h0.75M310.47 43.87h0.75M326.93 30.69h0.75M315 50.2h0.75M321.74 71.25h0.75M315.87 56.76h0.75M333.56 75.95h0.75M308.86 64.31h0.75M317.81 28.99h0.75M318.54 18.26h0.75M313.44 69.95h0.75M328.34 77.84h0.75M316.05 37.43h0.75M320.78 45.3h0.75M313.61 37.42h0.75M310.03 55.02h0.75M327.88 42.17h0.75M311.86 71.13h0.75M325.36 74.97h0.75M303.16 56.58h0.75M322.67 70.18h0.75M314.28 46.29h0.75M321.4 27.77h0.75M306.61 55.21h0.75M307.96 55.93h0.75M322.8 73.99h0.75M323.36 40.67h0.75M328.58 51.06h0.75M322.39 30.21h0.75M313.59 77.19h0.75M312.6 28.33h0.75M313.66 57.62h0.75M314.5 18.95h0.75M320.8 70.53h0.75M307.99 55.79h0.75M310.92 53.44h0.75M331.54 56.38h0.75M325.71 61.91h0.75M310.94 76.86h0.75M321.87 63.44h0.75M306.66 20.78h0.75M304.59 78.17h0.75M324.18 43.35h0.75M311.84 50.06h0.75M304.37 80.42h0.75M311.7 56.06h0.75M325.39 67.51h0.75M316.92 17.47h0.75M314.17 25.03h0.75M314.44 26.79h0.75M313.57 58.19h0.75M315.2 20.81h0.75M316.06 59.75h0.75M322.37 77.2h0.75M315.46 65.7h0.75M304.53 20.3h0.75M320.71 30.44h0.75M319.42 36.41h0.75M304.8 55.96h0.75M303.85 68.25h0.75M313.89 78.31h0.75M303.07 80.56h0.75M317.09 73.95h0.75M311.85 58.24h0.75M313.95 20.87h0.75M320.33 28.95h0.75M305.42 37.1h0.75M328.8 22.81h0.75M319.15 55.1h0.75M319.73 72.29h0.75M316.08 35.55h0.75M305.38 34.43h0.75M312.14 53.21h0.75M320.89 73.12h0.75M318.16 48.3h0.75M309.26 77.3h0.75M318.1 63.85h0.75M305.4 34.2h0.75M328.03 78.61h0.75M326.05 54.29h0.75M303.68 21.72h0.75M325.78 49.86h0.75M305.61 73.41h0.75M322.49 32.42h0.75M335.68 38.49h0.75M311.88 37.62h0.75M309.55 61.46h0.75M321.47 23.53h0.75M308.91 60.74h0.75M315.34 46.77h0.75M312.45 46.79h0.75M310.93 69.78h0.75M321.73 49.78h0.75M317.72 58.86h0.75M308.01 51.75h0.75M321.22 41.32h0.75M328.5 22.58h0.75M318.62 39.47h0.75M304.6 59.76h0.75M311.47 79.76h0.75M320.49 50.16h0.75M318.36 43.14h0.75M313.29 78.4h0.75M313.13 53.65h0.75M320.25 50.53h0.75M308.19 36.43h0.75M337.2 51.4h0.75M305.19 75.33h0.75M314.59 59.52h0.75M303.3 34h0.75M335.12 76.66h0.75M310.11 18.14h0.75M305.72 65.1h0.75M329.81 71.91h0.75M318.84 24.93h0.75M314.1 72.19h0.75M327.41 70.39h0.75M303.07 36.78h0.75M305.58 50.73h0.75M306.19 46.1h0.75M306.87 50.67h0.75M314.78 43.79h0.75M311.82 48.67h0.75M326.73 66.39h0.75M307.19 32.13h0.75M313.32 30.42h0.75M315.5 18.06h0.75M326.4 42.13h0.75M324.43 67.67h0.75M321.67 66.44h0.75M311.24 55.25h0.75M326.08 25.13h0.75M312.7 63.98h0.75M306.74 45.14h0.75M305.95 27.42h0.75M311.47 22.22h0.75M303.93 49.71h0.75M307.27 40.03h0.75M313.32 58.8h0.75M313.16 71.7h0.75M316.48 63.09h0.75M323.55 65.34h0.75M317.29 76.62h0.75M322.63 20.77h0.75M316.47 70.29h0.75M319.01 23.21h0.75M315.59 32.59h0.75M309.98 54.6h0.75M323.03 65.11h0.75M343.83 57.51h0.75M315.01 64.56h0.75M315.08 61.87h0.75M310.52 62.83h0.75M326.24 80.99h0.75M310.5 72.36h0.75M304.18 54.46h0.75M324.38 78.02h0.75M325.67 38.79h0.75M322.39 37.32h0.75M317.3 54.45h0.75M303.45 40.84h0.75M323.07 39.37h0.75M303.5 45.01h0.75M320.71 21.4h0.75M324.76 75.26h0.75M309.13 55.69h0.75M306.97 69.25h0.75M319.85 69.7h0.75M329.38 40.6h0.75M319.87 78.09h0.75M316.37 72.72h0.75M319.95 18.1h0.75M309.38 79.27h0.75M318.09 49.96h0.75M313.81 18.29h0.75M319.35 67.1h0.75M315.79 74.86h0.75M310.97 50.58h0.75M303.11 20.94h0.75M319.79 77.12h0.75M312.72 60.26h0.75M314.24 26.64h0.75M306.2 30.37h0.75M309.33 67.37h0.75M316.84 27.6h0.75M312.72 65.43h0.75M310.3 27.26h0.75M321.62 54.09h0.75M306.28 35.24h0.75M318.12 49.66h0.75M306.9 49.61h0.75M336.11 56.04h0.75M304.12 58.91h0.75M327.99 73.94h0.75M310.78 43.1h0.75M312.14 22.52h0.75M304.2 40.81h0.75M313.78 53.48h0.75M314.21 75.41h0.75M322.33 30.63h0.75M308.88 66.25h0.75M314.27 78.1h0.75M310.49 28.53h0.75M315.82 33.79h0.75M304.4 31.71h0.75M330.4 65.67h0.75M320.56 57.36h0.75M315.02 71.35h0.75M319.47 47.76h0.75M313.48 52.41h0.75M306.96 43.4h0.75M319.56 40.35h0.75M334.34 42.09h0.75M309.75 66.3h0.75M311.25 46.59h0.75M311.65 38.21h0.75M310.02 60.08h0.75M315.14 32.03h0.75M312.33 58.28h0.75M306.97 24.25h0.75M309.71 22.32h0.75M324.01 55.8h0.75M322.19 35.85h0.75M308.16 52.34h0.75M304.85 47.39h0.75M312.59 41.54h0.75M308.74 25.67h0.75M313.78 29.05h0.75M319.39 35.55h0.75M307.2 71.65h0.75M314.34 30.24h0.75M320.64 79.77h0.75M316.36 62.12h0.75M323.03 54.17h0.75M309.3 35.74h0.75M324.29 35.57h0.75M316.13 44.69h0.75M319.34 24.35h0.75M306.57 27.54h0.75M309.68 68.26h0.75M322.36 48.07h0.75M307.48 32.7h0.75M304.11 68.63h0.75M309.12 67.98h0.75M316.13 62.04h0.75M306.18 79.39h0.75M331.48 70.81h0.75M314.6 56.05h0.75M315.06 17.82h0.75M326.29 75h0.75M314.05 64.4h0.75M305.12 20.92h0.75M315.56 64.79h0.75M311.79 30.4h0.75M326.32 46.08h0.75M303.66 26.57h0.75M307.11 76.1h0.75M333.27 30.4h0.75M308.95 45.56h0.75M310.37 54.85h0.75M313.46 44.74h0.75M306.56 42.6h0.75M311.1 31.05h0.75M310.87 64.98h0.75M331.32 70.12h0.75M320.06 66.34h0.75M315.85 53h0.75M311.3 79.36h0.75M333.91 69.55h0.75M313.32 79.17h0.75M321.17 80.16h0.75M310.51 23.76h0.75M320.88 70.13h0.75M327.54 50.88h0.75M320.05 58.08h0.75M308.09 58.84h0.75M334.63 30.32h0.75M305.97 26.46h0.75M315.76 60.26h0.75M330.04 79.82h0.75M320.5 29.46h0.75M314.76 39.3h0.75M317.98 76.62h0.75M314.17 48.49h0.75M324.07 48.01h0.75M307.37 63.29h0.75M304.07 72.75h0.75M321.53 66.6h0.75M315.42 58.55h0.75M307.95 28.31h0.75M310.32 18.17h0.75M305.77 28.19h0.75M311.92 36.09h0.75M331.17 37.03h0.75M308.91 37.92h0.75M328.14 68.89h0.75M323.5 69.52h0.75M311.4 59.02h0.75M321.68 19.07h0.75M317.03 52.8h0.75M327.56 55.37h0.75M321.2 49.07h0.75M306.81 20.96h0.75M308.38 50.96h0.75M320.45 59.01h0.75M315.53 31.54h0.75M311.99 39.18h0.75M318.18 32.45h0.75M304.66 48.44h0.75M304.18 63.75h0.75M313.42 37.34h0.75M310.14 49.72h0.75M318.59 61.36h0.75M304.61 24.5h0.75M318.97 51.49h0.75M324.27 29.31h0.75M331.35 74.87h0.75M332.52 79.93h0.75M304.53 27.22h0.75M327.95 60.05h0.75M319.72 55.41h0.75M310 47.44h0.75M313.18 34.05h0.75M316.13 19.3h0.75M317.11 46.67h0.75M307.66 59.55h0.75M307.23 50.6h0.75M320.09 35.14h0.75M304.65 76.48h0.75M318.68 37.42h0.75M312.42 47.14h0.75M324.67 20.66h0.75M310.66 19.86h0.75M324.08 67.64h0.75M319.16 58.56h0.75M324.75 63.55h0.75M312.95 29.23h0.75M314.23 47.38h0.75M313.25 57.57h0.75M318.27 48.96h0.75M317.4 52.62h0.75M316.13 43.73h0.75M314.85 46.31h0.75M329.55 38.82h0.75M316.24 43.57h0.75M309.71 54.62h0.75M310.51 31.97h0.75M317.64 64.9h0.75M306.44 26.77h0.75M315.33 75.87h0.75M321.68 41.11h0.75M322.93 61.28h0.75M321.87 25.13h0.75M308.8 22.53h0.75M310.97 46.8h0.75M333.61 59.26h0.75M316.44 40.05h0.75M309.62 50.12h0.75M324.8 48.63h0.75M319.78 62.95h0.75M334.6 60.3h0.75M306.26 69.04h0.75M314.98 69.86h0.75M318.28 58.94h0.75M313.23 63.82h0.75M315.98 19.81h0.75M322.52 70.4h0.75M307.98 49.32h0.75M327.37 37.87h0.75M342.84 28.38h0.75M308.34 54.83h0.75M313.4 18.18h0.75M334.55 59.11h0.75M316.05 41.35h0.75M324.61 67.89h0.75M332.23 51.09h0.75M304.22 40.16h0.75M318.19 58.34h0.75M308.66 80.6h0.75M311.46 56.09h0.75M311.79 63.66h0.75M318.55 78.39h0.75M309.47 43.13h0.75M317.33 28.5h0.75M306.35 45.96h0.75M316.41 67.73h0.75M312.13 70.49h0.75M312.8 36.73h0.75M337.53 31.61h0.75M328.44 71.15h0.75M317.34 46.46h0.75M305.34 76.19h0.75M327.46 50.89h0.75M309.7 72.85h0.75M314.49 35.88h0.75M310.35 46.97h0.75M310.49 37.27h0.75M318.12 66.07h0.75M307 60.55h0.75M317.18 78.59h0.75M323.64 25.38h0.75M308.71 41.74h0.75M317.36 75.09h0.75M318.2 69.31h0.75M316.75 71.16h0.75M313.22 62.93h0.75M316.86 25.49h0.75M317.48 22.86h0.75M311.84 66.56h0.75M310.76 65.39h0.75M309 68.23h0.75M306.3 72.75h0.75M311.69 73.1h0.75M306.3 40.14h0.75M312.76 65.1h0.75M314.05 26.14h0.75M308.73 43.85h0.75M317.82 17.62h0.75M323.69 80.1h0.75M316.16 58.97h0.75M311.3 54h0.75M326.84 74.23h0.75M326.33 31.8h0.75M318.4 38.63h0.75M320.59 76.37h0.75M319.57 38.08h0.75M307.95 42.27h0.75M317.64 27.4h0.75M314.37 70.87h0.75M309.88 74.13h0.75M326.06 74.48h0.75M328.54 30.34h0.75M303.95 66.27h0.75M320.25 67.64h0.75M312.64 69.25h0.75M314.22 69.2h0.75M326.44 49.78h0.75M304.03 77.39h0.75M315.03 45.09h0.75M309.71 59.29h0.75M325.71 64.65h0.75M311.26 51.07h0.75M315.93 58.79h0.75M309.02 29.41h0.75M307.89 72.83h0.75M310.55 78.22h0.75M314.96 48.56h0.75M316.51 63.52h0.75M334.08 34.59h0.75M321.9 59.23h0.75M306.57 18.52h0.75M306.26 53.02h0.75M317.32 31.66h0.75M305.3 23.34h0.75M319.89 57.62h0.75M307.1 40.68h0.75M308.66 65.89h0.75M324.73 66.29h0.75M312.96 27.09h0.75M312.19 50.17h0.75M311.77 34.16h0.75M322.33 78.38h0.75M314.73 76.77h0.75M312.46 30.1h0.75M318.36 34.27h0.75M313.08 50.71h0.75M310.35 77.24h0.75M316.81 43.71h0.75M315.6 38.06h0.75M310.07 64.3h0.75M315.65 73.7h0.75M303.26 54.58h0.75M305.42 73.9h0.75M313.5 58.47h0.75M303.31 49.14h0.75M308.35 75.45h0.75M309.53 51.56h0.75M303.48 44.72h0.75M328.35 79.98h0.75M308.89 63.2h0.75M314.35 33.14h0.75M325.42 51.56h0.75M305.24 56.87h0.75M309.38 55.05h0.75M316.76 71.29h0.75M335.41 69.31h0.75M303.11 67.41h0.75M310.13 53.21h0.75M317.26 23.15h0.75M317.16 25.25h0.75M320.72 70.76h0.75M307.61 44.88h0.75M314.45 18.28h0.75M330.34 78.51h0.75M309.72 64.78h0.75M320.6 56.19h0.75M320.69 32.3h0.75M311.68 18.79h0.75M305.8 77.54h0.75M316.73 78.18h0.75M314.75 29.4h0.75M312.16 71.5h0.75M327.84 39.55h0.75M306.17 18.86h0.75M322.29 52.62h0.75M320.87 76.1h0.75M322.01 57.27h0.75M304.7 35.95h0.75M307.84 31.66h0.75M322.17 61.04h0.75M308.27 63.97h0.75M316.02 71.71h0.75M318.67 32.98h0.75M322.26 31.79h0.75M305.39 65.82h0.75M311.33 66.71h0.75M316.39 24h0.75M322.94 46.88h0.75M309.67 56.34h0.75M325.58 20.09h0.75M308.18 43.58h0.75M308.43 76.64h0.75M315.07 79.52h0.75M313.6 70.33h0.75M310.44 57.6h0.75M303.13 76.1h0.75M320.51 53.74h0.75M315.94 48.19h0.75M330.74 32.51h0.75M313.03 26.07h0.75M316.25 38.29h0.75M325.59 32.41h0.75M325.92 54.96h0.75M312.85 40.56h0.75M312.3 45.97h0.75M314 72.17h0.75M310.53 72.79h0.75M314.16 52.39h0.75M307.01 61.66h0.75M317.67 78.88h0.75M314.76 43.52h0.75M309.1 62.78h0.75M316.43 58.72h0.75M316.5 71.11h0.75M306.36 43.8h0.75M311.13 31.12h0.75M319.15 79.14h0.75M314.73 66.01h0.75M311.16 57.16h0.75M319.94 67.05h0.75M317.23 56.77h0.75M305.82 54.46h0.75M306.85 76.98h0.75M316.35 78.8h0.75M308.69 52.13h0.75M316.83 80.45h0.75M332.59 47.21h0.75M303.23 50.48h0.75M306.74 27.5h0.75M305.87 27.78h0.75M315.18 75.12h0.75M321.67 28.64h0.75M307.98 23.09h0.75M313.05 74.06h0.75M328.31 41.02h0.75" stroke="#000" stroke-opacity="0.4" stroke-width="0.75" fill="none"/>
<path d="M270.8 6H356.5V91.2" fill="none" stroke="#4a4a4a" stroke-width="0.85"/>
<path d="M270.8 5.6V91.2H356.9" fill="none" stroke="#111" stroke-width="1.05"/>
<rect x="281.9" y="16.4" width="69.5" height="65.2" fill="none" stroke="#686868" stroke-width="0.9"/>
<path d="M303.5 16.4L303.5 81.6" stroke="#444" stroke-width="0.85" fill="none"/>
<text x="267.2" y="12.2" font-size="5.2" text-anchor="end" fill="#2c2c2c" stroke="#383838" stroke-width="0.15">250K</text>
<text x="267.2" y="28.3" font-size="5.2" text-anchor="end" fill="#2c2c2c" stroke="#383838" stroke-width="0.15">200K</text>
<text x="267.2" y="44.5" font-size="5.2" text-anchor="end" fill="#2c2c2c" stroke="#383838" stroke-width="0.15">150K</text>
<text x="267.2" y="60.6" font-size="5.2" text-anchor="end" fill="#2c2c2c" stroke="#383838" stroke-width="0.15">100K</text>
<text x="267.2" y="76.8" font-size="5.2" text-anchor="end" fill="#2c2c2c" stroke="#383838" stroke-width="0.15">50K</text>
<path d="M270.8 10.3h-2.4M270.8 26.4h-2.4M270.8 42.6h-2.4M270.8 58.7h-2.4M270.8 74.9h-2.4M270.8 10.3h-1.2M270.8 13.53h-1.2M270.8 16.76h-1.2M270.8 19.99h-1.2M270.8 23.22h-1.2M270.8 26.45h-1.2M270.8 29.68h-1.2M270.8 32.91h-1.2M270.8 36.14h-1.2M270.8 39.37h-1.2M270.8 42.6h-1.2M270.8 45.83h-1.2M270.8 49.06h-1.2M270.8 52.29h-1.2M270.8 55.52h-1.2M270.8 58.75h-1.2M270.8 61.98h-1.2M270.8 65.21h-1.2M270.8 68.44h-1.2M270.8 71.67h-1.2M270.8 74.9h-1.2M270.8 78.13h-1.2M270.8 81.36h-1.2M270.8 84.59h-1.2M270.8 87.82h-1.2" stroke="#222" stroke-width="0.7" fill="none"/>
<text x="249.2" y="48.8" font-size="5.7" font-weight="bold" text-anchor="middle" fill="#111" textLength="11.3" lengthAdjust="spacingAndGlyphs" transform="rotate(-90 249.2 48.8)">FSC</text>
<path d="M308.16 91.2v1.2M312 91.2v1.2M314.72 91.2v1.2M316.84 91.2v1.2M318.56 91.2v1.2M320.02 91.2v1.2M321.29 91.2v1.2M322.4 91.2v1.2M329.78 91.2v1.2M333.51 91.2v1.2M336.16 91.2v1.2M338.22 91.2v1.2M339.9 91.2v1.2M341.32 91.2v1.2M342.55 91.2v1.2M343.63 91.2v1.2M301.6 91.2v2.2M323.4 91.2v2.2M344.6 91.2v2.2" stroke="#222" stroke-width="0.7" fill="none"/>
<path d="M277.5 91.9h1.2v2h-1.2zM279.6 91.9h0.9v1.6h-0.9zM281.4 91.9h0.8v1.3h-0.8z" fill="#111"/>
<text x="279.7" y="104" font-size="5.2" text-anchor="middle" fill="#2c2c2c">0</text>
<text x="298.6" y="106.6" font-size="4.5" fill="#2c2c2c" stroke="#2c2c2c" stroke-width="0.15">10</text>
<text x="304.14" y="103.6" font-size="4.6" fill="#2c2c2c" stroke="#2c2c2c" stroke-width="0.15">3</text>
<text x="320" y="106.6" font-size="4.5" fill="#2c2c2c" stroke="#2c2c2c" stroke-width="0.15">10</text>
<text x="325.54" y="103.6" font-size="4.6" fill="#2c2c2c" stroke="#2c2c2c" stroke-width="0.15">4</text>
<text x="340.4" y="106.6" font-size="4.5" fill="#2c2c2c" stroke="#2c2c2c" stroke-width="0.15">10</text>
<text x="345.94" y="103.6" font-size="4.6" fill="#2c2c2c" stroke="#2c2c2c" stroke-width="0.15">5</text>
<text x="313.8" y="121.1" font-size="5.9" font-weight="bold" text-anchor="middle" textLength="9.6" lengthAdjust="spacingAndGlyphs">IgM</text>
<text x="318.6" y="131.6" font-size="5.8" font-weight="bold" text-anchor="middle" textLength="51.2" lengthAdjust="spacingAndGlyphs">CD19+CD27+IgM+</text>
<path d="M432.25 38.31h0.75M442.12 33.19h0.75M435.51 46.54h0.75M430.57 39.73h0.75M433.58 35.55h0.75M422.92 43.56h0.75M427.64 40.99h0.75M433.91 38.55h0.75M427.68 39.06h0.75M427.98 47.69h0.75M439.3 25.97h0.75M427.29 44.98h0.75M425.14 56.11h0.75M426.42 40.66h0.75M430.8 42.44h0.75M434.47 35.46h0.75M421.94 43h0.75M434.24 38.05h0.75M422.41 50.05h0.75M422.93 57.56h0.75M417.61 58.21h0.75M438.03 26.28h0.75M435.77 32.9h0.75M437.41 43.66h0.75M432.91 38.92h0.75M423.42 58.33h0.75M425.59 59.89h0.75M422.17 58.94h0.75M433.52 40.79h0.75M427.43 45.6h0.75M421.92 50.85h0.75M439.91 25.56h0.75M439.56 38.29h0.75M425.77 52.1h0.75M437.19 45.07h0.75M428.43 48.59h0.75M423.27 52.57h0.75M425.76 53.68h0.75M435.25 44.01h0.75M423.69 47.46h0.75M431.93 41.56h0.75M434.5 42.98h0.75M425.84 57.7h0.75M427.44 46.38h0.75M429.97 35.74h0.75M429.37 47.68h0.75M433.63 42.59h0.75M424.82 37.73h0.75M438.51 46.63h0.75M436.05 39.48h0.75M432.08 43.55h0.75M426.38 44.38h0.75M420.69 57.86h0.75M434.41 35.71h0.75M433.63 41.53h0.75M436.88 43.56h0.75M443.78 32.82h0.75M429.75 42.14h0.75M424 38.74h0.75M425.14 54.04h0.75M424.6 57.23h0.75M429.65 48.55h0.75M424.75 42.84h0.75M423.36 53.08h0.75M441.94 35.56h0.75M425.44 42.09h0.75M426.12 45.05h0.75M427.26 43.27h0.75M434.18 39.44h0.75M425.85 44.76h0.75M429.18 43h0.75M434.08 51.95h0.75M427.65 45.19h0.75M441.5 35.57h0.75M426.99 41.93h0.75M422.62 57.81h0.75M434.7 46.64h0.75M439.49 43.7h0.75M432.15 42.1h0.75M439.2 30.29h0.75M429.65 42.06h0.75M436.26 31.35h0.75M437.54 23.32h0.75M425.04 39.06h0.75M437.94 37.61h0.75M432.23 43.38h0.75M425.43 49.13h0.75M423.45 52.43h0.75M428.63 43h0.75M439.4 48.9h0.75M436.95 36.46h0.75M443.08 43.22h0.75M433.06 41.26h0.75M425.6 51.92h0.75M433.09 41.66h0.75M422.91 49.11h0.75M435.38 47.52h0.75M436.34 39h0.75M444.46 28.97h0.75M428.15 49.14h0.75M429.43 50.77h0.75M430.66 49.13h0.75M436.29 52.61h0.75M433.7 36.12h0.75M426.11 58.01h0.75M445.15 34.64h0.75M430.12 34.14h0.75M432.84 37.92h0.75M426.92 47.56h0.75M437.27 33.91h0.75M432.66 46.29h0.75M436.67 39.61h0.75M433.21 38.63h0.75M435.1 28.66h0.75M439.27 33.25h0.75M432.01 40.86h0.75M422.38 49.49h0.75M430.44 46.25h0.75M423.97 46h0.75M424.16 47.13h0.75M438.11 32.55h0.75M443.84 29.58h0.75M435 27.29h0.75M436.87 45.33h0.75M426.41 41.52h0.75M436.15 37.15h0.75M420.81 54.95h0.75M422.3 56.95h0.75M430.46 43.63h0.75M439.23 26.65h0.75M430.16 45.58h0.75M436.58 34.42h0.75M435.51 34.38h0.75M437.56 40.38h0.75M434.1 43.39h0.75M432.73 44.88h0.75M423.54 35.93h0.75M430.79 42.04h0.75M431.94 51.45h0.75M423.55 49.31h0.75M433.2 35.45h0.75M428.32 49h0.75M441.74 35.02h0.75M444.45 22.4h0.75M427.65 46.62h0.75M432.45 45.08h0.75M424.37 46.13h0.75M432.15 47.04h0.75M438.04 53.27h0.75M427.76 51.65h0.75M440.22 40.37h0.75M431.58 46.74h0.75M436.37 41.31h0.75M445.48 25.36h0.75M432.77 45.22h0.75M424.59 52.31h0.75M436.21 33.09h0.75M439.19 36.76h0.75M425.02 56.13h0.75M442.42 37.89h0.75M424.76 56.69h0.75M432.32 32.78h0.75M427.39 59.04h0.75M433.55 41.89h0.75M431.65 41.16h0.75M425.67 55.77h0.75M440.12 37.19h0.75M432.58 32.26h0.75M434.3 39.1h0.75M428.85 45.54h0.75M436.88 45.46h0.75M437.63 43.99h0.75M437.88 34.85h0.75M437.1 36.9h0.75M433.13 30.12h0.75M426.78 47.85h0.75M432.84 44.95h0.75M427.62 46.05h0.75M426.75 46.61h0.75M434.65 39.56h0.75M434.71 46.15h0.75M421.42 37.42h0.75M429.49 38.16h0.75M438.51 40.02h0.75M423.27 56.06h0.75M434.09 44.37h0.75M442.25 23.67h0.75M436.7 37.08h0.75M431.58 30.33h0.75M439.1 25.76h0.75M423.8 39.39h0.75M439.44 26.88h0.75M418.64 52.98h0.75M438.42 43.46h0.75M430.24 45.16h0.75M440.24 34.36h0.75M423.64 44.32h0.75M434.16 44.64h0.75M427.62 49.83h0.75M424.26 48.22h0.75M434.58 39.78h0.75M427.66 49.51h0.75M438.68 35.46h0.75M430.35 55.12h0.75M428.75 43.2h0.75M433.6 40.28h0.75M419.71 57.73h0.75M433.09 36.71h0.75M427.23 37.49h0.75M423.88 44.1h0.75M429.49 45.07h0.75M435.6 55.3h0.75M427.91 41.51h0.75M437.37 40.84h0.75M419.21 53.14h0.75M423.82 44.79h0.75M432.53 38.03h0.75M435.44 41.61h0.75M424.34 51.36h0.75M424.9 40.11h0.75M425.27 45.78h0.75M428.96 45.43h0.75M422.32 54.05h0.75M435.57 44.92h0.75M430.38 43.16h0.75M432.85 40.09h0.75M430.33 49.54h0.75M427.39 53.43h0.75M436.72 36.69h0.75M426.64 43.08h0.75M440.92 39.52h0.75M425.61 25.68h0.75M434.03 44.32h0.75M438.84 40.7h0.75M449.96 28.96h0.75M430.93 46.48h0.75M437.13 38.51h0.75M433.78 48.63h0.75M439.89 36.92h0.75M436.64 37.36h0.75M426.32 53.38h0.75M439.43 36.59h0.75M419.18 40.16h0.75M437.79 36.43h0.75M433.15 41.94h0.75M422.26 55.33h0.75M429.61 48.54h0.75M431.37 43.88h0.75M438.63 34.38h0.75M427.73 47.71h0.75M436.12 27.34h0.75M433.43 50.52h0.75M435.04 28.22h0.75M428.95 36.53h0.75M432.88 39.41h0.75M431.19 35.12h0.75M419.59 46.85h0.75M424.14 49.89h0.75M429.36 45.95h0.75M436.21 34.27h0.75M437.14 40.29h0.75M430.18 39.92h0.75M429.06 45.73h0.75M435.15 46.16h0.75M429.6 40.1h0.75M434.23 43.92h0.75M437.27 41.06h0.75M429.55 44.99h0.75M428.59 46.01h0.75M435.08 46.92h0.75M425.33 47.21h0.75M428.03 53.03h0.75M436.15 35.41h0.75M426.65 51.83h0.75M429.69 45.99h0.75M429.6 46.34h0.75M438.04 34h0.75M430.05 42.76h0.75M428.73 55.57h0.75M429.42 53.45h0.75M442.59 29.86h0.75M437.08 24.54h0.75M423.94 51.01h0.75M420.55 41.81h0.75M429.52 37.04h0.75M433.14 49.84h0.75M427.58 50.72h0.75M436.23 34.52h0.75M434.13 29.34h0.75M434.27 53.53h0.75M428.64 48.56h0.75M437.74 27.09h0.75M438.52 48.2h0.75M442.66 35.21h0.75M436.57 40.13h0.75M429.12 41.29h0.75M424.68 40.35h0.75M424.19 45.72h0.75M437.96 31.4h0.75M429.27 35.11h0.75M442.83 36.67h0.75M461.48 34.15h0.75M446.26 34.72h0.75M451.57 42.4h0.75M455.87 39.05h0.75M450.13 32.16h0.75M436.46 38.99h0.75M459.74 30.12h0.75M453.41 36.19h0.75M446.3 38.18h0.75M438.85 49.49h0.75M454.8 49.12h0.75M439.85 46.53h0.75M453.9 27.07h0.75M456.97 42.82h0.75M454.86 43.06h0.75M455.12 44.83h0.75M464.88 37.19h0.75M456.77 37.66h0.75M455.55 41.53h0.75M439.45 39.11h0.75M454.31 32.41h0.75M455.57 25.66h0.75M457.7 47.16h0.75M457.83 50.24h0.75M464.62 44.05h0.75M446.83 43h0.75M433.46 41.3h0.75M446.38 34.06h0.75M447.57 37.5h0.75M443.42 44.22h0.75M450.3 60.09h0.75M459.68 30.48h0.75M458.31 40.74h0.75M450.74 44.98h0.75M442.01 50.23h0.75M453.76 43.28h0.75M438.51 30h0.75M452.37 42.94h0.75M458.54 44.89h0.75M457.44 45.33h0.75M441.23 56.25h0.75M454.14 27.62h0.75M452.92 39.07h0.75M459.41 24.51h0.75M462.76 45.8h0.75M455.39 45.42h0.75M447.07 49.66h0.75M465.09 48.75h0.75M458.78 45.93h0.75M457.41 39.66h0.75M448.11 44.43h0.75M463.11 41.79h0.75M459.49 41.61h0.75M463.32 48.72h0.75M461.52 29.15h0.75M449.11 41.29h0.75M447.75 46.45h0.75M450.15 52h0.75M448.45 42.36h0.75M465.04 40.74h0.75M438.62 40.8h0.75M455.34 27.43h0.75M445.47 47.82h0.75M455.65 40.11h0.75M459.85 53.21h0.75M448.18 50.99h0.75M456.08 50.42h0.75M456.79 43.27h0.75M450.05 41.1h0.75M445.03 37.89h0.75M458.59 46.63h0.75M443.93 35.4h0.75M449.1 39.91h0.75M459.57 32.6h0.75M454.84 35.86h0.75M453.43 34.01h0.75M456.4 38.83h0.75M451.11 51.34h0.75M452.24 31.68h0.75M452.89 33.27h0.75M447.65 49.48h0.75M451.22 57.36h0.75M453.1 39.77h0.75M448.66 29.89h0.75M441.9 56.68h0.75M452.02 46.69h0.75M451.53 39.96h0.75M456.43 45.16h0.75M449.85 46.78h0.75M453.24 41.95h0.75M459.8 33.1h0.75M457.01 47h0.75M453.66 28.37h0.75M458.22 36.91h0.75M455.54 54.49h0.75M448.62 45.48h0.75M465.88 55.76h0.75M460.01 38.69h0.75M460.04 40.07h0.75M447.66 51.41h0.75M459.16 37.13h0.75M441.47 42.15h0.75M454.01 33.53h0.75M453.68 43.59h0.75M455.46 37.3h0.75M457.93 39.89h0.75M461.85 40.73h0.75M464.58 33.69h0.75M442.81 50.41h0.75M455.7 38.87h0.75M469.96 45.47h0.75M457.18 45.64h0.75M445.04 52.22h0.75M460.29 52.18h0.75M470.44 49.74h0.75M448.33 54.86h0.75M453.6 41.19h0.75M459.43 35.51h0.75M450.31 30.95h0.75M461.13 41.32h0.75M458.93 36.52h0.75M453.66 34.99h0.75M444.39 47.32h0.75M454.15 53.69h0.75M469.2 40.1h0.75M460.38 31.31h0.75M451.37 53.88h0.75M462.31 48.72h0.75M456.26 54.12h0.75M454.21 41.06h0.75M453.83 49.87h0.75M462.51 46.07h0.75M453.8 48.26h0.75M450.35 36.54h0.75M451.98 40.43h0.75M447.49 31.18h0.75M451.18 45.77h0.75M436.31 53.03h0.75M450.87 45.67h0.75M462.55 33.08h0.75M444.34 40.34h0.75M458.45 42.8h0.75M445.8 50.75h0.75M441.96 41.5h0.75M450.26 47.55h0.75M439.06 37.13h0.75M455.96 28.35h0.75M451.71 25.8h0.75M459.34 47.5h0.75M449.09 51.94h0.75M453.99 38.36h0.75M448.73 50.98h0.75M450.2 46.04h0.75M448.74 46.02h0.75M447.66 33.73h0.75M457.99 50.37h0.75M453.21 58.16h0.75M458.84 24.75h0.75M449.85 44.41h0.75M438.27 51.5h0.75M444.42 55.57h0.75M449.55 32.94h0.75M460.45 41.47h0.75M457.29 49.13h0.75M462.44 44.67h0.75M459.28 43.5h0.75M457.19 48.67h0.75M460.92 40.16h0.75M453.58 48.05h0.75M460.06 40.18h0.75M460.34 47.42h0.75M452.05 56.48h0.75M441.87 30.59h0.75M455.94 51.68h0.75M454.52 26.29h0.75M459.72 58.36h0.75M458.66 38.98h0.75M452.6 39.35h0.75M455.55 31.96h0.75M453.97 41.12h0.75M453.69 47h0.75M461.82 33.37h0.75M455.89 37.39h0.75M456 49.82h0.75M456.14 38.57h0.75M447.41 47.52h0.75M449.85 52.9h0.75M450.09 48.17h0.75M437.02 47.52h0.75M448.72 33.14h0.75M461.2 37.6h0.75M452.66 30.33h0.75M451.13 42.8h0.75M455.74 50.8h0.75M454.27 38.07h0.75M462.25 44.06h0.75M452.92 42.94h0.75M445.96 46.17h0.75M446.9 39.43h0.75M457.95 37.92h0.75M459.94 53.07h0.75M452.08 41.14h0.75M438.19 40h0.75M455.57 32.77h0.75M456.63 23.33h0.75M448.96 48.22h0.75M455.37 39.36h0.75M456.06 40.36h0.75M442.05 43.8h0.75M452.2 57.26h0.75M461.87 45.13h0.75M449.89 44.06h0.75M450.56 53.95h0.75M454.55 28.44h0.75M457.29 45.05h0.75M458.1 49.76h0.75M447.39 49.95h0.75M451.29 54.88h0.75M443.54 38.14h0.75M453.79 30.55h0.75M444.94 26.56h0.75M456.99 47.01h0.75M443.75 59.05h0.75M447.55 43.55h0.75M459.77 40.98h0.75M454.86 39.62h0.75M453.5 36.73h0.75M441.43 54.5h0.75M444.28 56.58h0.75M446.56 41.26h0.75M438.02 46.69h0.75M452.19 53.98h0.75M432.54 44.14h0.75M445.84 34.29h0.75M448.45 44.83h0.75M448.83 41.66h0.75M454.08 35.79h0.75M457.85 47.68h0.75M443.49 51.99h0.75M450.91 24.51h0.75M445.57 43.44h0.75M451.28 31.08h0.75M455.01 54.84h0.75M457.87 40.13h0.75M444.02 39.64h0.75M453.9 42.37h0.75M452.86 43.32h0.75M457.97 22.97h0.75M464.5 27.89h0.75M454.32 54.96h0.75M447.88 42.57h0.75M443.29 54.06h0.75M442.13 42.24h0.75M440.15 34.54h0.75M447.58 48.17h0.75M455.04 40.14h0.75M452.62 44.31h0.75M453.27 35.04h0.75M445.99 54.24h0.75M462.31 34.26h0.75M446.24 37.22h0.75M462.56 43h0.75M446.14 45.9h0.75M449.8 58.26h0.75M452.27 52.66h0.75M447.46 36.59h0.75M450.26 40.57h0.75M460.19 45.68h0.75M460.42 31.09h0.75M447.82 42.66h0.75M453.4 46.42h0.75M452.23 54.81h0.75M431.86 48.29h0.75M446.93 47.9h0.75M453.28 40.02h0.75M453.82 44.58h0.75M455.82 33.08h0.75M456.22 53.26h0.75M460.25 30.94h0.75M459.38 36.11h0.75M448.49 56.3h0.75M443.18 38.84h0.75M444.87 34.61h0.75M462.86 30.43h0.75M457.96 40.36h0.75M448.75 58.07h0.75M451.38 39.25h0.75M454.98 44.91h0.75M455.4 41.55h0.75M450.22 54.1h0.75M457.42 55.34h0.75M448.81 45.9h0.75M465.6 43.89h0.75M458.35 46.92h0.75M459.86 38.11h0.75M450.42 41.54h0.75M446.14 57.28h0.75M443.09 36.72h0.75M462.69 26.61h0.75M466.39 35.85h0.75M460.29 41.88h0.75M446.37 45.43h0.75M463.06 23.26h0.75M450.18 39.02h0.75M456.46 31.39h0.75M446.03 35.01h0.75M457.58 49.06h0.75M443.54 43.74h0.75M455.07 36.9h0.75M444.96 40.99h0.75M450.55 31.66h0.75M459.04 43.86h0.75M448.15 48.91h0.75M446.49 58.07h0.75M448.08 34.6h0.75M455.17 46.91h0.75M453.73 44.92h0.75M457.58 24.76h0.75M466.58 41.07h0.75M451.38 55.67h0.75M463.82 33.21h0.75M457.62 48.01h0.75M446.82 42.28h0.75M458.43 38.81h0.75M447.76 41.92h0.75M452.22 30.85h0.75M467.44 35.65h0.75M452.3 53.92h0.75M447.51 53.15h0.75M454.42 39.18h0.75M456.26 49.49h0.75M429.62 46.35h0.75M460.8 43.12h0.75M455.83 50.68h0.75M452.77 43.89h0.75M442.08 36.11h0.75M471.57 52.26h0.75M451.84 27.41h0.75M449.88 47.52h0.75M454.72 37.85h0.75M446.04 60.36h0.75M456.62 49.82h0.75M461.04 46.21h0.75M449.67 49.24h0.75M451.67 46.29h0.75M453.38 49.74h0.75M451.43 39.74h0.75M451.08 43.46h0.75M456.58 42.48h0.75M453.96 37.21h0.75M444.55 37.18h0.75M449.1 37.88h0.75M445.63 43.37h0.75M451.16 33.85h0.75M441.66 55.19h0.75M450.69 37.79h0.75M446.07 40.61h0.75M447.84 46.08h0.75M459.96 57.1h0.75M436.04 30.14h0.75M447.45 27.83h0.75M426.17 29.12h0.75M432.18 43.69h0.75M434.32 39.91h0.75M426.23 39.23h0.75M434.5 42.3h0.75M455.01 32.95h0.75M464.18 33.41h0.75M441.27 46.23h0.75M454.38 52.71h0.75M460.9 55.84h0.75M442.47 55.76h0.75M426.08 54.17h0.75M471.68 28.26h0.75M466.39 56.3h0.75M431.93 31.68h0.75M458.83 37.73h0.75M421.06 50h0.75M420.01 39.39h0.75M469.39 35.29h0.75M435.41 47.74h0.75M450.94 42.08h0.75M418.85 24.09h0.75M435.88 40.85h0.75M456.12 46.93h0.75M449.98 53.71h0.75M424.1 50.52h0.75M439.16 42.44h0.75M464.45 45.05h0.75M452.77 36.98h0.75M416.38 34.29h0.75M469.25 32.98h0.75M442.15 22.82h0.75M453.44 44.57h0.75M455.21 36.68h0.75M441.74 27.68h0.75M440.27 27.6h0.75M471.5 22.51h0.75M463.53 38.66h0.75M418.04 33.52h0.75M455.07 28.03h0.75M448.7 54.38h0.75M427.01 54.81h0.75M422.82 36.8h0.75M459.46 36.54h0.75M461.37 59.24h0.75M461.49 56.14h0.75M440.2 48.65h0.75M456.36 30.66h0.75M430.56 52.05h0.75M435.19 53.29h0.75M461.2 38.71h0.75M417.61 33.77h0.75M420.23 36.75h0.75M470.6 58.29h0.75M444.39 31.13h0.75M417.05 41.38h0.75M460.11 53.83h0.75M464.96 47.46h0.75M422.04 22.16h0.75M459.31 34.93h0.75M414.47 22.17h0.75M417.91 51.94h0.75M448.58 39.5h0.75M465.74 28.53h0.75M415.12 36.53h0.75M453.91 25.69h0.75M463.5 29.21h0.75M419.57 29.74h0.75M434.8 49.02h0.75M440.85 35.89h0.75M420.35 44.88h0.75M451.02 28.88h0.75M459.43 34.99h0.75M429.49 33.75h0.75M428.7 25.8h0.75M446.71 57.58h0.75M438.64 48.14h0.75M431.62 27.71h0.75M425.61 38.05h0.75M435.96 26.09h0.75M422.03 53.97h0.75M458.25 22.81h0.75M429.31 32.97h0.75M414.72 59.74h0.75M458.84 54.58h0.75M422.22 55.73h0.75M435.49 40.02h0.75M463.8 55.98h0.75" stroke="#000" stroke-opacity="0.38" stroke-width="0.75" fill="none"/>
<path d="M436.04 68.84h0.75M455.99 84.46h0.75M460.52 75.17h0.75M442.83 80.86h0.75M463.77 62.23h0.75M440.62 63.94h0.75M446.53 71.1h0.75M426.08 72.43h0.75M458.51 80.57h0.75M448.87 67.62h0.75M416.73 83.84h0.75M445.21 78.36h0.75M434.88 69.31h0.75M449.99 79.57h0.75M447.95 84.69h0.75M434.97 67.06h0.75M417.38 70.12h0.75M460.4 64.86h0.75M432.07 84.25h0.75M443.79 65.15h0.75M448.48 63.1h0.75M448.34 78.51h0.75M433.26 83.84h0.75M450.3 67.45h0.75M429.98 67.78h0.75M432.83 76.73h0.75M418.49 65.19h0.75M424.76 65.27h0.75M435.16 76.71h0.75M461.13 81.36h0.75M450.84 77.7h0.75M434.28 64.52h0.75M414.35 72.73h0.75M428.24 83.67h0.75M459.27 66.64h0.75M449.61 78.87h0.75M463.77 74.55h0.75M465.57 77.31h0.75M452.84 65.85h0.75M438.36 66.03h0.75M459.82 66.1h0.75M417.14 76.81h0.75M450.17 77.53h0.75M456.61 68.04h0.75M437.68 63.81h0.75M436.7 62.42h0.75M451.53 71.38h0.75M424.42 77.27h0.75M451.35 69.18h0.75M427.05 71.71h0.75M458.61 77.92h0.75M467.89 63.08h0.75M467.62 63.83h0.75M437.15 71.74h0.75M440.21 68.63h0.75M437.66 77.24h0.75M423.52 72.88h0.75M423.13 64.9h0.75M455.91 81.76h0.75M437.39 75.11h0.75M427.56 66.53h0.75M446.52 64.33h0.75M415.14 71.59h0.75M422.26 76.97h0.75M427.52 67.54h0.75M457.23 72.35h0.75M457.49 63.4h0.75M455.09 77.39h0.75M443.33 83.67h0.75M428.37 80.22h0.75M449.82 65.44h0.75M460.91 71.33h0.75M431.05 64.07h0.75M427.82 65.21h0.75M428.43 62.65h0.75M461.24 81.77h0.75M464.01 77.15h0.75M439.16 83.78h0.75M450.91 77.29h0.75M426.92 87.94h0.75M447.49 65.81h0.75M455.66 87.79h0.75M422.81 62.83h0.75M418.98 75.72h0.75M464.12 67.6h0.75M449.73 73.47h0.75M467.37 72.66h0.75M435.23 83.51h0.75M412.1 76.64h0.75M442.45 85.03h0.75M465.48 71.92h0.75M450.04 70.93h0.75M432.2 62.29h0.75M434.08 86.88h0.75M427.59 65.53h0.75M412.28 83.26h0.75M464.14 71.04h0.75M426.09 67.88h0.75M440.68 62.82h0.75M415.7 70.02h0.75M414.77 62.52h0.75M412.14 73.53h0.75M420.9 71.12h0.75M420.93 73.39h0.75M431.42 67.63h0.75M438.43 65.34h0.75M438.1 73.67h0.75M435.01 69.18h0.75M438.42 77.43h0.75M422.95 73.07h0.75M467.08 64.83h0.75M449.09 66.64h0.75M430.06 70.13h0.75M465.78 83.68h0.75M414.86 75.69h0.75M429.35 69.19h0.75M434.43 67.98h0.75M439.14 63.28h0.75M444.69 63.44h0.75M463.69 63.76h0.75M454.95 66.17h0.75M449.18 74.27h0.75M429.2 66.08h0.75M440.51 81.15h0.75M423.36 84.74h0.75M449.36 63.16h0.75M419.5 66.19h0.75M426.39 64.27h0.75M425.84 74.3h0.75M422.6 85.09h0.75M425.69 81.01h0.75M427.15 71.62h0.75M461.82 69.63h0.75M415.84 65.48h0.75M413.04 72.3h0.75M464.8 75.31h0.75M467.02 66.28h0.75M452.63 76.3h0.75M418.14 62.27h0.75M441.53 65.89h0.75M414.23 62.47h0.75M428.39 81.03h0.75M451.62 63.34h0.75M422.19 74.42h0.75M422.35 87.63h0.75M415.57 68.13h0.75M417.96 68.76h0.75M465.4 66.27h0.75M463.28 74.36h0.75M464.06 65.49h0.75" stroke="#000" stroke-opacity="0.16" stroke-width="0.75" fill="none"/>
<path d="M390.8 5.8H476.9V91.4" fill="none" stroke="#4a4a4a" stroke-width="0.85"/>
<path d="M390.8 5.4V91.4H477.3" fill="none" stroke="#111" stroke-width="1.05"/>
<rect x="413.8" y="15.1" width="59" height="46.1" fill="none" stroke="#686868" stroke-width="0.9"/>
<path d="M441.5 15.1L441.5 61.2" stroke="#444" stroke-width="0.85" fill="none"/>
<path d="M428.62 91.4v1.2M432.5 91.4v1.2M435.25 91.4v1.2M437.38 91.4v1.2M439.12 91.4v1.2M440.59 91.4v1.2M441.87 91.4v1.2M442.99 91.4v1.2M450.38 91.4v1.2M454.11 91.4v1.2M456.76 91.4v1.2M458.82 91.4v1.2M460.5 91.4v1.2M461.92 91.4v1.2M463.15 91.4v1.2M464.23 91.4v1.2M422 91.4v2.2M444 91.4v2.2M465.2 91.4v2.2" stroke="#222" stroke-width="0.7" fill="none"/>
<path d="M390.8 21.96h-1.2M390.8 25.8h-1.2M390.8 28.52h-1.2M390.8 30.64h-1.2M390.8 32.36h-1.2M390.8 33.82h-1.2M390.8 35.09h-1.2M390.8 36.2h-1.2M390.8 43.88h-1.2M390.8 47.79h-1.2M390.8 50.57h-1.2M390.8 52.72h-1.2M390.8 54.47h-1.2M390.8 55.96h-1.2M390.8 57.25h-1.2M390.8 58.38h-1.2M390.8 15.4h-2.2M390.8 37.2h-2.2M390.8 59.4h-2.2" stroke="#222" stroke-width="0.7" fill="none"/>
<path d="M397.5 92.1h1.2v2h-1.2zM399.6 92.1h0.9v1.6h-0.9zM401.4 92.1h0.8v1.3h-0.8z" fill="#111"/>
<path d="M388.4 80.2h2v1.1h-2zM388.8 82.2h1.6v.9h-1.6zM389.2 84h1.2v.8h-1.2z" fill="#111"/>
<text x="400.3" y="104" font-size="5.2" text-anchor="middle" fill="#2c2c2c">0</text>
<text x="419.2" y="106.6" font-size="4.5" fill="#2c2c2c" stroke="#2c2c2c" stroke-width="0.15">10</text>
<text x="424.74" y="103.6" font-size="4.6" fill="#2c2c2c" stroke="#2c2c2c" stroke-width="0.15">3</text>
<text x="440.8" y="106.6" font-size="4.5" fill="#2c2c2c" stroke="#2c2c2c" stroke-width="0.15">10</text>
<text x="446.34" y="103.6" font-size="4.6" fill="#2c2c2c" stroke="#2c2c2c" stroke-width="0.15">4</text>
<text x="461.2" y="106.6" font-size="4.5" fill="#2c2c2c" stroke="#2c2c2c" stroke-width="0.15">10</text>
<text x="466.74" y="103.6" font-size="4.6" fill="#2c2c2c" stroke="#2c2c2c" stroke-width="0.15">5</text>
<text x="385.8" y="84.2" font-size="5.2" text-anchor="end" fill="#2c2c2c">0</text>
<text x="379.5" y="18.2" font-size="4.5" fill="#2c2c2c" stroke="#2c2c2c" stroke-width="0.15">10</text>
<text x="385.04" y="15.2" font-size="4.6" fill="#2c2c2c" stroke="#2c2c2c" stroke-width="0.15">5</text>
<text x="379.5" y="39.8" font-size="4.5" fill="#2c2c2c" stroke="#2c2c2c" stroke-width="0.15">10</text>
<text x="385.04" y="36.8" font-size="4.6" fill="#2c2c2c" stroke="#2c2c2c" stroke-width="0.15">4</text>
<text x="379.5" y="63.4" font-size="4.5" fill="#2c2c2c" stroke="#2c2c2c" stroke-width="0.15">10</text>
<text x="385.04" y="60.4" font-size="4.6" fill="#2c2c2c" stroke="#2c2c2c" stroke-width="0.15">3</text>
<text x="373.6" y="48" font-size="5.7" font-weight="bold" text-anchor="middle" fill="#111" textLength="14.4" lengthAdjust="spacingAndGlyphs" transform="rotate(-90 373.6 48)">CD1c</text>
<text x="433.8" y="120.9" font-size="5.9" font-weight="bold" text-anchor="middle" textLength="15" lengthAdjust="spacingAndGlyphs">CD21</text>
<text x="437.9" y="131" font-size="5.9" text-anchor="middle" textLength="105.3" lengthAdjust="spacingAndGlyphs" stroke="#000" stroke-width="0.3">Marginal zone B cells: CD1c+CD21high</text>
<text x="438.3" y="138.9" font-size="5.9" text-anchor="middle" textLength="160" lengthAdjust="spacingAndGlyphs" stroke="#000" stroke-width="0.3">Precursors/activated marginal zone B cells: CD1c+CD21low</text>
<text x="1" y="10" font-size="12" font-weight="bold">A</text>
<text x="1" y="202.2" font-size="12" font-weight="bold">B</text>
<text x="1" y="347.2" font-size="12" font-weight="bold">C</text>
<path d="M50.5 206.4L50.5 214.3" stroke="#000" stroke-width="1" fill="none"/>
<path d="M50.5 220.2L50.5 289.5" stroke="#000" stroke-width="1" fill="none"/>
<path d="M47.3 206.5L50.8 206.5" stroke="#000" stroke-width="1" fill="none"/>
<text x="46.8" y="208.55" font-size="5.8" text-anchor="end" stroke="#000" stroke-width="0.3">70</text>
<path d="M47.3 214.5L50.8 214.5" stroke="#000" stroke-width="1" fill="none"/>
<text x="46.8" y="216.15" font-size="5.8" text-anchor="end" stroke="#000" stroke-width="0.3">60</text>
<path d="M47.3 220.5L50.8 220.5" stroke="#000" stroke-width="1" fill="none"/>
<text x="46.8" y="222.45" font-size="5.8" text-anchor="end" stroke="#000" stroke-width="0.3">40</text>
<path d="M47.3 237.5L50.8 237.5" stroke="#000" stroke-width="1" fill="none"/>
<text x="46.8" y="239.65" font-size="5.8" text-anchor="end" stroke="#000" stroke-width="0.3">30</text>
<path d="M47.3 254.5L50.8 254.5" stroke="#000" stroke-width="1" fill="none"/>
<text x="46.8" y="256.85" font-size="5.8" text-anchor="end" stroke="#000" stroke-width="0.3">20</text>
<path d="M47.3 272.5L50.8 272.5" stroke="#000" stroke-width="1" fill="none"/>
<text x="46.8" y="274.05" font-size="5.8" text-anchor="end" stroke="#000" stroke-width="0.3">10</text>
<path d="M47.3 289.5L50.8 289.5" stroke="#000" stroke-width="1" fill="none"/>
<text x="46.8" y="291.55" font-size="5.8" text-anchor="end" stroke="#000" stroke-width="0.3">0</text>
<path d="M49.8 289.5L174.2 289.5" stroke="#000" stroke-width="1" fill="none"/>
<path d="M62.5 289.5L62.5 292.5" stroke="#000" stroke-width="1" fill="none"/>
<path d="M87.5 289.5L87.5 292.5" stroke="#000" stroke-width="1" fill="none"/>
<path d="M111.5 289.5L111.5 292.5" stroke="#000" stroke-width="1" fill="none"/>
<path d="M136.5 289.5L136.5 292.5" stroke="#000" stroke-width="1" fill="none"/>
<path d="M161.5 289.5L161.5 292.5" stroke="#000" stroke-width="1" fill="none"/>
<text x="106" y="187.4" font-size="7.7" font-weight="bold" text-anchor="middle" textLength="70.4" lengthAdjust="spacingAndGlyphs">Rapid progressors</text>
<text x="27.1" y="249" font-size="6.5" font-weight="bold" text-anchor="middle" textLength="66.1" lengthAdjust="spacingAndGlyphs" transform="rotate(-90 27.1 249)" stroke="#000" stroke-width="0.22">Marginal zone B cells</text>
<text x="35.9" y="249" font-size="6.5" font-weight="bold" text-anchor="middle" textLength="34.5" lengthAdjust="spacingAndGlyphs" transform="rotate(-90 35.9 249)" stroke="#000" stroke-width="0.22">(% B cells)</text>
<path d="M56.6 210.7V207.4H115.7V210.7" fill="none" stroke="#222" stroke-width="0.8"/>
<text x="85.6" y="212.1" font-size="13.5" text-anchor="middle" fill="#1a1a1a" stroke="#1a1a1a" stroke-width="0.2">*</text>
<path d="M55.6 256.1l3 3M55.6 259.1l3 -3" stroke="#000" stroke-width="1.3" fill="none"/>
<path d="M60.7 257.9l3 3M60.7 260.9l3 -3" stroke="#000" stroke-width="1.3" fill="none"/>
<path d="M56.6 260.5l3 3M56.6 263.5l3 -3" stroke="#000" stroke-width="1.3" fill="none"/>
<path d="M62.6 260.2l3 3M62.6 263.2l3 -3" stroke="#000" stroke-width="1.3" fill="none"/>
<path d="M65.5 262.1l3 3M65.5 265.1l3 -3" stroke="#000" stroke-width="1.3" fill="none"/>
<path d="M59.4 263l3 3M59.4 266l3 -3" stroke="#000" stroke-width="1.3" fill="none"/>
<path d="M62.2 264.1l3 3M62.2 267.1l3 -3" stroke="#000" stroke-width="1.3" fill="none"/>
<path d="M58.1 267.7l3 3M58.1 270.7l3 -3" stroke="#000" stroke-width="1.3" fill="none"/>
<path d="M62.2 268l3 3M62.2 271l3 -3" stroke="#000" stroke-width="1.3" fill="none"/>
<path d="M66.9 268l3 3M66.9 271l3 -3" stroke="#000" stroke-width="1.3" fill="none"/>
<path d="M55.6 271.4l3 3M55.6 274.4l3 -3" stroke="#000" stroke-width="1.3" fill="none"/>
<path d="M60.7 271.4l3 3M60.7 274.4l3 -3" stroke="#000" stroke-width="1.3" fill="none"/>
<path d="M65.9 272.9l3 3M65.9 275.9l3 -3" stroke="#000" stroke-width="1.3" fill="none"/>
<path d="M65.5 275.5l3 3M65.5 278.5l3 -3" stroke="#000" stroke-width="1.3" fill="none"/>
<path d="M60.7 278.9l3 3M60.7 281.9l3 -3" stroke="#000" stroke-width="1.3" fill="none"/>
<path d="M59.5 265.7l3 3M59.5 268.7l3 -3" stroke="#000" stroke-width="1.3" fill="none"/>
<path d="M53.6 267.5L70.8 267.5" stroke="#000" stroke-width="1.1" fill="none"/>
<path d="M62.5 266.2L62.5 269.4" stroke="#000" stroke-width="1.25" fill="none"/>
<path d="M58.6 266.5L65.8 266.5" stroke="#000" stroke-width="1.2" fill="none"/>
<path d="M58.6 269.5L65.8 269.5" stroke="#000" stroke-width="1.2" fill="none"/>
<circle cx="91.7" cy="262.2" r="1.85" fill="#000"/>
<circle cx="87" cy="265" r="1.85" fill="#000"/>
<circle cx="83.3" cy="269.2" r="1.85" fill="#000"/>
<circle cx="87" cy="271" r="1.85" fill="#000"/>
<circle cx="87" cy="277.2" r="1.85" fill="#000"/>
<path d="M78.4 268.5L95.6 268.5" stroke="#000" stroke-width="1.1" fill="none"/>
<path d="M87.5 266.4L87.5 271.4" stroke="#000" stroke-width="1.25" fill="none"/>
<path d="M83.4 266.5L90.6 266.5" stroke="#000" stroke-width="1.2" fill="none"/>
<path d="M83.4 271.5L90.6 271.5" stroke="#000" stroke-width="1.2" fill="none"/>
<rect x="110.15" y="245.45" width="3.5" height="3.5" fill="#000"/>
<rect x="115.05" y="262.45" width="3.5" height="3.5" fill="#000"/>
<rect x="110.15" y="264.55" width="3.5" height="3.5" fill="#000"/>
<rect x="105.65" y="274.55" width="3.5" height="3.5" fill="#000"/>
<rect x="105.65" y="277.65" width="3.5" height="3.5" fill="#000"/>
<rect x="108.55" y="273.25" width="3.5" height="3.5" fill="#000"/>
<rect x="112.15" y="275.25" width="3.5" height="3.5" fill="#000"/>
<rect x="112.15" y="278.25" width="3.5" height="3.5" fill="#000"/>
<rect x="115.05" y="279.25" width="3.5" height="3.5" fill="#000"/>
<rect x="109.75" y="280.55" width="3.5" height="3.5" fill="#000"/>
<rect x="114.55" y="271.85" width="3.5" height="3.5" fill="#000"/>
<path d="M103.3 273.5L120.5 273.5" stroke="#000" stroke-width="1.1" fill="none"/>
<path d="M111.5 270.3L111.5 276.4" stroke="#000" stroke-width="1.25" fill="none"/>
<path d="M108.3 270.5L115.5 270.5" stroke="#000" stroke-width="1.2" fill="none"/>
<path d="M108.3 276.5L115.5 276.5" stroke="#000" stroke-width="1.2" fill="none"/>
<path d="M136.8 254.2l2 3.4h-4z" fill="#000"/>
<path d="M136.8 259.8l2 3.4h-4z" fill="#000"/>
<path d="M136.8 263.7l2 3.4h-4z" fill="#000"/>
<path d="M132.1 268.2l2 3.4h-4z" fill="#000"/>
<path d="M132.1 274.7l2 3.4h-4z" fill="#000"/>
<path d="M136.8 275.7l2 3.4h-4z" fill="#000"/>
<path d="M139.6 271.9l2 3.4h-4z" fill="#000"/>
<path d="M142 275.7l2 3.4h-4z" fill="#000"/>
<path d="M135 271.9l2 3.4h-4z" fill="#000"/>
<path d="M128.2 270.5L145.4 270.5" stroke="#000" stroke-width="1.1" fill="none"/>
<path d="M136.5 266.8L136.5 273" stroke="#000" stroke-width="1.25" fill="none"/>
<path d="M133.2 266.5L140.4 266.5" stroke="#000" stroke-width="1.2" fill="none"/>
<path d="M133.2 273.5L140.4 273.5" stroke="#000" stroke-width="1.2" fill="none"/>
<path d="M161.5 215.4l2 -3.4h-4z" fill="#000"/>
<path d="M161.5 247.3l2 -3.4h-4z" fill="#000"/>
<path d="M156.4 273.5l2 -3.4h-4z" fill="#000"/>
<path d="M161.5 275.4l2 -3.4h-4z" fill="#000"/>
<path d="M161.5 282.3l2 -3.4h-4z" fill="#000"/>
<path d="M152.9 251.5L170.1 251.5" stroke="#000" stroke-width="1.1" fill="none"/>
<path d="M161.5 234L161.5 268.8" stroke="#000" stroke-width="1.25" fill="none"/>
<path d="M157.3 234.5L165.7 234.5" stroke="#000" stroke-width="1.2" fill="none"/>
<path d="M157.3 268.5L165.7 268.5" stroke="#000" stroke-width="1.2" fill="none"/>
<path d="M219.5 206.4L219.5 289.4" stroke="#000" stroke-width="1" fill="none"/>
<path d="M216.5 206.5L220 206.5" stroke="#000" stroke-width="1" fill="none"/>
<text x="216" y="208.55" font-size="5.8" text-anchor="end" stroke="#000" stroke-width="0.3">40</text>
<path d="M216.5 227.5L220 227.5" stroke="#000" stroke-width="1" fill="none"/>
<text x="216" y="229.35" font-size="5.8" text-anchor="end" stroke="#000" stroke-width="0.3">30</text>
<path d="M216.5 248.5L220 248.5" stroke="#000" stroke-width="1" fill="none"/>
<text x="216" y="250.05" font-size="5.8" text-anchor="end" stroke="#000" stroke-width="0.3">20</text>
<path d="M216.5 268.5L220 268.5" stroke="#000" stroke-width="1" fill="none"/>
<text x="216" y="270.65" font-size="5.8" text-anchor="end" stroke="#000" stroke-width="0.3">10</text>
<path d="M216.5 289.5L220 289.5" stroke="#000" stroke-width="1" fill="none"/>
<text x="216" y="291.45" font-size="5.8" text-anchor="end" stroke="#000" stroke-width="0.3">0</text>
<path d="M219 289.5L343.9 289.5" stroke="#000" stroke-width="1" fill="none"/>
<path d="M235.5 289.4L235.5 292.4" stroke="#000" stroke-width="1" fill="none"/>
<path d="M266.5 289.4L266.5 292.4" stroke="#000" stroke-width="1" fill="none"/>
<path d="M297.5 289.4L297.5 292.4" stroke="#000" stroke-width="1" fill="none"/>
<path d="M328.5 289.4L328.5 292.4" stroke="#000" stroke-width="1" fill="none"/>
<text x="276" y="187.3" font-size="7.7" font-weight="bold" text-anchor="middle" textLength="75.9" lengthAdjust="spacingAndGlyphs">Normal progressors</text>
<path d="M228.6 249.6l3 3M228.6 252.6l3 -3" stroke="#000" stroke-width="1.3" fill="none"/>
<path d="M233.7 252.1l3 3M233.7 255.1l3 -3" stroke="#000" stroke-width="1.3" fill="none"/>
<path d="M228.6 255.4l3 3M228.6 258.4l3 -3" stroke="#000" stroke-width="1.3" fill="none"/>
<path d="M231.4 255.4l3 3M231.4 258.4l3 -3" stroke="#000" stroke-width="1.3" fill="none"/>
<path d="M236.4 255.4l3 3M236.4 258.4l3 -3" stroke="#000" stroke-width="1.3" fill="none"/>
<path d="M238.8 257.2l3 3M238.8 260.2l3 -3" stroke="#000" stroke-width="1.3" fill="none"/>
<path d="M233.7 259.7l3 3M233.7 262.7l3 -3" stroke="#000" stroke-width="1.3" fill="none"/>
<path d="M230.5 264.2l3 3M230.5 267.2l3 -3" stroke="#000" stroke-width="1.3" fill="none"/>
<path d="M233.7 264.2l3 3M233.7 267.2l3 -3" stroke="#000" stroke-width="1.3" fill="none"/>
<path d="M237.1 264.2l3 3M237.1 267.2l3 -3" stroke="#000" stroke-width="1.3" fill="none"/>
<path d="M228.6 268.5l3 3M228.6 271.5l3 -3" stroke="#000" stroke-width="1.3" fill="none"/>
<path d="M233.7 268.5l3 3M233.7 271.5l3 -3" stroke="#000" stroke-width="1.3" fill="none"/>
<path d="M238.8 268.5l3 3M238.8 271.5l3 -3" stroke="#000" stroke-width="1.3" fill="none"/>
<path d="M238.8 272.6l3 3M238.8 275.6l3 -3" stroke="#000" stroke-width="1.3" fill="none"/>
<path d="M233.7 277l3 3M233.7 280l3 -3" stroke="#000" stroke-width="1.3" fill="none"/>
<path d="M235 261.5l3 3M235 264.5l3 -3" stroke="#000" stroke-width="1.3" fill="none"/>
<path d="M224.4 263.5L246 263.5" stroke="#000" stroke-width="1.1" fill="none"/>
<path d="M235.5 261.2L235.5 265.7" stroke="#000" stroke-width="1.25" fill="none"/>
<path d="M231.6 261.5L238.8 261.5" stroke="#000" stroke-width="1.2" fill="none"/>
<path d="M231.6 265.5L238.8 265.5" stroke="#000" stroke-width="1.2" fill="none"/>
<circle cx="266.1" cy="238.7" r="1.75" fill="#fff" stroke="#000" stroke-width="1.25"/>
<circle cx="271.3" cy="243.9" r="1.75" fill="#fff" stroke="#000" stroke-width="1.25"/>
<circle cx="266.1" cy="248.2" r="1.75" fill="#fff" stroke="#000" stroke-width="1.25"/>
<circle cx="261.2" cy="254.9" r="1.75" fill="#fff" stroke="#000" stroke-width="1.25"/>
<circle cx="266.1" cy="256.6" r="1.75" fill="#fff" stroke="#000" stroke-width="1.25"/>
<circle cx="261.2" cy="266" r="1.75" fill="#fff" stroke="#000" stroke-width="1.25"/>
<circle cx="268.8" cy="266" r="1.75" fill="#fff" stroke="#000" stroke-width="1.25"/>
<circle cx="266.1" cy="268.2" r="1.75" fill="#fff" stroke="#000" stroke-width="1.25"/>
<circle cx="271.5" cy="267.7" r="1.75" fill="#fff" stroke="#000" stroke-width="1.25"/>
<circle cx="262.8" cy="269.4" r="1.75" fill="#fff" stroke="#000" stroke-width="1.25"/>
<circle cx="261.2" cy="272.6" r="1.75" fill="#fff" stroke="#000" stroke-width="1.25"/>
<circle cx="266.1" cy="273" r="1.75" fill="#fff" stroke="#000" stroke-width="1.25"/>
<circle cx="271.3" cy="272.6" r="1.75" fill="#fff" stroke="#000" stroke-width="1.25"/>
<circle cx="271.3" cy="276.6" r="1.75" fill="#fff" stroke="#000" stroke-width="1.25"/>
<circle cx="266.1" cy="281" r="1.75" fill="#fff" stroke="#000" stroke-width="1.25"/>
<circle cx="266.1" cy="262.2" r="1.75" fill="#fff" stroke="#000" stroke-width="1.25"/>
<path d="M255.7 263.5L276.7 263.5" stroke="#000" stroke-width="1.1" fill="none"/>
<path d="M266.5 260.3L266.5 266" stroke="#000" stroke-width="1.25" fill="none"/>
<path d="M262.6 260.5L269.8 260.5" stroke="#000" stroke-width="1.2" fill="none"/>
<path d="M262.6 266.5L269.8 266.5" stroke="#000" stroke-width="1.2" fill="none"/>
<rect x="290.75" y="242.25" width="3.3" height="3.3" fill="#fff" stroke="#000" stroke-width="1.25"/>
<rect x="295.85" y="243.15" width="3.3" height="3.3" fill="#fff" stroke="#000" stroke-width="1.25"/>
<rect x="295.55" y="255.25" width="3.3" height="3.3" fill="#fff" stroke="#000" stroke-width="1.25"/>
<rect x="300.55" y="255.25" width="3.3" height="3.3" fill="#fff" stroke="#000" stroke-width="1.25"/>
<rect x="293.15" y="258.25" width="3.3" height="3.3" fill="#fff" stroke="#000" stroke-width="1.25"/>
<rect x="298.25" y="258.25" width="3.3" height="3.3" fill="#fff" stroke="#000" stroke-width="1.25"/>
<rect x="290.75" y="261.35" width="3.3" height="3.3" fill="#fff" stroke="#000" stroke-width="1.25"/>
<rect x="295.55" y="261.35" width="3.3" height="3.3" fill="#fff" stroke="#000" stroke-width="1.25"/>
<rect x="300.55" y="261.35" width="3.3" height="3.3" fill="#fff" stroke="#000" stroke-width="1.25"/>
<rect x="290.75" y="264.35" width="3.3" height="3.3" fill="#fff" stroke="#000" stroke-width="1.25"/>
<rect x="295.55" y="264.75" width="3.3" height="3.3" fill="#fff" stroke="#000" stroke-width="1.25"/>
<rect x="300.55" y="264.55" width="3.3" height="3.3" fill="#fff" stroke="#000" stroke-width="1.25"/>
<rect x="295.55" y="268.45" width="3.3" height="3.3" fill="#fff" stroke="#000" stroke-width="1.25"/>
<rect x="290.75" y="274.15" width="3.3" height="3.3" fill="#fff" stroke="#000" stroke-width="1.25"/>
<rect x="295.55" y="274.55" width="3.3" height="3.3" fill="#fff" stroke="#000" stroke-width="1.25"/>
<rect x="300.55" y="274.55" width="3.3" height="3.3" fill="#fff" stroke="#000" stroke-width="1.25"/>
<rect x="295.55" y="279.25" width="3.3" height="3.3" fill="#fff" stroke="#000" stroke-width="1.25"/>
<path d="M286.5 264.5L308.1 264.5" stroke="#000" stroke-width="1.1" fill="none"/>
<path d="M297.5 262.6L297.5 266.8" stroke="#000" stroke-width="1.25" fill="none"/>
<path d="M293.7 262.5L300.9 262.5" stroke="#000" stroke-width="1.2" fill="none"/>
<path d="M293.7 266.5L300.9 266.5" stroke="#000" stroke-width="1.2" fill="none"/>
<path d="M328.5 242.4l1.9 -3.2h-3.8z" fill="#fff" stroke="#000" stroke-width="1.25" stroke-linejoin="miter"/>
<path d="M328.5 248.3l1.9 -3.2h-3.8z" fill="#fff" stroke="#000" stroke-width="1.25" stroke-linejoin="miter"/>
<path d="M333.6 247.8l1.9 -3.2h-3.8z" fill="#fff" stroke="#000" stroke-width="1.25" stroke-linejoin="miter"/>
<path d="M323.3 254.1l1.9 -3.2h-3.8z" fill="#fff" stroke="#000" stroke-width="1.25" stroke-linejoin="miter"/>
<path d="M328.5 257.5l1.9 -3.2h-3.8z" fill="#fff" stroke="#000" stroke-width="1.25" stroke-linejoin="miter"/>
<path d="M333.6 259.9l1.9 -3.2h-3.8z" fill="#fff" stroke="#000" stroke-width="1.25" stroke-linejoin="miter"/>
<path d="M333.6 275.6l1.9 -3.2h-3.8z" fill="#fff" stroke="#000" stroke-width="1.25" stroke-linejoin="miter"/>
<path d="M323.3 278.1l1.9 -3.2h-3.8z" fill="#fff" stroke="#000" stroke-width="1.25" stroke-linejoin="miter"/>
<path d="M328.5 278.7l1.9 -3.2h-3.8z" fill="#fff" stroke="#000" stroke-width="1.25" stroke-linejoin="miter"/>
<path d="M323.3 281.9l1.9 -3.2h-3.8z" fill="#fff" stroke="#000" stroke-width="1.25" stroke-linejoin="miter"/>
<path d="M333.6 281.9l1.9 -3.2h-3.8z" fill="#fff" stroke="#000" stroke-width="1.25" stroke-linejoin="miter"/>
<path d="M328.5 283.7l1.9 -3.2h-3.8z" fill="#fff" stroke="#000" stroke-width="1.25" stroke-linejoin="miter"/>
<path d="M331 278.3l1.9 -3.2h-3.8z" fill="#fff" stroke="#000" stroke-width="1.25" stroke-linejoin="miter"/>
<path d="M318.1 265.5L339.1 265.5" stroke="#000" stroke-width="1.1" fill="none"/>
<path d="M328.5 261.4L328.5 269" stroke="#000" stroke-width="1.25" fill="none"/>
<path d="M323.6 261.5L333.6 261.5" stroke="#000" stroke-width="1.2" fill="none"/>
<path d="M323.6 269.5L333.6 269.5" stroke="#000" stroke-width="1.2" fill="none"/>
<path d="M388.5 206.4L388.5 289.6" stroke="#000" stroke-width="1" fill="none"/>
<path d="M385.3 206.5L388.8 206.5" stroke="#000" stroke-width="1" fill="none"/>
<text x="384.8" y="208.55" font-size="5.8" text-anchor="end" stroke="#000" stroke-width="0.3">40</text>
<path d="M385.3 227.5L388.8 227.5" stroke="#000" stroke-width="1" fill="none"/>
<text x="384.8" y="229.45" font-size="5.8" text-anchor="end" stroke="#000" stroke-width="0.3">30</text>
<path d="M385.3 248.5L388.8 248.5" stroke="#000" stroke-width="1" fill="none"/>
<text x="384.8" y="250.35" font-size="5.8" text-anchor="end" stroke="#000" stroke-width="0.3">20</text>
<path d="M385.3 269.5L388.8 269.5" stroke="#000" stroke-width="1" fill="none"/>
<text x="384.8" y="271.05" font-size="5.8" text-anchor="end" stroke="#000" stroke-width="0.3">10</text>
<path d="M385.3 289.5L388.8 289.5" stroke="#000" stroke-width="1" fill="none"/>
<text x="384.8" y="291.65" font-size="5.8" text-anchor="end" stroke="#000" stroke-width="0.3">0</text>
<path d="M387.8 289.5L513 289.5" stroke="#000" stroke-width="1" fill="none"/>
<path d="M408.5 289.6L408.5 292.6" stroke="#000" stroke-width="1" fill="none"/>
<path d="M450.5 289.6L450.5 292.6" stroke="#000" stroke-width="1" fill="none"/>
<path d="M492.5 289.6L492.5 292.6" stroke="#000" stroke-width="1" fill="none"/>
<text x="444.2" y="187.3" font-size="7.7" font-weight="bold" text-anchor="middle" textLength="67.3" lengthAdjust="spacingAndGlyphs">Slow progressors</text>
<path d="M397.5 209.1V205.8H501.7V209.1" fill="none" stroke="#222" stroke-width="0.8"/>
<text x="449.4" y="210.5" font-size="13.5" text-anchor="middle" fill="#1a1a1a" letter-spacing="0.75" stroke="#1a1a1a" stroke-width="0.2">**</text>
<path d="M397.5 218.5V215.2H456.7V218.5" fill="none" stroke="#222" stroke-width="0.8"/>
<text x="427.2" y="219.9" font-size="13.5" text-anchor="middle" fill="#1a1a1a" letter-spacing="0.75" stroke="#1a1a1a" stroke-width="0.2">**</text>
<path d="M402.5 249.9l3 3M402.5 252.9l3 -3" stroke="#000" stroke-width="1.3" fill="none"/>
<path d="M407.4 252l3 3M407.4 255l3 -3" stroke="#000" stroke-width="1.3" fill="none"/>
<path d="M397.3 255.6l3 3M397.3 258.6l3 -3" stroke="#000" stroke-width="1.3" fill="none"/>
<path d="M402.5 255.6l3 3M402.5 258.6l3 -3" stroke="#000" stroke-width="1.3" fill="none"/>
<path d="M417.5 255.6l3 3M417.5 258.6l3 -3" stroke="#000" stroke-width="1.3" fill="none"/>
<path d="M412.4 257.3l3 3M412.4 260.3l3 -3" stroke="#000" stroke-width="1.3" fill="none"/>
<path d="M407.4 259.6l3 3M407.4 262.6l3 -3" stroke="#000" stroke-width="1.3" fill="none"/>
<path d="M397.3 264.1l3 3M397.3 267.1l3 -3" stroke="#000" stroke-width="1.3" fill="none"/>
<path d="M417.5 263.7l3 3M417.5 266.7l3 -3" stroke="#000" stroke-width="1.3" fill="none"/>
<path d="M402.5 268.8l3 3M402.5 271.8l3 -3" stroke="#000" stroke-width="1.3" fill="none"/>
<path d="M407.4 269.1l3 3M407.4 272.1l3 -3" stroke="#000" stroke-width="1.3" fill="none"/>
<path d="M412.4 268.8l3 3M412.4 271.8l3 -3" stroke="#000" stroke-width="1.3" fill="none"/>
<path d="M412.4 273.2l3 3M412.4 276.2l3 -3" stroke="#000" stroke-width="1.3" fill="none"/>
<path d="M407.4 277.5l3 3M407.4 280.5l3 -3" stroke="#000" stroke-width="1.3" fill="none"/>
<path d="M404.5 262.5l3 3M404.5 265.5l3 -3" stroke="#000" stroke-width="1.3" fill="none"/>
<path d="M410 262.5l3 3M410 265.5l3 -3" stroke="#000" stroke-width="1.3" fill="none"/>
<path d="M394.7 263.5L423.1 263.5" stroke="#000" stroke-width="1.1" fill="none"/>
<path d="M408.5 261.5L408.5 266.2" stroke="#000" stroke-width="1.25" fill="none"/>
<path d="M403.4 261.5L414.4 261.5" stroke="#000" stroke-width="1.2" fill="none"/>
<path d="M403.4 266.5L414.4 266.5" stroke="#000" stroke-width="1.2" fill="none"/>
<path d="M455.6 269.6l2.1 2.2l-2.1 2.2l-2.1 -2.2z" fill="#fff" stroke="#000" stroke-width="1.25"/>
<path d="M450.8 271.5l2.1 2.2l-2.1 2.2l-2.1 -2.2z" fill="#fff" stroke="#000" stroke-width="1.25"/>
<path d="M440.4 276.5l2.1 2.2l-2.1 2.2l-2.1 -2.2z" fill="#fff" stroke="#000" stroke-width="1.25"/>
<path d="M445.9 279.1l2.1 2.2l-2.1 2.2l-2.1 -2.2z" fill="#fff" stroke="#000" stroke-width="1.25"/>
<path d="M450.8 278.8l2.1 2.2l-2.1 2.2l-2.1 -2.2z" fill="#fff" stroke="#000" stroke-width="1.25"/>
<path d="M455.6 278.8l2.1 2.2l-2.1 2.2l-2.1 -2.2z" fill="#fff" stroke="#000" stroke-width="1.25"/>
<path d="M450.8 280.8l2.1 2.2l-2.1 2.2l-2.1 -2.2z" fill="#fff" stroke="#000" stroke-width="1.25"/>
<path d="M455.6 283.1l2.1 2.2l-2.1 2.2l-2.1 -2.2z" fill="#fff" stroke="#000" stroke-width="1.25"/>
<path d="M450.8 285.3l2.1 2.2l-2.1 2.2l-2.1 -2.2z" fill="#fff" stroke="#000" stroke-width="1.25"/>
<path d="M436.8 279.5L464.8 279.5" stroke="#000" stroke-width="1.1" fill="none"/>
<path d="M450.5 277.5L450.5 282.2" stroke="#000" stroke-width="1.25" fill="none"/>
<path d="M445.8 277.5L455.8 277.5" stroke="#000" stroke-width="1.2" fill="none"/>
<path d="M445.8 282.5L455.8 282.5" stroke="#000" stroke-width="1.2" fill="none"/>
<path d="M482.2 277.2l2.3 2.4l-2.3 2.4l-2.3 -2.4z" fill="#000"/>
<path d="M497.5 277.7l2.3 2.4l-2.3 2.4l-2.3 -2.4z" fill="#000"/>
<path d="M488 280.3l2.3 2.4l-2.3 2.4l-2.3 -2.4z" fill="#000"/>
<path d="M492.6 280.3l2.3 2.4l-2.3 2.4l-2.3 -2.4z" fill="#000"/>
<path d="M495.7 279.8l2.3 2.4l-2.3 2.4l-2.3 -2.4z" fill="#000"/>
<path d="M492.6 285.1l2.3 2.4l-2.3 2.4l-2.3 -2.4z" fill="#000"/>
<path d="M478.3 282.5L506.7 282.5" stroke="#000" stroke-width="1.1" fill="none"/>
<path d="M492.5 280.6L492.5 284" stroke="#000" stroke-width="1.25" fill="none"/>
<path d="M487.5 280.5L497.5 280.5" stroke="#000" stroke-width="1.2" fill="none"/>
<path d="M487.5 284.5L497.5 284.5" stroke="#000" stroke-width="1.2" fill="none"/>
<path d="M49.5 351.7L49.5 366.9" stroke="#000" stroke-width="1" fill="none"/>
<path d="M49.5 372.8L49.5 434.2" stroke="#000" stroke-width="1" fill="none"/>
<path d="M46.8 351.5L50.3 351.5" stroke="#000" stroke-width="1" fill="none"/>
<text x="46.3" y="353.85" font-size="5.8" text-anchor="end" stroke="#000" stroke-width="0.3">40</text>
<path d="M46.8 366.5L50.3 366.5" stroke="#000" stroke-width="1" fill="none"/>
<text x="46.3" y="368.85" font-size="5.8" text-anchor="end" stroke="#000" stroke-width="0.3">20</text>
<path d="M46.8 372.5L50.3 372.5" stroke="#000" stroke-width="1" fill="none"/>
<text x="46.3" y="374.95" font-size="5.8" text-anchor="end" stroke="#000" stroke-width="0.3">20</text>
<path d="M46.8 388.5L50.3 388.5" stroke="#000" stroke-width="1" fill="none"/>
<text x="46.3" y="390.35" font-size="5.8" text-anchor="end" stroke="#000" stroke-width="0.3">15</text>
<path d="M46.8 403.5L50.3 403.5" stroke="#000" stroke-width="1" fill="none"/>
<text x="46.3" y="405.55" font-size="5.8" text-anchor="end" stroke="#000" stroke-width="0.3">10</text>
<path d="M46.8 418.5L50.3 418.5" stroke="#000" stroke-width="1" fill="none"/>
<text x="46.3" y="420.95" font-size="5.8" text-anchor="end" stroke="#000" stroke-width="0.3">5</text>
<path d="M46.8 434.5L50.3 434.5" stroke="#000" stroke-width="1" fill="none"/>
<text x="46.3" y="436.25" font-size="5.8" text-anchor="end" stroke="#000" stroke-width="0.3">0</text>
<path d="M49.3 434.5L174.6 434.5" stroke="#000" stroke-width="1" fill="none"/>
<path d="M62.5 434.2L62.5 437.2" stroke="#000" stroke-width="1" fill="none"/>
<path d="M87.5 434.2L87.5 437.2" stroke="#000" stroke-width="1" fill="none"/>
<path d="M112.5 434.2L112.5 437.2" stroke="#000" stroke-width="1" fill="none"/>
<path d="M136.5 434.2L136.5 437.2" stroke="#000" stroke-width="1" fill="none"/>
<path d="M161.5 434.2L161.5 437.2" stroke="#000" stroke-width="1" fill="none"/>
<path d="M56.9 355.1V351.8H117.5V355.1" fill="none" stroke="#222" stroke-width="0.8"/>
<text x="87.1" y="356.5" font-size="13.5" text-anchor="middle" fill="#1a1a1a" stroke="#1a1a1a" stroke-width="0.2">*</text>
<g transform="rotate(-90 27.3 393.1)"><text x="27.3" y="393.1" font-size="6.5" font-weight="bold" stroke="#000" stroke-width="0.22" text-anchor="middle" textLength="79.5" lengthAdjust="spacingAndGlyphs" >CD1c<tspan dy="-2.4" font-size="4.3">+</tspan><tspan dy="2.4">CD21</tspan><tspan dy="-2.4" font-size="4.3">lo</tspan><tspan dy="2.4">IgM</tspan><tspan dy="-2.4" font-size="4.3">+</tspan><tspan dy="2.4"> B cells</tspan></text></g>
<text x="35.3" y="393.1" font-size="6.5" font-weight="bold" text-anchor="middle" textLength="34.6" lengthAdjust="spacingAndGlyphs" transform="rotate(-90 35.3 393.1)" stroke="#000" stroke-width="0.22">(% B cells)</text>
<path d="M60.7 401.7l3 3M60.7 404.7l3 -3" stroke="#000" stroke-width="1.3" fill="none"/>
<path d="M65.9 399.4l3 3M65.9 402.4l3 -3" stroke="#000" stroke-width="1.3" fill="none"/>
<path d="M55.7 422.9l3 3M55.7 425.9l3 -3" stroke="#000" stroke-width="1.3" fill="none"/>
<path d="M58.9 422.9l3 3M58.9 425.9l3 -3" stroke="#000" stroke-width="1.3" fill="none"/>
<path d="M62.1 422.9l3 3M62.1 425.9l3 -3" stroke="#000" stroke-width="1.3" fill="none"/>
<path d="M65.3 422.9l3 3M65.3 425.9l3 -3" stroke="#000" stroke-width="1.3" fill="none"/>
<path d="M57.3 425.9l3 3M57.3 428.9l3 -3" stroke="#000" stroke-width="1.3" fill="none"/>
<path d="M60.7 425.9l3 3M60.7 428.9l3 -3" stroke="#000" stroke-width="1.3" fill="none"/>
<path d="M64.1 425.9l3 3M64.1 428.9l3 -3" stroke="#000" stroke-width="1.3" fill="none"/>
<path d="M67.1 425.9l3 3M67.1 428.9l3 -3" stroke="#000" stroke-width="1.3" fill="none"/>
<path d="M55.1 428.5l3 3M55.1 431.5l3 -3" stroke="#000" stroke-width="1.3" fill="none"/>
<path d="M58.7 428.5l3 3M58.7 431.5l3 -3" stroke="#000" stroke-width="1.3" fill="none"/>
<path d="M62.5 428.5l3 3M62.5 431.5l3 -3" stroke="#000" stroke-width="1.3" fill="none"/>
<path d="M65.9 428.5l3 3M65.9 431.5l3 -3" stroke="#000" stroke-width="1.3" fill="none"/>
<path d="M57.1 430.9l3 3M57.1 433.9l3 -3" stroke="#000" stroke-width="1.3" fill="none"/>
<path d="M60.7 430.9l3 3M60.7 433.9l3 -3" stroke="#000" stroke-width="1.3" fill="none"/>
<path d="M64.3 430.9l3 3M64.3 433.9l3 -3" stroke="#000" stroke-width="1.3" fill="none"/>
<path d="M53.8 425.5L70.6 425.5" stroke="#000" stroke-width="1.1" fill="none"/>
<path d="M62.5 423.2L62.5 427.6" stroke="#000" stroke-width="1.25" fill="none"/>
<path d="M57.8 423.5L66.6 423.5" stroke="#000" stroke-width="1.2" fill="none"/>
<path d="M57.8 427.5L66.6 427.5" stroke="#000" stroke-width="1.2" fill="none"/>
<circle cx="87.2" cy="364.4" r="1.85" fill="#000"/>
<circle cx="87.2" cy="415.3" r="1.85" fill="#000"/>
<circle cx="87.2" cy="422.4" r="1.85" fill="#000"/>
<circle cx="91.9" cy="427.3" r="1.85" fill="#000"/>
<circle cx="87.2" cy="430.4" r="1.85" fill="#000"/>
<path d="M78.5 411.5L95.7 411.5" stroke="#000" stroke-width="1.1" fill="none"/>
<path d="M87.5 399.3L87.5 423.6" stroke="#000" stroke-width="1.25" fill="none"/>
<path d="M82.9 399.5L91.3 399.5" stroke="#000" stroke-width="1.2" fill="none"/>
<path d="M82.9 423.5L91.3 423.5" stroke="#000" stroke-width="1.2" fill="none"/>
<rect x="110.45" y="405.05" width="3.5" height="3.5" fill="#000"/>
<rect x="115.05" y="409.85" width="3.5" height="3.5" fill="#000"/>
<rect x="110.45" y="412.05" width="3.5" height="3.5" fill="#000"/>
<rect x="112.75" y="414.05" width="3.5" height="3.5" fill="#000"/>
<rect x="107.05" y="416.25" width="3.5" height="3.5" fill="#000"/>
<rect x="112.75" y="419.45" width="3.5" height="3.5" fill="#000"/>
<rect x="110.25" y="418.25" width="3.5" height="3.5" fill="#000"/>
<rect x="105.55" y="423.55" width="3.5" height="3.5" fill="#000"/>
<rect x="112.75" y="421.75" width="3.5" height="3.5" fill="#000"/>
<rect x="110.45" y="425.55" width="3.5" height="3.5" fill="#000"/>
<rect x="115.05" y="425.25" width="3.5" height="3.5" fill="#000"/>
<rect x="115.65" y="416.65" width="3.5" height="3.5" fill="#000"/>
<path d="M103.5 418.5L120.5 418.5" stroke="#000" stroke-width="1.1" fill="none"/>
<path d="M112.5 416.9L112.5 420.1" stroke="#000" stroke-width="1.25" fill="none"/>
<path d="M109 416.5L115 416.5" stroke="#000" stroke-width="1.2" fill="none"/>
<path d="M109 420.5L115 420.5" stroke="#000" stroke-width="1.2" fill="none"/>
<path d="M136.6 410.8l2 3.4h-4z" fill="#000"/>
<path d="M136.6 419.3l2 3.4h-4z" fill="#000"/>
<path d="M133 425.4l2 3.4h-4z" fill="#000"/>
<path d="M132.3 428.5l2 3.4h-4z" fill="#000"/>
<path d="M141.5 429.7l2 3.4h-4z" fill="#000"/>
<path d="M136.6 431.4l2 3.4h-4z" fill="#000"/>
<path d="M139 423.1l2 3.4h-4z" fill="#000"/>
<path d="M128.3 425.5L145.3 425.5" stroke="#000" stroke-width="1.1" fill="none"/>
<path d="M136.5 422.7L136.5 428.1" stroke="#000" stroke-width="1.25" fill="none"/>
<path d="M132.8 422.5L140.8 422.5" stroke="#000" stroke-width="1.2" fill="none"/>
<path d="M132.8 428.5L140.8 428.5" stroke="#000" stroke-width="1.2" fill="none"/>
<path d="M161.5 412.3l2 -3.4h-4z" fill="#000"/>
<path d="M161.5 423.1l2 -3.4h-4z" fill="#000"/>
<path d="M165.4 431.5l2 -3.4h-4z" fill="#000"/>
<path d="M161.5 433.1l2 -3.4h-4z" fill="#000"/>
<path d="M160.4 428.1l2 -3.4h-4z" fill="#000"/>
<path d="M152.9 423.5L170.5 423.5" stroke="#000" stroke-width="1.1" fill="none"/>
<path d="M161.5 419.6L161.5 427.6" stroke="#000" stroke-width="1.25" fill="none"/>
<path d="M157.5 419.5L165.9 419.5" stroke="#000" stroke-width="1.2" fill="none"/>
<path d="M157.5 427.5L165.9 427.5" stroke="#000" stroke-width="1.2" fill="none"/>
<text x="64.35" y="438.4" font-size="5.8" font-weight="bold" text-anchor="end" textLength="11.6" lengthAdjust="spacingAndGlyphs" transform="rotate(-90 64.35 438.4)" stroke="#000" stroke-width="0.12">HIV-</text>
<text x="89.35" y="438.4" font-size="5.8" font-weight="bold" text-anchor="end" textLength="60.2" lengthAdjust="spacingAndGlyphs" transform="rotate(-90 89.35 438.4)" stroke="#000" stroke-width="0.12">Acute (0-3 month PI)</text>
<text x="114.35" y="438.4" font-size="5.8" font-weight="bold" text-anchor="end" textLength="40.4" lengthAdjust="spacingAndGlyphs" transform="rotate(-90 114.35 438.4)" stroke="#000" stroke-width="0.12">5-8 months PI</text>
<text x="139.25" y="438.4" font-size="5.8" font-weight="bold" text-anchor="end" textLength="48" lengthAdjust="spacingAndGlyphs" transform="rotate(-90 139.25 438.4)" stroke="#000" stroke-width="0.12">3-6 months ART</text>
<text x="164.05" y="438.4" font-size="5.8" font-weight="bold" text-anchor="end" textLength="50.7" lengthAdjust="spacingAndGlyphs" transform="rotate(-90 164.05 438.4)" stroke="#000" stroke-width="0.12">9-12 months ART</text>
<path d="M219.5 350.7L219.5 366.6" stroke="#000" stroke-width="1" fill="none"/>
<path d="M219.5 372.6L219.5 434.1" stroke="#000" stroke-width="1" fill="none"/>
<path d="M216.8 350.5L220.3 350.5" stroke="#000" stroke-width="1" fill="none"/>
<text x="216.3" y="352.85" font-size="5.8" text-anchor="end" stroke="#000" stroke-width="0.3">40</text>
<path d="M216.8 366.5L220.3 366.5" stroke="#000" stroke-width="1" fill="none"/>
<text x="216.3" y="368.55" font-size="5.8" text-anchor="end" stroke="#000" stroke-width="0.3">20</text>
<path d="M216.8 372.5L220.3 372.5" stroke="#000" stroke-width="1" fill="none"/>
<text x="216.3" y="374.75" font-size="5.8" text-anchor="end" stroke="#000" stroke-width="0.3">20</text>
<path d="M216.8 388.5L220.3 388.5" stroke="#000" stroke-width="1" fill="none"/>
<text x="216.3" y="390.05" font-size="5.8" text-anchor="end" stroke="#000" stroke-width="0.3">15</text>
<path d="M216.8 403.5L220.3 403.5" stroke="#000" stroke-width="1" fill="none"/>
<text x="216.3" y="405.25" font-size="5.8" text-anchor="end" stroke="#000" stroke-width="0.3">10</text>
<path d="M216.8 418.5L220.3 418.5" stroke="#000" stroke-width="1" fill="none"/>
<text x="216.3" y="420.65" font-size="5.8" text-anchor="end" stroke="#000" stroke-width="0.3">5</text>
<path d="M216.8 434.5L220.3 434.5" stroke="#000" stroke-width="1" fill="none"/>
<text x="216.3" y="436.15" font-size="5.8" text-anchor="end" stroke="#000" stroke-width="0.3">0</text>
<path d="M219.3 434.5L344.6 434.5" stroke="#000" stroke-width="1" fill="none"/>
<path d="M235.5 434.1L235.5 437.1" stroke="#000" stroke-width="1" fill="none"/>
<path d="M266.5 434.1L266.5 437.1" stroke="#000" stroke-width="1" fill="none"/>
<path d="M297.5 434.1L297.5 437.1" stroke="#000" stroke-width="1" fill="none"/>
<path d="M329.5 434.1L329.5 437.1" stroke="#000" stroke-width="1" fill="none"/>
<path d="M228 352.9V349.6H332.5V352.9" fill="none" stroke="#222" stroke-width="0.8"/>
<text x="280.1" y="354.3" font-size="13.5" text-anchor="middle" fill="#1a1a1a" stroke="#1a1a1a" stroke-width="0.2">*</text>
<path d="M228 363.7V360.4H297.5V363.7" fill="none" stroke="#222" stroke-width="0.8"/>
<text x="262.2" y="365.1" font-size="13.5" text-anchor="middle" fill="#1a1a1a" letter-spacing="0.75" stroke="#1a1a1a" stroke-width="0.2">**</text>
<path d="M228 374V370.7H266.3V374" fill="none" stroke="#222" stroke-width="0.8"/>
<text x="247" y="375.4" font-size="13.5" text-anchor="middle" fill="#1a1a1a" stroke="#1a1a1a" stroke-width="0.2">*</text>
<path d="M233.7 401.5l3 3M233.7 404.5l3 -3" stroke="#000" stroke-width="1.3" fill="none"/>
<path d="M238.8 398.9l3 3M238.8 401.9l3 -3" stroke="#000" stroke-width="1.3" fill="none"/>
<path d="M228.1 423.1l3 3M228.1 426.1l3 -3" stroke="#000" stroke-width="1.3" fill="none"/>
<path d="M231.5 423.1l3 3M231.5 426.1l3 -3" stroke="#000" stroke-width="1.3" fill="none"/>
<path d="M234.9 423.1l3 3M234.9 426.1l3 -3" stroke="#000" stroke-width="1.3" fill="none"/>
<path d="M238.3 423.1l3 3M238.3 426.1l3 -3" stroke="#000" stroke-width="1.3" fill="none"/>
<path d="M229.9 425.9l3 3M229.9 428.9l3 -3" stroke="#000" stroke-width="1.3" fill="none"/>
<path d="M233.5 425.9l3 3M233.5 428.9l3 -3" stroke="#000" stroke-width="1.3" fill="none"/>
<path d="M237.1 425.9l3 3M237.1 428.9l3 -3" stroke="#000" stroke-width="1.3" fill="none"/>
<path d="M240.5 425.9l3 3M240.5 428.9l3 -3" stroke="#000" stroke-width="1.3" fill="none"/>
<path d="M226.9 428.5l3 3M226.9 431.5l3 -3" stroke="#000" stroke-width="1.3" fill="none"/>
<path d="M230.9 428.5l3 3M230.9 431.5l3 -3" stroke="#000" stroke-width="1.3" fill="none"/>
<path d="M234.9 428.5l3 3M234.9 431.5l3 -3" stroke="#000" stroke-width="1.3" fill="none"/>
<path d="M238.9 428.5l3 3M238.9 431.5l3 -3" stroke="#000" stroke-width="1.3" fill="none"/>
<path d="M229.5 430.9l3 3M229.5 433.9l3 -3" stroke="#000" stroke-width="1.3" fill="none"/>
<path d="M233.7 430.9l3 3M233.7 433.9l3 -3" stroke="#000" stroke-width="1.3" fill="none"/>
<path d="M237.7 430.9l3 3M237.7 433.9l3 -3" stroke="#000" stroke-width="1.3" fill="none"/>
<path d="M224.4 425.5L246 425.5" stroke="#000" stroke-width="1.1" fill="none"/>
<path d="M235.5 423.5L235.5 427.9" stroke="#000" stroke-width="1.25" fill="none"/>
<path d="M230 423.5L240.4 423.5" stroke="#000" stroke-width="1.2" fill="none"/>
<path d="M230 427.5L240.4 427.5" stroke="#000" stroke-width="1.2" fill="none"/>
<circle cx="266.4" cy="381.1" r="1.75" fill="#fff" stroke="#000" stroke-width="1.25"/>
<circle cx="266.4" cy="400.6" r="1.75" fill="#fff" stroke="#000" stroke-width="1.25"/>
<circle cx="263.7" cy="406" r="1.75" fill="#fff" stroke="#000" stroke-width="1.25"/>
<circle cx="261.4" cy="408.6" r="1.75" fill="#fff" stroke="#000" stroke-width="1.25"/>
<circle cx="266.4" cy="409.3" r="1.75" fill="#fff" stroke="#000" stroke-width="1.25"/>
<circle cx="271.5" cy="408" r="1.75" fill="#fff" stroke="#000" stroke-width="1.25"/>
<circle cx="269" cy="411.3" r="1.75" fill="#fff" stroke="#000" stroke-width="1.25"/>
<circle cx="261.4" cy="416" r="1.75" fill="#fff" stroke="#000" stroke-width="1.25"/>
<circle cx="268.8" cy="415.4" r="1.75" fill="#fff" stroke="#000" stroke-width="1.25"/>
<circle cx="271.5" cy="417.4" r="1.75" fill="#fff" stroke="#000" stroke-width="1.25"/>
<circle cx="266.4" cy="418.7" r="1.75" fill="#fff" stroke="#000" stroke-width="1.25"/>
<circle cx="266.4" cy="424.5" r="1.75" fill="#fff" stroke="#000" stroke-width="1.25"/>
<circle cx="268.8" cy="426.4" r="1.75" fill="#fff" stroke="#000" stroke-width="1.25"/>
<circle cx="261.4" cy="428.6" r="1.75" fill="#fff" stroke="#000" stroke-width="1.25"/>
<circle cx="271.5" cy="428.8" r="1.75" fill="#fff" stroke="#000" stroke-width="1.25"/>
<circle cx="266.4" cy="430.5" r="1.75" fill="#fff" stroke="#000" stroke-width="1.25"/>
<circle cx="264.4" cy="412.4" r="1.75" fill="#fff" stroke="#000" stroke-width="1.25"/>
<path d="M255.9 414.5L276.9 414.5" stroke="#000" stroke-width="1.1" fill="none"/>
<path d="M266.5 411.6L266.5 417.2" stroke="#000" stroke-width="1.25" fill="none"/>
<path d="M262.4 411.5L270.4 411.5" stroke="#000" stroke-width="1.2" fill="none"/>
<path d="M262.4 417.5L270.4 417.5" stroke="#000" stroke-width="1.2" fill="none"/>
<rect x="296.15" y="361.65" width="3.3" height="3.3" fill="#fff" stroke="#000" stroke-width="1.25"/>
<rect x="296.15" y="398.15" width="3.3" height="3.3" fill="#fff" stroke="#000" stroke-width="1.25"/>
<rect x="301.15" y="403.25" width="3.3" height="3.3" fill="#fff" stroke="#000" stroke-width="1.25"/>
<rect x="291.05" y="405.65" width="3.3" height="3.3" fill="#fff" stroke="#000" stroke-width="1.25"/>
<rect x="296.15" y="408.45" width="3.3" height="3.3" fill="#fff" stroke="#000" stroke-width="1.25"/>
<rect x="301.15" y="409.25" width="3.3" height="3.3" fill="#fff" stroke="#000" stroke-width="1.25"/>
<rect x="296.15" y="413.55" width="3.3" height="3.3" fill="#fff" stroke="#000" stroke-width="1.25"/>
<rect x="288.65" y="415.95" width="3.3" height="3.3" fill="#fff" stroke="#000" stroke-width="1.25"/>
<rect x="303.65" y="415.35" width="3.3" height="3.3" fill="#fff" stroke="#000" stroke-width="1.25"/>
<rect x="293.65" y="417.25" width="3.3" height="3.3" fill="#fff" stroke="#000" stroke-width="1.25"/>
<rect x="298.55" y="417.25" width="3.3" height="3.3" fill="#fff" stroke="#000" stroke-width="1.25"/>
<rect x="291.05" y="420.05" width="3.3" height="3.3" fill="#fff" stroke="#000" stroke-width="1.25"/>
<rect x="296.15" y="420.05" width="3.3" height="3.3" fill="#fff" stroke="#000" stroke-width="1.25"/>
<rect x="301.15" y="422.85" width="3.3" height="3.3" fill="#fff" stroke="#000" stroke-width="1.25"/>
<rect x="296.15" y="425.65" width="3.3" height="3.3" fill="#fff" stroke="#000" stroke-width="1.25"/>
<path d="M287.1 412.5L308.5 412.5" stroke="#000" stroke-width="1.1" fill="none"/>
<path d="M297.5 410.4L297.5 415.4" stroke="#000" stroke-width="1.25" fill="none"/>
<path d="M293.8 410.5L301.8 410.5" stroke="#000" stroke-width="1.2" fill="none"/>
<path d="M293.8 415.5L301.8 415.5" stroke="#000" stroke-width="1.2" fill="none"/>
<path d="M329 356.3l1.9 -3.2h-3.8z" fill="#fff" stroke="#000" stroke-width="1.25" stroke-linejoin="miter"/>
<path d="M329 362.2l1.9 -3.2h-3.8z" fill="#fff" stroke="#000" stroke-width="1.25" stroke-linejoin="miter"/>
<path d="M329 383.9l1.9 -3.2h-3.8z" fill="#fff" stroke="#000" stroke-width="1.25" stroke-linejoin="miter"/>
<path d="M324 401.7l1.9 -3.2h-3.8z" fill="#fff" stroke="#000" stroke-width="1.25" stroke-linejoin="miter"/>
<path d="M329 402.1l1.9 -3.2h-3.8z" fill="#fff" stroke="#000" stroke-width="1.25" stroke-linejoin="miter"/>
<path d="M324 414.3l1.9 -3.2h-3.8z" fill="#fff" stroke="#000" stroke-width="1.25" stroke-linejoin="miter"/>
<path d="M334.3 415.2l1.9 -3.2h-3.8z" fill="#fff" stroke="#000" stroke-width="1.25" stroke-linejoin="miter"/>
<path d="M329 418l1.9 -3.2h-3.8z" fill="#fff" stroke="#000" stroke-width="1.25" stroke-linejoin="miter"/>
<path d="M326.8 420.8l1.9 -3.2h-3.8z" fill="#fff" stroke="#000" stroke-width="1.25" stroke-linejoin="miter"/>
<path d="M334.3 421.8l1.9 -3.2h-3.8z" fill="#fff" stroke="#000" stroke-width="1.25" stroke-linejoin="miter"/>
<path d="M324 423.3l1.9 -3.2h-3.8z" fill="#fff" stroke="#000" stroke-width="1.25" stroke-linejoin="miter"/>
<path d="M329 425.1l1.9 -3.2h-3.8z" fill="#fff" stroke="#000" stroke-width="1.25" stroke-linejoin="miter"/>
<path d="M334.3 428.9l1.9 -3.2h-3.8z" fill="#fff" stroke="#000" stroke-width="1.25" stroke-linejoin="miter"/>
<path d="M329 433.4l1.9 -3.2h-3.8z" fill="#fff" stroke="#000" stroke-width="1.25" stroke-linejoin="miter"/>
<path d="M318.4 403.5L339.8 403.5" stroke="#000" stroke-width="1.1" fill="none"/>
<path d="M329.5 395.2L329.5 411.4" stroke="#000" stroke-width="1.25" fill="none"/>
<path d="M323.9 395.5L334.3 395.5" stroke="#000" stroke-width="1.2" fill="none"/>
<path d="M323.9 411.5L334.3 411.5" stroke="#000" stroke-width="1.2" fill="none"/>
<text x="237.35" y="438.4" font-size="5.8" font-weight="bold" text-anchor="end" textLength="11.6" lengthAdjust="spacingAndGlyphs" transform="rotate(-90 237.35 438.4)" stroke="#000" stroke-width="0.12">HIV-</text>
<text x="268.75" y="438.4" font-size="5.8" font-weight="bold" text-anchor="end" textLength="60.2" lengthAdjust="spacingAndGlyphs" transform="rotate(-90 268.75 438.4)" stroke="#000" stroke-width="0.12">Acute (0-3 month PI)</text>
<text x="300.05" y="438.4" font-size="5.8" font-weight="bold" text-anchor="end" textLength="40.4" lengthAdjust="spacingAndGlyphs" transform="rotate(-90 300.05 438.4)" stroke="#000" stroke-width="0.12">5-8 months PI</text>
<text x="331.45" y="438.4" font-size="5.8" font-weight="bold" text-anchor="end" textLength="67.8" lengthAdjust="spacingAndGlyphs" transform="rotate(-90 331.45 438.4)" stroke="#000" stroke-width="0.12">Chronic (24 months PI)</text>
<path d="M388.5 351L388.5 434.2" stroke="#000" stroke-width="1" fill="none"/>
<path d="M385.4 351.5L388.9 351.5" stroke="#000" stroke-width="1" fill="none"/>
<text x="384.9" y="353.15" font-size="5.8" text-anchor="end" stroke="#000" stroke-width="0.3">20</text>
<path d="M385.4 371.5L388.9 371.5" stroke="#000" stroke-width="1" fill="none"/>
<text x="384.9" y="373.85" font-size="5.8" text-anchor="end" stroke="#000" stroke-width="0.3">15</text>
<path d="M385.4 392.5L388.9 392.5" stroke="#000" stroke-width="1" fill="none"/>
<text x="384.9" y="394.65" font-size="5.8" text-anchor="end" stroke="#000" stroke-width="0.3">10</text>
<path d="M385.4 413.5L388.9 413.5" stroke="#000" stroke-width="1" fill="none"/>
<text x="384.9" y="415.45" font-size="5.8" text-anchor="end" stroke="#000" stroke-width="0.3">5</text>
<path d="M385.4 434.5L388.9 434.5" stroke="#000" stroke-width="1" fill="none"/>
<text x="384.9" y="436.25" font-size="5.8" text-anchor="end" stroke="#000" stroke-width="0.3">0</text>
<path d="M387.9 434.5L513.3 434.5" stroke="#000" stroke-width="1" fill="none"/>
<path d="M409.5 434.2L409.5 437.2" stroke="#000" stroke-width="1" fill="none"/>
<path d="M450.5 434.2L450.5 437.2" stroke="#000" stroke-width="1" fill="none"/>
<path d="M492.5 434.2L492.5 437.2" stroke="#000" stroke-width="1" fill="none"/>
<path d="M393.5 356V352.7H512.5V356M452.7 352.7v3.3" fill="none" stroke="#222" stroke-width="0.8"/>
<text x="423.2" y="357.4" font-size="13.5" text-anchor="middle" fill="#1a1a1a" stroke="#1a1a1a" stroke-width="0.2">*</text>
<text x="482.6" y="357.4" font-size="13.5" text-anchor="middle" fill="#1a1a1a" stroke="#1a1a1a" stroke-width="0.2">*</text>
<path d="M407.5 390.1l3 3M407.5 393.1l3 -3" stroke="#000" stroke-width="1.3" fill="none"/>
<path d="M412.7 387.4l3 3M412.7 390.4l3 -3" stroke="#000" stroke-width="1.3" fill="none"/>
<path d="M402.7 420.2l3 3M402.7 423.2l3 -3" stroke="#000" stroke-width="1.3" fill="none"/>
<path d="M407.5 421.5l3 3M407.5 424.5l3 -3" stroke="#000" stroke-width="1.3" fill="none"/>
<path d="M412.7 419.5l3 3M412.7 422.5l3 -3" stroke="#000" stroke-width="1.3" fill="none"/>
<path d="M397.3 428.3l3 3M397.3 431.3l3 -3" stroke="#000" stroke-width="1.3" fill="none"/>
<path d="M402.7 427l3 3M402.7 430l3 -3" stroke="#000" stroke-width="1.3" fill="none"/>
<path d="M407.5 428.3l3 3M407.5 431.3l3 -3" stroke="#000" stroke-width="1.3" fill="none"/>
<path d="M412.7 427l3 3M412.7 430l3 -3" stroke="#000" stroke-width="1.3" fill="none"/>
<path d="M417.5 428.3l3 3M417.5 431.3l3 -3" stroke="#000" stroke-width="1.3" fill="none"/>
<path d="M402.7 431l3 3M402.7 434l3 -3" stroke="#000" stroke-width="1.3" fill="none"/>
<path d="M410.3 431l3 3M410.3 434l3 -3" stroke="#000" stroke-width="1.3" fill="none"/>
<path d="M400.1 423.9l3 3M400.1 426.9l3 -3" stroke="#000" stroke-width="1.3" fill="none"/>
<path d="M415.1 423.7l3 3M415.1 426.7l3 -3" stroke="#000" stroke-width="1.3" fill="none"/>
<path d="M394.8 422.5L423.2 422.5" stroke="#000" stroke-width="1.1" fill="none"/>
<path d="M409.5 419L409.5 425.8" stroke="#000" stroke-width="1.25" fill="none"/>
<path d="M402.5 419.5L415.5 419.5" stroke="#000" stroke-width="1.2" fill="none"/>
<path d="M402.5 425.5L415.5 425.5" stroke="#000" stroke-width="1.2" fill="none"/>
<path d="M450.5 394.8l2.1 2.2l-2.1 2.2l-2.1 -2.2z" fill="#fff" stroke="#000" stroke-width="1.25"/>
<path d="M455.4 398.8l2.1 2.2l-2.1 2.2l-2.1 -2.2z" fill="#fff" stroke="#000" stroke-width="1.25"/>
<path d="M450.5 403.4l2.1 2.2l-2.1 2.2l-2.1 -2.2z" fill="#fff" stroke="#000" stroke-width="1.25"/>
<path d="M445.4 409.6l2.1 2.2l-2.1 2.2l-2.1 -2.2z" fill="#fff" stroke="#000" stroke-width="1.25"/>
<path d="M450.5 414.1l2.1 2.2l-2.1 2.2l-2.1 -2.2z" fill="#fff" stroke="#000" stroke-width="1.25"/>
<path d="M455.4 418.2l2.1 2.2l-2.1 2.2l-2.1 -2.2z" fill="#fff" stroke="#000" stroke-width="1.25"/>
<path d="M450.5 423l2.1 2.2l-2.1 2.2l-2.1 -2.2z" fill="#fff" stroke="#000" stroke-width="1.25"/>
<path d="M436.1 411.5L464.9 411.5" stroke="#000" stroke-width="1.1" fill="none"/>
<path d="M450.5 407L450.5 415" stroke="#000" stroke-width="1.25" fill="none"/>
<path d="M444 407.5L457 407.5" stroke="#000" stroke-width="1.2" fill="none"/>
<path d="M444 415.5L457 415.5" stroke="#000" stroke-width="1.2" fill="none"/>
<path d="M487.7 420.1l2.3 2.4l-2.3 2.4l-2.3 -2.4z" fill="#000"/>
<path d="M497.7 420.1l2.3 2.4l-2.3 2.4l-2.3 -2.4z" fill="#000"/>
<path d="M492.5 422.8l2.3 2.4l-2.3 2.4l-2.3 -2.4z" fill="#000"/>
<path d="M487.7 426.1l2.3 2.4l-2.3 2.4l-2.3 -2.4z" fill="#000"/>
<path d="M497.7 426.1l2.3 2.4l-2.3 2.4l-2.3 -2.4z" fill="#000"/>
<path d="M492.5 430.1l2.3 2.4l-2.3 2.4l-2.3 -2.4z" fill="#000"/>
<path d="M478.3 426.5L506.7 426.5" stroke="#000" stroke-width="1.1" fill="none"/>
<path d="M492.5 425L492.5 428.2" stroke="#000" stroke-width="1.25" fill="none"/>
<path d="M486.5 425.5L498.5 425.5" stroke="#000" stroke-width="1.2" fill="none"/>
<path d="M486.5 428.5L498.5 428.5" stroke="#000" stroke-width="1.2" fill="none"/>
<text x="410.95" y="438.4" font-size="5.8" font-weight="bold" text-anchor="end" textLength="11.9" lengthAdjust="spacingAndGlyphs" transform="rotate(-90 410.95 438.4)" stroke="#000" stroke-width="0.12">HIV-</text>
<text x="452.65" y="438.4" font-size="5.8" font-weight="bold" text-anchor="end" textLength="21" lengthAdjust="spacingAndGlyphs" transform="rotate(-90 452.65 438.4)" stroke="#000" stroke-width="0.12">Viremic</text>
<text x="494.55" y="438.4" font-size="5.8" font-weight="bold" text-anchor="end" textLength="25.2" lengthAdjust="spacingAndGlyphs" transform="rotate(-90 494.55 438.4)" stroke="#000" stroke-width="0.12">Aviremic</text>
</g>
<g opacity="0.99" filter="url(#soft2)">
<text x="70.2" y="45.8" font-size="4.2" font-weight="bold" fill="#222" textLength="11.6" lengthAdjust="spacingAndGlyphs" paint-order="stroke" stroke="#fff" stroke-opacity="0.75" stroke-width="1.1">B cells</text>
<text x="70.2" y="51" font-size="4.2" fill="#4a4a4a" textLength="7.6" lengthAdjust="spacingAndGlyphs" paint-order="stroke" stroke="#fff" stroke-opacity="0.75" stroke-width="1.1">6,95</text>
<text x="162.8" y="47.2" font-size="4.2" font-weight="bold" fill="#222" textLength="16.4" lengthAdjust="spacingAndGlyphs" paint-order="stroke" stroke="#fff" stroke-opacity="0.75" stroke-width="1.1">CD27neg</text>
<text x="162.8" y="52.4" font-size="4.2" fill="#4a4a4a" textLength="9.6" lengthAdjust="spacingAndGlyphs" paint-order="stroke" stroke="#fff" stroke-opacity="0.75" stroke-width="1.1">38,88</text>
<text x="195.7" y="47.2" font-size="4.2" font-weight="bold" fill="#222" textLength="17.6" lengthAdjust="spacingAndGlyphs" paint-order="stroke" stroke="#fff" stroke-opacity="0.75" stroke-width="1.1">CD27 pos</text>
<text x="195.7" y="52.4" font-size="4.2" fill="#4a4a4a" textLength="9.6" lengthAdjust="spacingAndGlyphs" paint-order="stroke" stroke="#fff" stroke-opacity="0.75" stroke-width="1.1">61,12</text>
<text x="288.5" y="48.4" font-size="4.2" font-weight="bold" fill="#222" textLength="6.6" lengthAdjust="spacingAndGlyphs" paint-order="stroke" stroke="#fff" stroke-opacity="0.75" stroke-width="1.1">IgM-</text>
<text x="288.5" y="53.6" font-size="4.2" fill="#4a4a4a" textLength="9.6" lengthAdjust="spacingAndGlyphs" paint-order="stroke" stroke="#fff" stroke-opacity="0.75" stroke-width="1.1">31,62</text>
<text x="322.7" y="48.4" font-size="4.2" font-weight="bold" fill="#222" textLength="7.6" lengthAdjust="spacingAndGlyphs" paint-order="stroke" stroke="#fff" stroke-opacity="0.75" stroke-width="1.1">IgM+</text>
<text x="322.7" y="53.6" font-size="4.2" fill="#4a4a4a" textLength="9.6" lengthAdjust="spacingAndGlyphs" paint-order="stroke" stroke="#fff" stroke-opacity="0.75" stroke-width="1.1">68,41</text>
<text x="414.8" y="21" font-size="4.2" font-weight="bold" fill="#222" textLength="25.6" lengthAdjust="spacingAndGlyphs" paint-order="stroke" stroke="#fff" stroke-opacity="0.75" stroke-width="1.1">CD1c+CD21hi</text>
<text x="414.8" y="25.9" font-size="4.2" fill="#4a4a4a" textLength="9.4" lengthAdjust="spacingAndGlyphs" paint-order="stroke" stroke="#fff" stroke-opacity="0.75" stroke-width="1.1">39,41</text>
<text x="443.9" y="21" font-size="4.2" font-weight="bold" fill="#222" textLength="26.3" lengthAdjust="spacingAndGlyphs" paint-order="stroke" stroke="#fff" stroke-opacity="0.75" stroke-width="1.1">CD1c+CD21lo</text>
<text x="443.9" y="25.9" font-size="4.2" fill="#4a4a4a" textLength="9.4" lengthAdjust="spacingAndGlyphs" paint-order="stroke" stroke="#fff" stroke-opacity="0.75" stroke-width="1.1">49,89</text>
</g>
</svg>
</body></html>
